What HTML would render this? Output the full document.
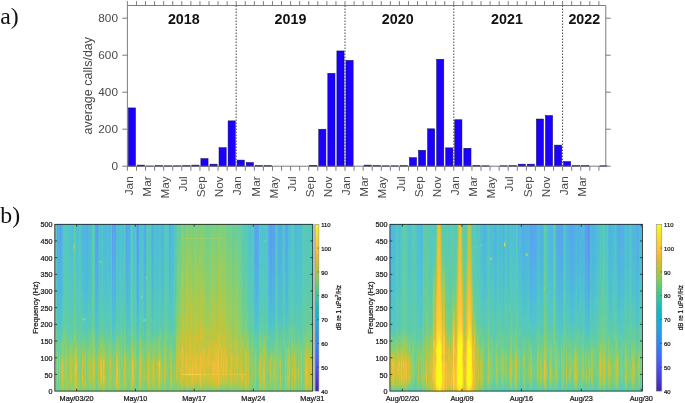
<!DOCTYPE html>
<html><head><meta charset="utf-8"><title>Figure</title>
<style>
html,body{margin:0;padding:0;background:#fff}
#p{position:relative;width:685px;height:403px;overflow:hidden;background:#fff;font-family:"Liberation Sans",sans-serif}
.sp{position:absolute;display:flex;top:224px;height:167px}
.sp i{flex:1 0 0;display:block;height:100%}
svg{position:absolute;left:0;top:0;font-family:"Liberation Sans",sans-serif}
.s{stroke:#161616;stroke-width:.22px}
</style></head><body><div id="p">
<div class="sp" style="left:55px;width:258px"><i style="background:linear-gradient(#50c1cf,#51c3cc,#51c3cb,#52c4c9,#52c4c9,#52c4c9,#52c4c9,#56c7c2,#52c5c8,#55c7c2,#56c7c1,#57c9bb,#58c9b9,#59cab5,#5dcbae,#5ccbaf,#5dcbae,#6dce92,#73ce8a,#7fcf7c,#7dcf7d,#74ce89,#88ce71,#78cf84,#7acf81,#6ece91)"></i><i style="background:linear-gradient(#53c5c6,#55c7c3,#56c7c1,#56c7c2,#57c8bd,#56c8bf,#55c7c2,#58c9b9,#56c8bf,#57c8bc,#59c9b6,#5ccab0,#5ecbad,#5ecbac,#60cca7,#5fcbaa,#77cf85,#68cd99,#6fce90,#75cf88,#86ce74,#7ecf7d,#80cf7b,#7acf81,#77cf85,#7bcf80)"></i><i style="background:linear-gradient(#5ba1ef,#5aa3ee,#5aa3ee,#57a8eb,#57a8eb,#55ace8,#55ace8,#54aee7,#53afe6,#51b3e2,#51b4e2,#50b5e0,#4fb9dc,#4fbada,#50c2ce,#52c5c8,#53c5c7,#5acab4,#66cd9d,#7ccf7f,#acca4d,#bec63e,#c0c63d,#c3c53a,#b2c947,#87ce72)"></i><i style="background:linear-gradient(#58a5ed,#57a8eb,#55ace9,#56a9ea,#53b0e5,#52b1e4,#52b1e4,#51b3e2,#51b4e1,#4fb8dd,#4fb9dc,#4fbbd9,#4fbcd8,#4fc1cf,#4fc1cf,#52c5c8,#56c7c1,#5bcab1,#69ce98,#5fcca8,#6ece91,#6ace97,#6cce93,#75cf88,#6ace97,#66cd9c)"></i><i style="background:linear-gradient(#5aa3ee,#57a9eb,#58a7ec,#57a7ec,#55abe9,#56a9ea,#54aee7,#52b1e4,#52b1e4,#51b3e3,#52b2e4,#4fbadb,#4fbbd9,#4fc0d2,#51c3cc,#51c3cc,#58c9ba,#5acab4,#72ce8c,#81cf79,#b1c948,#b2c947,#b3c846,#aec94b,#a9ca4f,#93cd65)"></i><i style="background:linear-gradient(#5c9ef0,#5ba0ef,#59a4ed,#59a5ed,#58a6ed,#55ace8,#55abe9,#53b0e5,#53afe6,#53aee7,#50b5e1,#4fb9dc,#4fbbd9,#4fbfd3,#4fbfd3,#4fc1d0,#56c8bf,#58c9b9,#64cda0,#67cd9b,#76cf86,#82cf78,#80cf7a,#81cf79,#76cf86,#7fcf7c)"></i><i style="background:linear-gradient(#54ade7,#54aee7,#53b0e5,#53afe6,#51b3e2,#50b6df,#50b5e0,#50b5e0,#50b6df,#4fbadb,#4fbadb,#4fbcd7,#4fc0d1,#50c2ce,#53c5c7,#55c7c2,#58c9b9,#68cd99,#78cf84,#82cf78,#97cd61,#c1c53c,#c7c438,#b1c947,#a2cb56,#95cd62)"></i><i style="background:linear-gradient(#4fbada,#4fb8dc,#4fb9dc,#4fbbd9,#4fbbda,#4fbdd7,#4fbed4,#4fc0d2,#4fc1d0,#4fbfd2,#4fc0d2,#52c5c8,#53c6c6,#56c8c0,#57c8bd,#5bcab1,#63cda1,#68cd9a,#8dce6b,#87ce72,#acca4c,#e3bf36,#eabe38,#d9c035,#d2c235,#97cd60)"></i><i style="background:linear-gradient(#54c6c4,#56c8c0,#56c8c0,#56c7c0,#56c7c2,#57c8bd,#57c8bc,#57c8be,#57c8bc,#59c9b7,#59c9b7,#5bcab2,#5ecbab,#61cca6,#61cca5,#63cda1,#67cd9a,#7acf82,#83cf77,#8ece6a,#98cd5f,#c4c53a,#a9ca4f,#cac337,#b7c843,#92ce66)"></i><i style="background:linear-gradient(#56c8c0,#57c8bc,#56c8bf,#57c8bd,#56c8bf,#57c9bb,#58c9ba,#58c9ba,#5ccaaf,#5ccaaf,#5ccab0,#5bcab3,#5fcba9,#61cca6,#62cca3,#61cca5,#71ce8d,#80cf7b,#76cf87,#75cf87,#8cce6c,#83cf77,#92cd66,#98cd60,#84ce75,#8ece6a)"></i><i style="background:linear-gradient(#58c9b9,#59c9b7,#5acab5,#5acab4,#5ccab0,#5acab4,#5dcbae,#5ccaaf,#5dcbaf,#5dcbad,#5fcba9,#5fcbaa,#5fcbaa,#64cd9f,#66cd9d,#67cd9b,#76cf87,#6ace96,#91ce66,#87ce72,#a5cb53,#c5c439,#ccc337,#c3c53a,#b0c949,#95cd62)"></i><i style="background:linear-gradient(#57c8bc,#55c7c3,#56c8bf,#56c7c1,#57c9bb,#58c9b9,#59c9b7,#59c9b6,#58c9b8,#59cab5,#5acab3,#5ecbac,#5ecbab,#5fcba9,#62cca3,#61cca5,#61cca5,#6ece91,#92ce66,#8cce6d,#94cd64,#b0c949,#8ace6f,#a2cb55,#9dcc5b,#93cd64)"></i><i style="background:linear-gradient(#56c8be,#56c8bf,#56c8bf,#57c8be,#57c8be,#57c9ba,#58c9b8,#59c9b6,#5bcab2,#5ecbab,#5dcbae,#5fcbaa,#60cca7,#60cca7,#60cca7,#62cca2,#74cf89,#70ce8e,#66cd9c,#81cf79,#8fce69,#91ce67,#8ace6f,#8dce6b,#9fcc58,#93cd64)"></i><i style="background:linear-gradient(#52c4c9,#52c4c9,#52c4c9,#54c6c5,#53c6c5,#56c7c1,#54c6c5,#56c7c1,#56c8c0,#56c8bf,#57c8bc,#57c9bb,#5acab4,#5acab3,#5ccab0,#5dcbad,#5bcab1,#6bce95,#70ce8f,#80cf7a,#7ecf7d,#95cd63,#8cce6c,#a1cc56,#9acd5e,#84ce75)"></i><i style="background:linear-gradient(#51c3cb,#50c3cd,#52c5c8,#54c6c5,#53c5c6,#53c6c5,#55c7c3,#56c7c2,#56c8be,#57c8be,#57c8bd,#5bcab2,#59cab5,#5dcbad,#5ccaaf,#61cca5,#68cd9a,#6fce90,#78cf84,#85ce75,#87ce72,#9dcc5b,#94cd64,#90ce68,#8cce6c,#8dce6b)"></i><i style="background:linear-gradient(#51c3cb,#50c2cd,#51c3cc,#52c5c8,#51c4ca,#54c6c4,#54c6c5,#55c7c3,#56c8c0,#57c8bd,#56c8c0,#57c8bd,#59cab6,#5bcab1,#5fcbaa,#61cca5,#61cca5,#61cca5,#7acf82,#a0cc58,#c1c53c,#b3c846,#cdc236,#bfc63d,#b1c948,#7acf81)"></i><i style="background:linear-gradient(#4fbfd3,#4fc1d0,#4fc1cf,#4fc1d0,#50c2cf,#51c3cc,#52c4c9,#51c3cb,#52c5c7,#55c7c3,#54c6c4,#56c8c0,#57c8bc,#58c9b9,#59c9b7,#5fcbaa,#61cca4,#7ccf7f,#8bce6e,#88ce71,#93cd65,#cec236,#b0c949,#e7bf37,#a7cb51,#83cf77)"></i><i style="background:linear-gradient(#4fbdd6,#4fbdd6,#4fbed5,#4fc1d0,#50c2ce,#50c2cf,#4fc0d1,#50c3cc,#51c4ca,#52c4c9,#54c6c4,#55c7c4,#54c6c4,#56c8c0,#59cab5,#5ecbac,#5dcbad,#62cca4,#85ce75,#85ce74,#99cd5e,#b6c843,#a6cb51,#a4cb54,#81cf79,#8dce6c)"></i><i style="background:linear-gradient(#52c5c8,#55c7c2,#54c6c4,#52c5c7,#56c8bf,#56c7c1,#57c9bb,#58c9ba,#57c8bc,#57c8bc,#59cab5,#5bcab3,#5acab3,#5dcbae,#60cca8,#61cca6,#66cd9d,#72ce8c,#77cf85,#72ce8c,#8fce69,#a6cb52,#a8ca50,#90ce68,#9bcc5d,#abca4d)"></i><i style="background:linear-gradient(#62cca3,#61cca6,#61cca6,#64cda0,#63cca2,#63cda1,#67cd9b,#68cd99,#6ace97,#6bce95,#67cd9b,#69cd99,#70ce8f,#6fce8f,#70ce8e,#6dce92,#70ce8f,#8fce69,#79cf82,#a1cc57,#a4cb54,#abca4e,#a7cb51,#aeca4b,#adca4c,#a7cb51)"></i><i style="background:linear-gradient(#57c8bd,#56c8be,#59c9b7,#59c9b6,#58c9b8,#58c9b8,#58c9b9,#5acab4,#5ccab0,#5dcbae,#60cca7,#5fcba9,#5fcca8,#64cda0,#68cd9a,#69ce98,#71ce8d,#8ece6b,#8fce69,#bcc63f,#dcc035,#eabe38,#f8c23b,#dcc035,#ebbe39,#91ce67)"></i><i style="background:linear-gradient(#4fc0d2,#4fbed5,#4fbfd3,#4fc0d2,#51c3cc,#50c2ce,#50c2ce,#51c3cb,#53c6c6,#52c5c8,#56c8c0,#56c8c0,#57c8bd,#59c9b6,#5dcbaf,#5fcbaa,#6dce92,#70ce8e,#8cce6d,#9fcc58,#bcc63f,#f5c03b,#dec035,#d3c135,#cec236,#aaca4e)"></i><i style="background:linear-gradient(#4fc0d1,#50c2ce,#50c2cd,#51c3cc,#51c4c9,#52c4c9,#53c5c6,#52c4c9,#53c5c7,#56c8c0,#56c8bf,#56c8be,#5bcab2,#58c9ba,#5bcab2,#5ecbab,#5fcbaa,#60cca8,#72ce8c,#8ece6b,#99cd5f,#acca4d,#a1cc57,#9dcc5a,#a8ca50,#7fcf7b)"></i><i style="background:linear-gradient(#4fc1d0,#50c1cf,#50c1cf,#50c1cf,#51c4ca,#50c3cd,#51c4ca,#50c2ce,#52c4c9,#53c6c6,#56c7c1,#57c8bd,#57c8be,#58c9b9,#59c9b7,#5dcbae,#63cda1,#62cca3,#74ce89,#76cf87,#7dcf7e,#7fcf7b,#85ce74,#a0cc58,#8bce6e,#7bcf80)"></i><i style="background:linear-gradient(#57c8bc,#57c8bc,#56c8be,#5bcab3,#5ccab0,#59c9b7,#59c9b7,#5dcbae,#5ccaaf,#5dcbae,#5fcbaa,#5dcbae,#62cca4,#61cca6,#61cca5,#62cca2,#62cca4,#72ce8b,#7ccf7f,#89ce70,#96cd61,#bec63d,#84ce76,#a6cb52,#afc949,#7fcf7b)"></i><i style="background:linear-gradient(#52c5c8,#53c6c6,#52c5c7,#53c6c6,#55c7c2,#56c7c1,#57c8be,#57c8bc,#57c9bb,#59cab5,#58c9ba,#5ccaaf,#5ccab0,#5ccaaf,#5dcbae,#63cda1,#64cda0,#68cd9a,#69ce98,#86ce73,#74cf89,#7bcf81,#72ce8c,#85ce74,#7ecf7d,#80cf7a)"></i><i style="background:linear-gradient(#4fbfd3,#4fbed5,#4fbdd7,#50c2ce,#50c2ce,#50c2ce,#51c3cb,#51c4cb,#54c6c5,#53c5c7,#54c6c4,#57c9bb,#57c9ba,#57c8bd,#5bcab2,#5bcab1,#60cca6,#6ace96,#68cd99,#7ecf7d,#89ce70,#80cf7a,#8cce6d,#8ece6a,#7bcf80,#7ccf7f)"></i><i style="background:linear-gradient(#4fbada,#4fb8dd,#4fbbda,#4fbbd9,#4fbbda,#4fbdd7,#4fc0d2,#4fc0d1,#4fc0d1,#4fc1cf,#51c3cb,#52c4c9,#55c7c2,#57c8be,#59c9b6,#59cab5,#5ccbaf,#6ace97,#7ecf7d,#9ccc5c,#bdc63e,#e0bf36,#d3c135,#f1bf3a,#c6c439,#96cd62)"></i><i style="background:linear-gradient(#50b6e0,#4fbbd9,#4fbadb,#4fbcd8,#4fbcd8,#4fbdd7,#4fbdd6,#4fbfd2,#50c1cf,#50c1cf,#4fc0d2,#51c4ca,#51c4ca,#52c5c8,#55c7c3,#59c9b6,#5acab4,#64cd9f,#76cf86,#74cf89,#8cce6c,#96cd62,#89ce6f,#86ce73,#7acf81,#7bcf80)"></i><i style="background:linear-gradient(#52b1e4,#51b4e2,#52b1e5,#51b4e1,#51b3e2,#50b6df,#4fb8dd,#4fb8dd,#4fbdd6,#4fbbd9,#4fbdd7,#4fc0d2,#4fc1d0,#51c4ca,#54c6c4,#56c7c1,#5dcbad,#64cd9f,#75cf88,#84ce75,#b2c947,#b2c947,#a5cb53,#b6c844,#b1c948,#81cf79)"></i><i style="background:linear-gradient(#51b4e2,#50b5e1,#4fb9dc,#50b7df,#4fb8dd,#4fbbda,#4fbed5,#4fbcd8,#4fbdd6,#4fbed4,#4fc0d1,#51c3cb,#51c4ca,#55c7c3,#56c8be,#57c9bb,#57c8bd,#67cd9b,#6bce95,#a0cc57,#a8cb50,#bdc63e,#b5c844,#bfc63d,#c6c439,#81cf79)"></i><i style="background:linear-gradient(#53aee6,#54aee7,#52b2e3,#53afe6,#52b2e4,#50b6df,#50b5e1,#4fb7de,#4fb8dd,#4fb9dc,#4fbbd9,#4fbfd2,#4fc0d1,#50c2cd,#53c6c6,#54c6c4,#59cab6,#5fcbaa,#76cf86,#6ace97,#7acf82,#70ce8e,#7ecf7d,#72ce8b,#8bce6d,#76cf86)"></i><i style="background:linear-gradient(#54ade7,#52b1e5,#52b0e5,#51b3e2,#51b3e2,#52b1e5,#50b7de,#50b7de,#4fb8dd,#4fbadb,#4fbbd9,#4fc1d0,#4fc0d1,#50c3cd,#51c3cc,#55c7c3,#58c9b9,#5dcbae,#63cda1,#79cf83,#84ce75,#94cd64,#95cd63,#81cf79,#89ce70,#70ce8f)"></i><i style="background:linear-gradient(#4fbbd9,#4fbcd8,#4fbcd8,#4fbed5,#4fbed5,#4fc1d0,#4fc1d0,#51c3cc,#4fc0d2,#50c2ce,#52c4c9,#53c5c6,#57c9bb,#57c8bd,#57c9bb,#5acab5,#5ecbab,#6cce93,#72ce8c,#8bce6d,#95cd63,#abca4d,#9dcc5a,#a6cb52,#87ce72,#77cf86)"></i><i style="background:linear-gradient(#52b2e4,#51b4e2,#51b2e3,#51b3e3,#50b5e1,#50b7de,#50b5e0,#50b7de,#4fbbd9,#4fbbd9,#4fbcd7,#4fc0d1,#50c1cf,#54c6c4,#55c7c3,#56c7c1,#5ccab0,#6dce92,#65cd9d,#83ce76,#bbc740,#99cd5e,#b7c843,#acca4c,#93cd65,#7dcf7d)"></i><i style="background:linear-gradient(#4fbcd7,#4fbfd4,#4fbcd8,#4fbfd3,#4fbed4,#4fbfd4,#4fc0d1,#4fc1d0,#50c2ce,#50c3cc,#51c3cb,#51c3cc,#55c7c2,#54c6c4,#58c9ba,#59c9b6,#5fcbaa,#6ace96,#7acf82,#93cd65,#8ace6e,#bfc63d,#adca4b,#cac337,#a5cb52,#7fcf7b)"></i><i style="background:linear-gradient(#4fbdd6,#4fbdd6,#4fbed4,#4fc0d2,#4fbfd4,#50c2ce,#4fc1d0,#50c2ce,#51c4ca,#51c3cb,#52c5c8,#54c6c4,#55c7c2,#57c8bc,#58c9b8,#5acab5,#62cca3,#6ece91,#85ce74,#8dce6b,#97cd61,#9ccc5c,#a3cb55,#bbc73f,#99cd5f,#75cf88)"></i><i style="background:linear-gradient(#5dcbae,#5dcbaf,#5dcbae,#5ecbac,#5fcca8,#5ccaaf,#60cca7,#62cca4,#63cda1,#5fcbaa,#60cca7,#65cd9f,#67cd9a,#65cd9e,#6cce94,#69ce97,#77cf85,#7ecf7c,#90ce69,#84ce75,#a1cc57,#b0c948,#aec94a,#a5cb53,#8dce6b,#80cf7a)"></i><i style="background:linear-gradient(#60cca6,#61cca5,#60cca8,#64cda0,#65cd9e,#62cca4,#66cd9d,#66cd9d,#64cd9f,#67cd9b,#69ce98,#6bce96,#6bce95,#6ace96,#74ce8a,#6cce94,#72ce8b,#93cd65,#97cd61,#b2c947,#bfc63d,#ddc035,#e2bf36,#dec036,#c0c53c,#91ce67)"></i><i style="background:linear-gradient(#53c5c6,#55c7c3,#56c8bf,#54c6c5,#56c7c1,#57c8bc,#56c8be,#56c8c0,#57c9bb,#5bcab2,#5dcbaf,#5bcab2,#5ccaaf,#5ccab0,#60cca8,#63cda1,#64cda0,#7ccf7f,#7fcf7c,#96cd62,#adca4b,#cac337,#d6c135,#c9c337,#a6cb52,#91ce67)"></i><i style="background:linear-gradient(#5ba0f0,#59a5ed,#58a7ec,#58a6ec,#58a6ec,#56a9eb,#55ace8,#54aee7,#52b2e4,#51b3e2,#51b3e3,#50b7df,#4fbada,#4fbed5,#4fbfd3,#50c1cf,#56c8be,#5ccaaf,#63cda1,#77cf85,#73ce8b,#83cf77,#7bcf80,#84ce75,#81cf79,#7ecf7d)"></i><i style="background:linear-gradient(#5e9af1,#5e9bf1,#5aa2ef,#5ba0f0,#59a4ed,#58a7ec,#57a8eb,#56aaea,#56a9ea,#53afe6,#52b1e5,#50b5e0,#50b7de,#4fbbd9,#4fbfd3,#4fbfd3,#53c6c6,#56c8be,#63cca2,#5dcbad,#78cf84,#78cf84,#75cf88,#7dcf7e,#68cd9a,#6ace97)"></i><i style="background:linear-gradient(#6294f3,#6097f2,#5f98f2,#5e9bf1,#5e9cf1,#5ba1ef,#59a4ed,#58a7ec,#57a8eb,#55ace8,#55ace8,#52b1e4,#51b4e2,#4fb8dd,#4fbadb,#4fbed4,#4fbfd4,#59c9b7,#58c9ba,#64cd9f,#7bcf81,#72ce8c,#7dcf7d,#70ce8e,#79cf82,#6ece91)"></i><i style="background:linear-gradient(#51b4e1,#50b7de,#50b7de,#4fb9dc,#4fb7de,#4fbbd9,#4fbcd7,#4fbbd9,#4fbdd7,#4fbdd6,#4fbed4,#4fc1cf,#51c3cb,#52c4c9,#53c6c5,#58c9b9,#5ccbaf,#64cda0,#70ce8e,#91ce67,#a3cb55,#bcc63f,#a9ca4f,#bac740,#a0cc58,#7dcf7d)"></i><i style="background:linear-gradient(#4fbdd7,#4fbbd9,#4fbed5,#4fbed4,#4fc1d0,#4fbdd6,#4fc0d2,#50c2ce,#51c4ca,#51c3cb,#53c5c7,#53c5c7,#56c8be,#56c8c0,#58c9ba,#5bcab2,#5fcbaa,#72ce8c,#71ce8d,#8ace6f,#95cd63,#b3c846,#94cd64,#9ccc5c,#adca4c,#85ce74)"></i><i style="background:linear-gradient(#4fc0d1,#4fc1d0,#4fc1d0,#50c3cc,#50c1cf,#50c3cc,#50c2cd,#52c4c9,#52c4c9,#51c4ca,#57c8bc,#56c8c0,#58c9b9,#59c9b6,#59c9b7,#60cca8,#65cd9f,#88ce71,#8bce6d,#abca4e,#c8c338,#e9be38,#e5bf37,#d7c135,#b9c741,#8cce6c)"></i><i style="background:linear-gradient(#4fbfd4,#4fbfd3,#4fbed5,#4fbed5,#50c1cf,#50c1cf,#50c2ce,#50c2cd,#53c5c6,#52c5c8,#54c6c4,#56c7c1,#56c7c1,#59c9b7,#5bcab2,#5bcab3,#62cca4,#64cda0,#93cd65,#93cd65,#d7c135,#e5bf37,#ecbf39,#f2bf3b,#d1c236,#80cf7a)"></i><i style="background:linear-gradient(#50c3cc,#51c4ca,#51c4cb,#55c7c2,#54c6c5,#54c6c5,#56c8bf,#56c8bf,#56c8c0,#58c9b9,#57c8bd,#58c9b9,#5bcab1,#5dcbad,#5fcca8,#5fcba9,#69cd99,#74cf89,#8fce6a,#8dce6c,#9fcc58,#c5c439,#c3c53a,#b0c949,#b2c947,#a1cc57)"></i><i style="background:linear-gradient(#4fbadb,#4fbbd9,#4fbdd6,#4fbfd3,#4fbdd6,#4fbfd3,#50c2cf,#4fc1cf,#4fc1cf,#50c2cd,#52c4c9,#53c6c5,#56c7c1,#56c8bf,#58c9ba,#5ccab0,#5dcbae,#6ace97,#7fcf7b,#b2c946,#d6c135,#f3c03b,#e4bf37,#f6c13b,#d9c035,#98cd60)"></i><i style="background:linear-gradient(#4fb9db,#4fbada,#4fbcd8,#4fbed5,#4fbdd6,#4fbfd3,#4fc0d2,#4fc1d0,#4fc0d1,#52c5c8,#50c2cd,#55c7c3,#55c7c2,#57c9bb,#58c9b8,#5acab3,#5bcab1,#67cd9b,#83cf77,#9ccc5b,#b7c843,#dbc035,#cec236,#e3bf36,#c9c337,#88ce71)"></i><i style="background:linear-gradient(#4fbbd9,#4fbada,#4fbbda,#4fbbda,#4fc0d1,#4fc0d1,#4fc0d1,#4fc1d0,#4fc0d1,#50c2ce,#52c5c7,#52c4c9,#55c7c2,#57c8bc,#59cab5,#59c9b7,#5ecbac,#62cca4,#68cd9a,#84ce75,#99cd5e,#a5cb53,#92cd66,#a2cc56,#95cd63,#78cf84)"></i><i style="background:linear-gradient(#52b2e4,#50b6df,#50b6df,#50b7de,#4fb9dc,#4fb8dd,#4fbada,#4fbcd7,#4fbcd8,#4fbed5,#4fbfd3,#51c3cc,#51c4ca,#55c7c3,#55c7c2,#58c9ba,#5ccab0,#64cda0,#6bce95,#77cf86,#92cd66,#84ce76,#8ece6a,#96cd61,#86ce73,#75cf88)"></i><i style="background:linear-gradient(#51c4ca,#52c5c8,#51c4ca,#53c5c6,#55c7c3,#55c7c3,#53c6c5,#55c7c3,#56c8bf,#57c8bd,#59c9b7,#59cab6,#5acab3,#5dcbad,#5dcbaf,#5dcbae,#5fcca8,#77cf86,#74cf89,#7ecf7d,#8dce6c,#9dcc5b,#7acf81,#83cf77,#91ce66,#7ccf7e)"></i><i style="background:linear-gradient(#4fbadb,#4fb8dc,#4fbada,#4fbada,#4fbcd8,#4fbfd2,#4fbed4,#4fbfd3,#4fc0d1,#50c2ce,#51c3cc,#53c5c7,#53c5c7,#57c8bc,#58c9ba,#57c9bb,#5bcab1,#68cd9a,#6ece91,#75cf88,#7fcf7b,#8dce6c,#82cf78,#83cf77,#80cf7a,#78cf84)"></i><i style="background:linear-gradient(#4fbcd7,#4fbed5,#4fbfd3,#4fbed4,#4fc0d1,#4fc1d0,#4fc0d1,#50c2cd,#50c1cf,#50c3cc,#51c4ca,#55c7c3,#56c7c1,#59cab6,#56c8be,#59cab6,#59c9b7,#6cce94,#86ce74,#a9ca4f,#a6cb52,#bec63e,#b8c742,#bbc740,#b8c742,#8ace6f)"></i><i style="background:linear-gradient(#4fbfd4,#4fbed4,#4fbfd2,#4fbed5,#4fc0d1,#4fc1d0,#4fc1cf,#50c2ce,#52c4c8,#53c5c6,#54c6c4,#53c6c6,#56c8bf,#57c9bb,#59c9b7,#62cca4,#65cd9e,#6dce92,#79cf83,#94cd64,#b3c946,#dac035,#b6c844,#b3c946,#b3c946,#76cf87)"></i><i style="background:linear-gradient(#54c6c4,#55c7c3,#56c7c2,#55c7c2,#55c7c2,#56c7c2,#54c6c5,#55c7c2,#57c8be,#59c9b7,#58c9b9,#5acab4,#5dcbad,#5fcbaa,#60cca7,#5fcbaa,#71ce8c,#63cda1,#7bcf80,#78cf83,#95cd63,#90ce68,#90ce69,#9acd5e,#8cce6c,#91ce67)"></i><i style="background:linear-gradient(#5e9bf1,#5e9bf1,#5c9ff0,#5e9bf1,#5ba1ef,#5aa3ee,#59a4ed,#57a8eb,#56aaea,#54ade8,#52b0e5,#51b3e2,#50b6df,#4fbcd8,#4fbed5,#4fc1d0,#51c3cb,#56c7c1,#69ce97,#6cce94,#86ce74,#96cd62,#8ece6b,#81cf79,#95cd63,#76cf87)"></i><i style="background:linear-gradient(#59a3ee,#57a8eb,#55abe9,#56aaea,#54ade7,#55ace8,#54aee7,#52b1e4,#51b4e2,#50b6e0,#50b5e1,#4fbada,#4fbdd6,#4fc0d2,#50c2ce,#51c4ca,#57c8bc,#65cd9f,#66cd9d,#7dcf7e,#76cf87,#81cf79,#9ecc5a,#8cce6c,#7dcf7e,#77cf85)"></i><i style="background:linear-gradient(#5c9ff0,#59a4ed,#58a6ed,#58a5ed,#57a8eb,#57a8eb,#56a9ea,#53afe6,#53afe6,#52b2e3,#52b2e3,#50b6df,#4fb9dc,#4fbcd8,#50c2ce,#51c3cb,#57c8bc,#58c9ba,#61cca5,#75cf88,#6cce94,#81cf79,#83ce76,#89ce70,#8fce69,#6ace97)"></i><i style="background:linear-gradient(#5aa2ef,#5ba0ef,#5ba1ef,#58a6ed,#56aaea,#58a7ec,#55ace8,#54aee7,#53afe6,#51b3e2,#50b6df,#50b7de,#4fbada,#4fbcd7,#4fc0d2,#52c5c8,#54c6c5,#5ccbaf,#63cda1,#79cf83,#8dce6b,#8fce69,#87ce72,#acca4c,#9acd5e,#75cf88)"></i><i style="background:linear-gradient(#4fbdd6,#4fc0d1,#4fc0d1,#4fc1d0,#4fc0d1,#51c3cb,#50c2ce,#51c4ca,#51c4ca,#51c3cb,#53c5c7,#56c7c0,#56c8be,#5acab5,#5bcab2,#5ecbab,#63cda1,#6fce90,#85ce74,#98cd60,#d0c236,#ddc035,#ebbe39,#e7bf37,#e4bf37,#a0cc58)"></i><i style="background:linear-gradient(#50c3cd,#51c3cb,#50c1cf,#52c4c9,#51c4ca,#54c6c5,#55c7c3,#52c5c8,#56c8c0,#57c9bb,#56c8be,#57c8bc,#5bcab1,#5dcbae,#5ecbab,#63cca2,#60cca6,#7dcf7e,#7fcf7c,#a4cb54,#e2bf36,#e5bf37,#fac63a,#edbf39,#d1c236,#a4cb54)"></i><i style="background:linear-gradient(#4fbdd6,#4fc1d0,#4fbfd4,#4fc0d1,#4fc0d2,#50c2ce,#50c2ce,#51c3cb,#52c5c8,#50c3cc,#52c5c7,#54c6c4,#57c8be,#58c9b9,#59c9b7,#5bcab1,#59cab5,#70ce8e,#8ace6f,#86ce73,#92cd66,#aaca4e,#9acd5e,#b3c846,#b5c845,#9acd5d)"></i><i style="background:linear-gradient(#4fc0d2,#4fbfd3,#50c1cf,#4fc1d0,#51c3cc,#51c3cb,#51c3cb,#52c5c8,#54c6c4,#52c4c9,#56c7c1,#56c8bf,#56c8be,#58c9b9,#59c9b6,#5ecbab,#64cda0,#69ce98,#6dce93,#8dce6c,#a4cb54,#a2cc56,#cec236,#c6c439,#b9c741,#93cd65)"></i><i style="background:linear-gradient(#4fc1d0,#50c3cc,#4fc1d0,#50c2cd,#51c3cb,#51c4ca,#56c7c1,#55c7c3,#54c7c4,#57c8bd,#57c8bc,#59c9b6,#59c9b6,#5dcbaf,#5ccbaf,#5ccab0,#62cca4,#78cf85,#73ce8a,#7acf81,#8bce6d,#79cf82,#91ce67,#80cf7b,#8dce6c,#84ce75)"></i><i style="background:linear-gradient(#56c7c1,#55c7c2,#57c8bd,#57c8bc,#59c9b7,#59cab6,#59c9b6,#59cab5,#5acab3,#5bcab1,#5ecbab,#5fcba9,#62cca4,#60cca7,#62cca3,#66cd9d,#73ce8a,#81cf79,#79cf83,#8ece6b,#9acd5e,#adca4b,#87ce72,#85ce75,#9dcc5b,#7acf81)"></i><i style="background:linear-gradient(#4fbbd9,#4fbcd8,#4fbdd6,#4fbdd6,#4fbfd3,#4fbed5,#50c2ce,#4fc0d1,#50c2ce,#52c4c9,#52c4c9,#53c5c7,#57c9bb,#56c8be,#59cab6,#5acab3,#60cca8,#69ce98,#66cd9d,#6bce95,#75cf88,#89ce70,#7dcf7e,#7ccf7f,#7ccf7f,#84ce75)"></i><i style="background:linear-gradient(#51c3cb,#52c4c9,#53c6c6,#56c8bf,#54c6c5,#55c7c3,#56c8bf,#58c9b9,#56c8c0,#58c9ba,#58c9ba,#5bcab2,#5bcab2,#61cca4,#5ccaaf,#5fcca8,#65cd9d,#72ce8b,#7ccf7f,#7dcf7e,#85ce74,#8fce69,#8dce6b,#9acd5d,#93cd65,#81cf79)"></i><i style="background:linear-gradient(#55c7c3,#55c7c2,#53c6c6,#55c7c3,#56c7c2,#56c8be,#58c9b8,#56c8be,#5bcab2,#58c9b8,#5bcab1,#5acab5,#5ecbac,#5ecbab,#63cca2,#67cd9b,#75cf88,#74cf89,#7bcf80,#9ccc5c,#b8c742,#c5c439,#d9c035,#d9c035,#bec63e,#96cd62)"></i><i style="background:linear-gradient(#4fb9db,#4fb9db,#4fbbda,#4fbadb,#4fbcd8,#4fbbd9,#4fbcd8,#4fbfd3,#4fc0d1,#4fc1d0,#4fc1cf,#51c3cb,#51c4ca,#54c6c5,#56c8be,#5acab5,#5ecbaa,#6ace96,#77cf86,#8cce6c,#bac740,#d1c236,#b3c846,#bec63d,#c4c53a,#84ce75)"></i><i style="background:linear-gradient(#59a3ee,#55abe9,#56a9eb,#56a9eb,#54ace8,#54aee7,#53afe6,#53afe6,#51b2e3,#51b4e1,#50b6df,#4fbadb,#4fbcd8,#4fbfd3,#50c2ce,#52c5c8,#52c5c8,#62cca3,#60cca6,#71ce8d,#85ce74,#93cd65,#8dce6b,#84ce75,#8fce69,#71ce8c)"></i><i style="background:linear-gradient(#5aa3ee,#59a5ed,#59a4ed,#56aaea,#57a7ec,#54ade8,#57a8eb,#54ade8,#52b1e4,#52b1e4,#50b5e1,#50b7df,#4fbbd9,#4fbfd4,#4fbfd3,#50c2ce,#52c5c7,#59c9b7,#5dcbae,#7dcf7e,#84ce75,#76cf86,#7ecf7d,#81cf79,#76cf86,#67cd9a)"></i><i style="background:linear-gradient(#56aae9,#54ade7,#53afe6,#53afe6,#52b0e5,#51b3e3,#50b6df,#51b4e1,#4fb8dc,#4fbbd9,#4fbcd8,#4fbdd7,#4fbfd3,#4fc0d1,#52c4c9,#51c3cb,#59c9b7,#5ccaaf,#64cda0,#6cce93,#7ccf7f,#7ecf7d,#87ce72,#88ce71,#70ce8f,#7dcf7e)"></i><i style="background:linear-gradient(#56aae9,#56aaea,#56a9eb,#53b0e5,#54ade8,#54ade7,#52b2e4,#51b4e2,#50b5e0,#50b5e1,#4fb8dd,#4fbada,#4fbdd7,#4fbfd4,#50c3cc,#51c3cc,#57c8bd,#5fcbaa,#59c9b6,#6ace96,#73ce8b,#7bcf80,#82cf78,#7ecf7d,#75cf88,#67cd9b)"></i><i style="background:linear-gradient(#4fb9db,#4fb9db,#4fbbd9,#4fb9dc,#4fbcd7,#4fbbd8,#4fbfd4,#4fc1cf,#4fbdd7,#50c2cd,#50c3cc,#52c4c9,#51c4ca,#56c7c1,#56c7c0,#58c9ba,#59cab6,#62cca3,#72ce8c,#73ce8a,#81cf79,#98cd60,#76cf86,#91ce67,#9acd5d,#81cf79)"></i><i style="background:linear-gradient(#70ce8e,#74cf89,#72ce8b,#71ce8d,#6fce8f,#75cf88,#73ce8a,#75cf88,#75cf87,#73ce8a,#78cf84,#78cf84,#7fcf7b,#79cf82,#77cf85,#7ccf7f,#7ecf7d,#93cd65,#80cf7a,#a0cc58,#a9ca4f,#b6c844,#c1c53c,#a0cc58,#bcc73f,#99cd5f)"></i><i style="background:linear-gradient(#57c8bd,#58c9b8,#58c9ba,#57c8bc,#58c9b9,#5fcbaa,#5acab4,#5acab3,#5ccab0,#5dcbaf,#5dcbad,#60cca8,#63cca2,#64cda0,#66cd9d,#68cd9a,#72ce8b,#77cf85,#94cd64,#b0c949,#c4c43a,#f2bf3b,#f0bf3a,#efbf3a,#d8c035,#89ce70)"></i><i style="background:linear-gradient(#4fc0d1,#4fbfd2,#4fc0d1,#51c4ca,#50c2cd,#52c4c9,#52c5c8,#54c6c4,#53c5c6,#56c7c1,#55c7c2,#55c7c3,#57c9ba,#5acab3,#5dcbae,#5fcba9,#64cd9f,#72ce8c,#6fce90,#bac740,#c3c53b,#d5c135,#e4bf37,#d5c135,#c6c439,#85ce74)"></i><i style="background:linear-gradient(#4fbed5,#4fbed5,#4fbfd4,#4fc0d1,#4fc1d0,#50c2ce,#51c3cc,#51c4ca,#52c5c7,#52c5c8,#56c7c1,#56c7c1,#55c7c2,#57c8bc,#59c9b6,#5bcab1,#65cd9e,#6bce95,#75cf88,#83cf77,#93cd65,#a4cb54,#a1cc57,#9ccc5b,#9acd5e,#86ce73)"></i><i style="background:linear-gradient(#56c8c0,#56c7c1,#56c7c1,#56c8c0,#59c9b7,#57c8bd,#59c9b7,#58c9ba,#58c9b8,#5ccab0,#5ccab0,#5fcbaa,#5fcbaa,#5fcbaa,#5ecbab,#63cda1,#67cd9b,#6dce92,#80cf7a,#85ce74,#9dcc5b,#b5c844,#7bcf81,#89ce70,#8fce69,#8dce6c)"></i><i style="background:linear-gradient(#51b3e2,#52b1e4,#51b3e2,#50b5e1,#4fb9db,#4fbada,#4fb9dc,#4fbcd7,#4fbbd9,#4fbcd8,#4fbdd6,#4fbed4,#51c4ca,#52c5c7,#53c5c7,#55c7c2,#55c7c3,#60cca7,#74ce89,#6ace96,#73ce8b,#7ecf7c,#86ce73,#7acf82,#68cd9a,#70ce8e)"></i><i style="background:linear-gradient(#658bf3,#658cf3,#648df3,#6292f3,#6293f3,#5f98f2,#5e9af1,#5c9ff0,#59a3ee,#5aa3ee,#5aa3ee,#57a7ec,#54aee7,#52b1e5,#51b4e1,#4fbadb,#53c5c6,#51c3cc,#56c8bf,#62cca3,#6ece91,#78cf85,#66cd9d,#6fce90,#6cce94,#74ce8a)"></i><i style="background:linear-gradient(#5e9cf1,#5c9ff0,#5ba0ef,#59a3ee,#5c9ff0,#5aa2ee,#58a6ed,#55abe9,#54ade8,#53aee7,#52b2e4,#51b4e1,#51b4e2,#4fbadb,#4fbdd6,#4fc0d1,#56c8be,#57c8bc,#6ace97,#63cca2,#6ace96,#7ccf7f,#81cf79,#7dcf7d,#83ce76,#75cf88)"></i><i style="background:linear-gradient(#4fbed5,#4fbed5,#4fc0d2,#4fbfd3,#4fc0d2,#4fc0d2,#4fc1d0,#52c4c9,#50c3cc,#52c5c8,#54c6c4,#53c6c6,#57c8be,#57c8bc,#5bcab3,#5dcbae,#60cca8,#64cd9f,#8ace6e,#a3cb55,#b6c844,#a1cc57,#bcc73f,#bec63e,#c2c53b,#8cce6c)"></i><i style="background:linear-gradient(#4fbfd2,#51c3cb,#51c4ca,#51c4cb,#50c1cf,#53c5c7,#52c4c8,#53c5c7,#56c8c0,#55c7c2,#59c9b7,#56c8bf,#58c9b8,#5acab4,#5acab3,#61cca5,#67cd9b,#79cf83,#a9ca4f,#92ce66,#cdc336,#e4bf37,#eabe38,#d9c035,#d9c035,#81cf79)"></i><i style="background:linear-gradient(#50c1cf,#4fc1d0,#51c4cb,#50c2cf,#50c3cd,#51c4ca,#53c5c6,#51c4ca,#56c7c1,#54c6c4,#55c7c3,#57c8bd,#57c8bc,#59c9b7,#5ccbaf,#5dcbae,#5ccab0,#69ce98,#81cf79,#81cf78,#b5c844,#bdc63e,#a2cb55,#a5cb52,#88ce71,#84ce76)"></i><i style="background:linear-gradient(#4fc0d1,#4fc0d1,#51c3cb,#50c3cc,#51c4ca,#52c4c9,#54c6c5,#51c4ca,#55c7c3,#54c6c4,#56c8bf,#56c8c0,#57c8be,#59c9b7,#5bcab3,#5ecbab,#65cd9f,#5fcba9,#6ece91,#83ce76,#93cd65,#8dce6c,#95cd63,#85ce74,#85ce74,#82cf77)"></i><i style="background:linear-gradient(#4fc0d2,#4fbed5,#4fbed5,#4fc1d0,#50c2cf,#50c2cf,#50c1cf,#51c3cb,#53c5c7,#51c4ca,#52c5c7,#55c7c4,#56c8c0,#57c8bc,#5acab5,#5ccab0,#61cca5,#60cca7,#67cd9b,#88ce70,#82cf78,#9dcc5b,#8fce69,#a4cb54,#88ce71,#7fcf7b)"></i><i style="background:linear-gradient(#57a8eb,#57a7ec,#52b1e5,#54ade7,#52b1e4,#54ade8,#52b1e4,#51b4e1,#52b2e3,#50b7de,#4fbadb,#4fbed5,#4fbed4,#4fbfd3,#50c2cf,#51c3cc,#53c5c7,#5acab3,#71ce8d,#71ce8d,#78cf84,#8dce6b,#a1cc57,#aec94a,#7fcf7c,#81cf79)"></i><i style="background:linear-gradient(#59a4ee,#58a6ec,#58a6ed,#57a8eb,#56aaea,#55abe9,#55ace8,#54ade8,#54ade7,#50b5e1,#50b7de,#4fb7de,#4fbada,#4fbed4,#4fc0d1,#52c4c9,#57c8bc,#56c7c1,#5bcab1,#70ce8f,#6ace97,#6fce90,#6fce90,#81cf79,#65cd9e,#75cf88)"></i><i style="background:linear-gradient(#50c2cd,#50c3cc,#51c4ca,#52c5c8,#52c5c8,#53c5c6,#56c8c0,#58c9ba,#56c7c1,#56c8be,#58c9ba,#5acab4,#5acab4,#5ccab0,#5ccaaf,#60cca7,#6bce95,#6cce93,#7fcf7b,#82cf78,#96cd61,#a8cb50,#9bcd5d,#a6cb52,#89ce70,#75cf88)"></i><i style="background:linear-gradient(#58c9b9,#58c9b8,#5acab4,#5bcab2,#5ecbac,#5ecbab,#5bcab1,#5ecbab,#60cca8,#61cca4,#61cca5,#63cca2,#65cd9f,#67cd9b,#69ce98,#67cd9b,#72ce8c,#7acf81,#86ce74,#85ce74,#a2cb55,#a7cb51,#9ecc5a,#bec63e,#88ce71,#71ce8d)"></i><i style="background:linear-gradient(#55c7c2,#58c9b8,#58c9ba,#59cab6,#57c8bd,#59cab5,#5bcab1,#5acab3,#5dcbae,#5ccbaf,#5dcbae,#61cca6,#64cda0,#63cca2,#65cd9e,#64cda0,#73ce8a,#6ece92,#76cf87,#97cd61,#c5c439,#cbc337,#d3c135,#dac035,#cbc337,#91ce67)"></i><i style="background:linear-gradient(#52c5c8,#53c5c7,#51c4ca,#52c4c9,#53c5c6,#55c7c3,#56c7c1,#57c8bd,#56c7c1,#56c8be,#59c9b7,#5acab5,#59c9b7,#5bcab1,#60cca7,#60cca8,#63cca2,#7dcf7e,#84ce75,#92ce66,#c5c439,#bec63e,#d3c135,#cec236,#bac740,#89ce70)"></i><i style="background:linear-gradient(#56c8bf,#56c8be,#56c8bf,#58c9b9,#57c8bc,#58c9b9,#59cab5,#5acab4,#5acab3,#59c9b6,#5dcbad,#5ccbaf,#5dcbad,#64cda0,#60cca7,#66cd9c,#62cca4,#66cd9d,#8ace6e,#7acf81,#86ce73,#98cd5f,#96cd62,#a0cc57,#97cd61,#7fcf7b)"></i><i style="background:linear-gradient(#50b5e1,#50b6df,#4fb8dd,#4fb7de,#4fb8dd,#4fbcd8,#4fbbd9,#4fbdd6,#4fbed5,#4fc0d2,#51c3cb,#50c3cc,#52c5c8,#51c4ca,#56c8bf,#56c8be,#59cab6,#63cda1,#71ce8d,#73ce8a,#8cce6c,#a7cb51,#9dcc5b,#91ce67,#9dcc5b,#7bcf80)"></i><i style="background:linear-gradient(#56aaea,#54aee7,#52b1e4,#52b2e3,#52b1e4,#51b4e1,#50b5e0,#4fb8de,#50b7de,#4fb8dd,#4fbcd8,#4fc0d2,#4fc0d2,#50c3cd,#52c4c9,#55c7c2,#5acab4,#65cd9f,#66cd9d,#90ce68,#8bce6e,#bcc63f,#c9c337,#a3cb55,#abca4d,#77cf85)"></i><i style="background:linear-gradient(#59a4ee,#56a9ea,#55abe9,#55abe9,#55ace8,#54ade8,#52b2e3,#51b4e1,#52b1e5,#51b4e2,#50b5e0,#4fbcd8,#4fbed5,#4fc0d2,#50c3cc,#55c7c2,#53c6c6,#5dcbae,#76cf86,#8dce6b,#afc949,#cbc337,#cfc236,#d0c236,#b6c844,#93cd65)"></i><i style="background:linear-gradient(#4fc1d0,#50c2ce,#50c1cf,#50c2cf,#51c4ca,#51c4ca,#52c5c8,#53c5c7,#54c6c5,#54c6c5,#56c8c0,#57c9bb,#59c9b6,#5acab3,#5bcab1,#5ecbab,#61cca5,#6ece91,#85ce74,#90ce68,#a7cb51,#c1c53c,#bdc63f,#c3c53a,#bdc63f,#8dce6b)"></i><i style="background:linear-gradient(#4fbed5,#4fbfd3,#4fc1d0,#4fc0d1,#4fc0d1,#4fc1d0,#50c3cc,#50c1cf,#53c5c7,#54c6c5,#52c5c8,#55c7c3,#56c8bf,#59c9b7,#5acab3,#5ccab0,#5ecbac,#63cda1,#75cf88,#85ce74,#7ecf7c,#7dcf7d,#82cf78,#97cd61,#8ace6f,#81cf79)"></i><i style="background:linear-gradient(#4fbdd6,#4fbdd6,#4fbcd8,#4fbfd3,#4fbed4,#4fbfd4,#50c2cd,#50c2cd,#50c2ce,#4fc1d0,#53c5c6,#53c6c6,#53c5c7,#57c8bd,#58c9b9,#5bcab2,#5acab4,#66cd9c,#70ce8e,#85ce74,#8bce6d,#b5c844,#9dcc5a,#96cd61,#84ce75,#88ce71)"></i><i style="background:linear-gradient(#4fb9dc,#4fb9dc,#4fbcd7,#4fbdd6,#4fbdd6,#4fbfd3,#4fc1d0,#4fc0d2,#50c1cf,#50c2cd,#50c3cd,#53c5c6,#54c6c5,#55c7c3,#58c9b9,#58c9ba,#61cca5,#64cda0,#69ce97,#81cf78,#81cf79,#8cce6c,#9bcd5d,#95cd63,#94cd63,#7ccf7f)"></i><i style="background:linear-gradient(#4fbcd8,#4fbcd7,#4fbcd8,#4fbed5,#4fbfd3,#4fbed5,#4fc1d0,#52c4c9,#50c2cd,#52c4c9,#52c5c8,#53c5c6,#55c7c3,#56c8be,#58c9b9,#5bcab2,#62cca4,#74cf89,#8ece6b,#85ce74,#aaca4e,#e6bf37,#cac337,#d3c135,#bdc63f,#9bcc5c)"></i><i style="background:linear-gradient(#51c3cc,#51c3cb,#53c5c7,#53c5c6,#52c4c9,#54c6c4,#54c6c5,#56c8bf,#56c7c2,#57c8bc,#56c8bf,#59c9b7,#5acab3,#5ecbac,#5fcca8,#60cca7,#69ce98,#7dcf7e,#87ce72,#c0c53c,#c3c53b,#fac53b,#f4c03b,#eebf3a,#dfbf36,#98cd60)"></i><i style="background:linear-gradient(#51c3cb,#50c2ce,#4fc0d1,#50c3cc,#52c5c8,#53c5c7,#51c3cb,#54c6c5,#53c5c7,#55c7c3,#56c7c2,#59c9b7,#59cab5,#59c9b6,#5ecbad,#5dcbad,#6bce95,#76cf86,#78cf84,#84ce75,#a5cb53,#c6c439,#acca4d,#bdc63e,#8fce69,#8fce69)"></i><i style="background:linear-gradient(#52b1e4,#51b2e3,#50b5e1,#51b4e1,#50b7de,#4fb9dc,#4fb9db,#4fb9dc,#4fbcd7,#4fbbd9,#4fbfd3,#4fc0d2,#51c3cb,#50c2cd,#55c7c2,#57c8bc,#5ecbab,#70ce8e,#70ce8e,#86ce73,#9ccc5c,#a6cb52,#c4c43a,#e2bf36,#b9c742,#81cf78)"></i><i style="background:linear-gradient(#51b4e1,#51b4e1,#50b6df,#50b7de,#50b7de,#4fb8dd,#4fb9db,#4fbed5,#4fbdd6,#4fbdd6,#4fbfd2,#51c3cc,#51c4ca,#53c5c6,#52c4c9,#58c9b8,#5ccab0,#60cca7,#68cd9a,#6ace97,#71ce8e,#78cf84,#9acd5e,#88ce70,#7acf81,#6bce95)"></i><i style="background:linear-gradient(#50b6e0,#50b7de,#50b6df,#4fb7de,#4fb8dd,#4fbada,#4fbcd8,#4fbdd6,#4fbdd7,#4fbfd3,#50c2cd,#4fc1cf,#51c4ca,#55c7c3,#55c7c3,#56c8c0,#58c9b9,#60cca6,#6dce92,#6ace97,#8cce6c,#81cf79,#81cf7a,#8cce6d,#7fcf7c,#8dce6b)"></i><i style="background:linear-gradient(#54c6c4,#57c9ba,#58c9ba,#56c7c2,#56c8bf,#57c9bb,#5acab4,#59c9b6,#57c8bc,#5bcab1,#5dcbae,#5fcbaa,#5fcbaa,#5ccbaf,#63cda1,#67cd9b,#6bce96,#7acf82,#90ce68,#9dcc5a,#abca4d,#bec63e,#c5c439,#d9c035,#abca4d,#94cd64)"></i><i style="background:linear-gradient(#59c9b7,#57c8bc,#58c9b8,#57c8bd,#5ccab0,#5bcab2,#5acab5,#5ecbac,#5fcbaa,#60cca8,#5ecbac,#5fcca8,#63cda1,#61cca5,#68cd9a,#66cd9c,#76cf86,#85ce74,#8ace6f,#b7c843,#bac740,#bec63d,#d0c236,#c7c438,#a8ca50,#8cce6c)"></i><i style="background:linear-gradient(#55c7c2,#55c7c2,#57c9bb,#56c7c2,#56c7c2,#58c9ba,#58c9b8,#58c9b8,#58c9b8,#57c8bc,#5acab3,#5dcbad,#5ccab1,#5ecbac,#5fcbaa,#63cca2,#65cd9e,#81cf79,#71ce8d,#8bce6d,#8fce6a,#94cd64,#93cd65,#94cd64,#7ecf7d,#76cf87)"></i><i style="background:linear-gradient(#54c6c4,#53c5c6,#54c6c4,#56c7c1,#56c8bf,#56c8c0,#56c8be,#57c8be,#57c8bc,#58c9b8,#57c9ba,#5ccab1,#5ecbab,#5ccbaf,#60cca7,#5fcba9,#63cca2,#73ce8b,#69ce97,#73ce8b,#72ce8c,#83cf77,#94cd64,#82cf77,#77cf85,#6ece92)"></i><i style="background:linear-gradient(#52c4c9,#52c5c8,#51c4ca,#54c6c5,#51c4ca,#54c6c5,#54c6c4,#56c8c0,#56c8c0,#55c7c3,#59c9b6,#58c9b8,#5acab3,#5ccab0,#5dcbad,#61cca5,#62cca3,#67cd9b,#69ce98,#79cf82,#70ce8e,#8ace6f,#73ce8b,#7acf82,#6dce92,#75cf87)"></i><i style="background:linear-gradient(#52b1e5,#53b0e6,#52b0e5,#52b2e3,#50b5e0,#50b6e0,#50b7df,#50b6df,#4fb8de,#4fbbd9,#4fbdd7,#50c1cf,#50c2cf,#50c1cf,#53c5c6,#56c8c0,#57c8bd,#59cab5,#65cd9e,#76cf86,#75cf88,#79cf82,#6ace96,#76cf86,#89ce70,#71ce8e)"></i><i style="background:linear-gradient(#51b3e3,#50b5e0,#50b7de,#4fb8dd,#4fb9dc,#4fbdd7,#4fbbd9,#4fbcd8,#4fbed4,#4fc0d2,#50c2cf,#4fc0d1,#50c3cd,#55c7c2,#54c6c4,#58c9b9,#60cca7,#69ce97,#77cf85,#90ce68,#abca4d,#c3c53b,#d1c235,#bbc740,#adca4b,#8ece6a)"></i><i style="background:linear-gradient(#4fbbd9,#4fbdd6,#4fbdd7,#4fbed5,#4fc0d2,#4fc1cf,#4fbed5,#4fc0d2,#50c3cd,#51c3cb,#51c4ca,#52c5c8,#56c7c1,#57c8bc,#58c9b8,#5ccaaf,#5dcbae,#6cce94,#75cf88,#91ce67,#a8ca50,#aaca4e,#b9c741,#bec63e,#b0c949,#a5cb53)"></i><i style="background:linear-gradient(#4fb9db,#4fb8dd,#4fbada,#4fbcd8,#4fbbda,#4fbed4,#4fbfd3,#4fbed4,#4fbfd2,#50c3cc,#50c2ce,#52c5c7,#52c4c9,#56c8c0,#55c7c2,#59c9b6,#54c6c4,#65cd9e,#66cd9d,#70ce8e,#7ccf7e,#7bcf80,#86ce73,#8fce6a,#84ce76,#7fcf7b)"></i><i style="background:linear-gradient(#4fbed5,#4fbdd6,#4fc0d1,#4fc0d2,#4fc0d1,#50c3cc,#50c1cf,#50c2cd,#51c3cc,#53c5c7,#56c8be,#55c7c3,#57c8bc,#58c9b8,#59cab5,#5ccaaf,#5ecbad,#67cd9b,#63cca2,#81cf79,#84ce75,#8bce6d,#89ce70,#83cf77,#88ce71,#78cf84)"></i><i style="background:linear-gradient(#56c7c1,#57c8bc,#56c8bf,#59c9b7,#56c8bf,#59c9b7,#58c9ba,#5ccab0,#5acab3,#5acab3,#5dcbad,#5dcbae,#60cca7,#5fcba9,#66cd9c,#64cda0,#6ace96,#76cf87,#67cd9b,#70ce8f,#79cf82,#8cce6c,#8ece6a,#a3cb55,#90ce68,#77cf85)"></i><i style="background:linear-gradient(#55c7c3,#54c6c5,#54c6c4,#53c5c7,#57c8be,#56c8bf,#57c8bd,#58c9ba,#57c8bc,#59cab5,#58c9b8,#5acab4,#5dcbae,#5dcbad,#60cca7,#5ecbac,#6bce94,#64cda0,#6ece90,#71ce8d,#74cf89,#84ce75,#8ece6a,#87ce72,#77cf85,#7bcf80)"></i><i style="background:linear-gradient(#5ccaaf,#5bcab1,#5ccab0,#5fcba9,#65cd9e,#62cca4,#61cca4,#62cca3,#68cd9a,#67cd9a,#6ece91,#6dce92,#71ce8d,#78cf85,#7ecf7d,#7ccf7f,#85ce74,#9bcc5c,#acca4d,#aec94a,#c5c439,#cbc337,#cbc337,#d2c235,#7fcf7b,#84ce75)"></i><i style="background:linear-gradient(#5bcab2,#5dcbad,#5fcbaa,#5ccab0,#61cca5,#64cda0,#62cca3,#69ce98,#66cd9c,#6dce92,#68cd99,#6fce90,#75cf88,#76cf87,#78cf84,#82cf78,#8dce6c,#9ccc5c,#9fcc59,#bcc63f,#cdc336,#c0c53c,#b7c842,#c1c53c,#b3c846,#87ce72)"></i><i style="background:linear-gradient(#6bce96,#68cd99,#67cd9b,#71ce8e,#72ce8c,#77cf85,#76cf86,#82cf78,#7dcf7e,#83cf77,#7dcf7d,#83ce76,#8cce6d,#8bce6e,#9acd5e,#a3cb55,#9dcc5a,#a6cb52,#aec94a,#c5c43a,#c0c53c,#d7c135,#b1c947,#a1cc57,#a6cb52,#78cf84)"></i><i style="background:linear-gradient(#6bce94,#6ece91,#6ece91,#6dce92,#70ce8f,#7bcf80,#79cf83,#7ccf7e,#80cf7a,#86ce73,#89ce70,#8fce69,#8bce6d,#8fce69,#95cd63,#9ecc5a,#acca4c,#9bcc5c,#a4cb54,#c8c438,#d3c135,#bbc740,#c7c438,#c8c438,#96cd61,#77cf85)"></i><i style="background:linear-gradient(#63cda1,#64cd9f,#64cda0,#6ece91,#72ce8b,#6dce92,#74ce8a,#70ce8e,#76cf87,#78cf84,#80cf7b,#7ccf7e,#83cf77,#85ce74,#90ce68,#94cd64,#99cd5f,#abca4e,#b8c742,#b2c947,#d3c135,#b2c946,#d7c135,#d3c135,#b6c844,#80cf7a)"></i><i style="background:linear-gradient(#7dcf7d,#8ace6f,#85ce74,#85ce74,#8ace6e,#8fce69,#92cd66,#97cd61,#9fcc59,#a4cb54,#a8cb50,#a2cb56,#a9ca4f,#b0c949,#b2c946,#acca4d,#b1c947,#c9c337,#bac741,#c7c438,#d2c235,#c7c438,#dfbf36,#cfc236,#bbc740,#73ce8b)"></i><i style="background:linear-gradient(#85ce75,#87ce72,#83cf77,#8bce6d,#95cd63,#9bcc5d,#95cd62,#9ccc5c,#a2cc56,#a6cb52,#acca4c,#b5c844,#b4c845,#b8c742,#bcc73f,#c3c53b,#c6c439,#d3c135,#cbc337,#f6c13b,#eebf3a,#eebf3a,#e9bf38,#e1bf36,#c9c337,#85ce74)"></i><i style="background:linear-gradient(#77cf86,#7ccf7f,#7ecf7c,#84ce76,#8cce6c,#94cd64,#8dce6b,#93cd65,#97cd61,#9dcc5b,#9bcd5d,#a2cb55,#abca4d,#a9ca4f,#afc949,#b9c741,#c1c53c,#b0c948,#bdc63e,#dcc035,#e1bf36,#d3c135,#dcc035,#bcc63f,#a3cb54,#6dce92)"></i><i style="background:linear-gradient(#6bce95,#6fce90,#71ce8d,#7acf81,#7acf82,#7bcf81,#81cf78,#84ce75,#8cce6d,#87ce71,#8bce6d,#96cd62,#9bcc5c,#91ce67,#9fcc58,#a3cb55,#b2c947,#bdc63f,#b6c843,#b9c741,#cac337,#ccc336,#c3c53b,#cdc236,#a1cc57,#61cca4)"></i><i style="background:linear-gradient(#78cf84,#76cf86,#7ecf7c,#85ce74,#84ce75,#89ce6f,#8ace6e,#8ece6b,#96cd62,#94cd63,#a9ca4f,#9dcc5a,#a5cb53,#a7cb51,#b6c844,#b2c947,#c1c53c,#c8c438,#cbc337,#c9c337,#e2bf36,#e0bf36,#d2c135,#d1c235,#bbc740,#6cce94)"></i><i style="background:linear-gradient(#84ce75,#81cf79,#8cce6d,#8fce69,#94cd64,#94cd64,#a6cb52,#a6cb52,#a6cb52,#a7cb51,#b3c846,#adca4c,#b8c742,#bdc63e,#c1c53c,#bfc63d,#c2c53b,#cdc236,#d2c235,#ddc035,#d9c035,#efbf3a,#efbf3a,#c8c438,#dfbf36,#78cf84)"></i><i style="background:linear-gradient(#83cf77,#84ce76,#84ce75,#8bce6e,#88ce71,#8dce6c,#9acd5e,#9ccc5c,#9bcd5d,#a3cb55,#aeca4b,#a7cb51,#bdc63e,#abca4d,#b6c843,#b7c842,#bac741,#bcc63f,#bac741,#c6c439,#eabe38,#dec036,#dcc035,#c9c337,#a5cb53,#81cf79)"></i><i style="background:linear-gradient(#70ce8f,#7ccf7f,#83cf77,#88ce70,#89ce70,#99cd5e,#90ce69,#95cd63,#9bcc5d,#a3cb55,#a0cc57,#a7cb51,#b4c845,#aaca4e,#b6c844,#b3c846,#bcc63f,#c1c53b,#cfc236,#c6c439,#d3c135,#ddc035,#eabe38,#c8c338,#d1c236,#77cf85)"></i><i style="background:linear-gradient(#77cf85,#88ce71,#80cf7a,#83ce76,#8dce6b,#8ece6a,#92cd66,#8dce6b,#9dcc5b,#99cd5f,#a3cb55,#a2cc56,#a2cc56,#acca4c,#b7c843,#b7c842,#a8cb50,#d2c235,#d1c236,#dac035,#d9c035,#e8bf38,#f7c23b,#d0c236,#bcc63f,#7dcf7d)"></i><i style="background:linear-gradient(#7dcf7d,#88ce71,#8ace6e,#8dce6b,#93cd65,#9dcc5b,#93cd65,#9fcc58,#9acd5d,#a6cb52,#b6c843,#adca4b,#b5c845,#bbc740,#c1c53b,#bbc740,#c4c53a,#d4c135,#dac035,#ddc035,#e9be38,#c8c338,#ecbf39,#c2c53b,#c9c337,#67cd9a)"></i><i style="background:linear-gradient(#7ccf7f,#85ce74,#80cf7a,#7bcf80,#8ace6e,#8ace6f,#94cd64,#96cd62,#93cd65,#9dcc5a,#a6cb52,#a9ca4f,#9bcc5c,#bac740,#b7c843,#b6c843,#c4c53a,#c7c439,#c3c53a,#dcc035,#d5c135,#e2bf36,#e1bf36,#dbc035,#cbc337,#6dce93)"></i><i style="background:linear-gradient(#75cf88,#79cf82,#82cf78,#81cf79,#86ce73,#7fcf7b,#8cce6d,#88ce71,#91ce67,#94cd64,#96cd62,#9dcc5a,#a6cb52,#b1c948,#adca4b,#b4c845,#b6c844,#cdc236,#c3c53b,#d1c236,#d7c135,#e8bf38,#efbf3a,#f1bf3b,#cec236,#7fcf7b)"></i><i style="background:linear-gradient(#70ce8e,#77cf86,#7dcf7e,#7dcf7e,#86ce73,#83ce76,#88ce71,#94cd64,#89ce6f,#8bce6d,#93cd65,#99cd5f,#9ecc59,#9dcc5a,#acca4d,#a8ca50,#bdc63e,#c2c53b,#bfc63d,#cbc337,#cec236,#f1bf3a,#dfbf36,#d0c236,#c4c53a,#8ace6f)"></i><i style="background:linear-gradient(#78cf84,#82cf78,#7ccf7f,#89ce70,#88ce71,#8cce6c,#93cd65,#95cd63,#95cd63,#9fcc59,#a6cb51,#a6cb52,#aaca4f,#b1c948,#aaca4e,#afc94a,#b2c947,#bbc740,#cec236,#c8c438,#e3bf36,#ddc035,#e3bf36,#e6bf37,#bdc63e,#86ce73)"></i><i style="background:linear-gradient(#86ce73,#88ce71,#8cce6c,#90ce68,#95cd62,#a1cc57,#aaca4e,#a1cc56,#a3cb55,#b4c845,#abca4d,#b2c947,#b1c948,#bbc740,#c5c43a,#c7c438,#c8c338,#bdc63e,#cfc236,#e2bf36,#cdc336,#eebf3a,#d6c135,#d3c135,#a5cb53,#78cf84)"></i><i style="background:linear-gradient(#7ecf7c,#7fcf7c,#85ce74,#90ce68,#8cce6c,#95cd63,#9ccc5c,#97cd61,#a2cc56,#a1cc57,#aaca4e,#acca4c,#b1c947,#b3c846,#bfc63d,#cac337,#cbc337,#e1bf36,#c9c337,#ccc336,#e4bf37,#eebf3a,#f3c03b,#ddc035,#bac740,#81cf79)"></i><i style="background:linear-gradient(#76cf86,#7fcf7b,#7ecf7d,#7fcf7b,#80cf7b,#88ce70,#87ce72,#99cd5f,#99cd5f,#94cd64,#9bcc5c,#a5cb52,#9ecc59,#a6cb52,#acca4d,#b5c844,#bfc63d,#cec236,#c5c439,#c0c53c,#d8c035,#d0c236,#ddc035,#c1c53c,#b2c947,#74cf89)"></i><i style="background:linear-gradient(#77cf85,#80cf7b,#84ce75,#7fcf7c,#82cf78,#8cce6c,#8fce69,#93cd65,#98cd5f,#9acd5d,#99cd5e,#a3cb55,#a4cb54,#aeca4b,#a8cb50,#b6c843,#b9c741,#c4c43a,#c2c53b,#d1c236,#d1c236,#d1c236,#e1bf36,#d5c135,#a7cb51,#70ce8f)"></i><i style="background:linear-gradient(#7bcf80,#7ccf7e,#7bcf80,#7fcf7c,#90ce68,#93cd65,#95cd63,#96cd62,#99cd5f,#98cd60,#9dcc5a,#a9ca4f,#aec94a,#a7cb51,#afc94a,#b4c845,#c5c439,#c0c63d,#d2c235,#d3c135,#dac035,#e9be38,#e5bf37,#e7bf37,#bcc73f,#7ecf7c)"></i><i style="background:linear-gradient(#87ce72,#89ce70,#93cd65,#8bce6e,#98cd60,#97cd61,#a0cc58,#9dcc5b,#a8cb50,#a6cb52,#acca4d,#b4c845,#b2c947,#bbc740,#bac740,#bdc63f,#d2c235,#dec035,#c9c337,#cbc337,#f3c03b,#ebbe38,#f3c03b,#ecbf39,#e4bf37,#90ce68)"></i><i style="background:linear-gradient(#83cf77,#84ce75,#88ce71,#8bce6e,#93cd65,#a0cc58,#95cd63,#9ecc5a,#a7cb51,#afc949,#b8c742,#adca4c,#b4c845,#b7c843,#b7c843,#bac741,#c2c53b,#cfc236,#d7c135,#d8c035,#d7c135,#eabe38,#c4c43a,#e7bf37,#c5c439,#7fcf7b)"></i><i style="background:linear-gradient(#7bcf80,#83ce76,#81cf79,#88ce71,#92cd66,#93cd65,#93cd65,#96cd62,#a0cc58,#98cd5f,#abca4d,#b8c742,#b3c846,#acca4c,#b2c947,#b3c846,#cac337,#d5c135,#b2c946,#cbc337,#dcc035,#ecbf39,#e4bf37,#c5c43a,#c6c439,#78cf84)"></i><i style="background:linear-gradient(#88ce71,#86ce73,#85ce74,#95cd62,#8ece6a,#a0cc58,#94cd63,#97cd61,#a3cb55,#abca4d,#adca4b,#b2c947,#b9c741,#b7c843,#b6c844,#b9c741,#d1c236,#cdc236,#cdc336,#d0c236,#e5bf37,#d0c236,#ddc035,#ccc337,#afc94a,#7acf81)"></i><i style="background:linear-gradient(#79cf83,#81cf79,#7bcf80,#8cce6d,#7bcf80,#7ecf7d,#7fcf7b,#94cd64,#8dce6b,#9acd5e,#99cd5f,#9ecc59,#a3cb55,#a4cb54,#a3cb55,#b3c846,#c1c53c,#c2c53b,#c0c53c,#e2bf36,#e8bf38,#e5bf37,#e2bf36,#e2bf36,#b5c844,#89ce70)"></i><i style="background:linear-gradient(#70ce8f,#71ce8d,#75cf88,#77cf86,#7dcf7e,#7fcf7b,#7ecf7c,#89ce70,#87ce72,#92cd66,#9acd5d,#9bcc5d,#9fcc58,#94cd64,#a6cb52,#a5cb53,#b0c949,#bec63d,#d3c135,#d4c135,#d3c135,#d5c135,#dfbf36,#dfbf36,#a3cb54,#7dcf7e)"></i><i style="background:linear-gradient(#6cce93,#76cf86,#72ce8b,#78cf84,#7ccf7e,#7acf81,#84ce75,#82cf78,#88ce71,#8cce6d,#89ce70,#92ce66,#95cd62,#9dcc5b,#9ecc59,#9dcc5b,#adca4b,#abca4d,#bac740,#b8c742,#d8c135,#ddc035,#d2c235,#b3c846,#abca4d,#79cf82)"></i><i style="background:linear-gradient(#6cce94,#6cce94,#6fce8f,#77cf86,#78cf84,#7dcf7e,#79cf83,#7bcf80,#8cce6d,#88ce70,#88ce71,#89ce6f,#8dce6b,#93cd65,#99cd5e,#9ecc5a,#bec63d,#bdc63e,#c2c53b,#b7c842,#e4bf37,#d9c035,#c3c53b,#dcc035,#afc94a,#73ce8a)"></i><i style="background:linear-gradient(#73ce8b,#78cf84,#77cf85,#7acf81,#81cf7a,#8ace6f,#80cf7a,#8cce6c,#87ce72,#8cce6d,#92cd66,#94cd63,#9ccc5c,#9fcc59,#aaca4e,#b1c948,#b8c742,#c2c53b,#c3c53b,#dfbf36,#dec036,#eebf39,#d2c235,#d9c035,#c1c53c,#70ce8e)"></i><i style="background:linear-gradient(#7bcf80,#79cf83,#7ecf7d,#82cf77,#83ce76,#7dcf7e,#87ce72,#8ece6b,#91ce67,#98cd60,#96cd61,#9ccc5b,#a5cb53,#a1cc57,#aaca4e,#a9ca4f,#bdc63e,#bec63e,#e1bf36,#e1bf36,#e2bf36,#dbc035,#d5c135,#ddc035,#b3c846,#74ce8a)"></i><i style="background:linear-gradient(#6ace97,#71ce8d,#6bce95,#74cf89,#75cf88,#7dcf7d,#7acf81,#7dcf7e,#82cf78,#83cf77,#8ece6b,#91ce67,#8ece6a,#9ccc5b,#9dcc5a,#9ccc5c,#b1c948,#b3c846,#c4c43a,#cec236,#d9c035,#debf36,#c8c338,#d6c135,#b6c844,#74ce89)"></i><i style="background:linear-gradient(#83cf77,#82cf78,#96cd62,#8fce69,#97cd61,#97cd60,#9ccc5b,#9ecc59,#9dcc5b,#b6c843,#a8cb50,#acca4c,#b9c741,#aec94a,#c2c53b,#c4c53a,#c7c438,#cbc337,#c9c337,#dec036,#d3c135,#e4bf37,#bcc73f,#dcc035,#c6c439,#72ce8c)"></i><i style="background:linear-gradient(#80cf7a,#78cf83,#8cce6c,#8ace6f,#93cd65,#93cd65,#94cd64,#9dcc5b,#98cd5f,#9dcc5b,#a5cb53,#a5cb53,#b0c948,#a6cb51,#bac740,#b1c948,#c5c439,#b1c948,#d3c135,#d8c035,#ccc337,#ecbf39,#eabe38,#e8bf38,#bcc63f,#84ce75)"></i><i style="background:linear-gradient(#7dcf7e,#7ecf7c,#7fcf7c,#8ace6e,#8fce69,#91ce67,#93cd65,#99cd5e,#93cd65,#9fcc58,#a5cb53,#aeca4b,#a7cb51,#b0c949,#b7c843,#b4c845,#a0cc58,#bec63e,#b3c946,#d2c235,#dfbf36,#eebf3a,#e8bf38,#cfc236,#a9ca4f,#79cf83)"></i><i style="background:linear-gradient(#79cf83,#7bcf80,#83ce76,#7fcf7c,#85ce74,#8cce6c,#93cd65,#8dce6c,#8dce6b,#95cd63,#9bcc5d,#a0cc58,#aec94a,#a8ca50,#b7c843,#bcc63f,#b9c741,#b7c843,#d9c035,#d3c135,#e8bf38,#f2bf3b,#edbf39,#e6bf37,#ccc336,#86ce73)"></i><i style="background:linear-gradient(#81cf79,#7ecf7c,#82cf78,#83cf77,#88ce71,#8fce69,#98cd60,#96cd61,#9bcd5d,#9bcc5c,#9ccc5c,#9ccc5c,#a5cb52,#a9ca4f,#b3c846,#b4c845,#c7c438,#b4c845,#bec63e,#e4bf37,#d4c135,#ebbe39,#dcc035,#dac035,#c3c53b,#88ce71)"></i><i style="background:linear-gradient(#75cf87,#78cf84,#7acf81,#7bcf80,#79cf83,#81cf79,#82cf78,#8cce6c,#95cd63,#8bce6e,#8ece6b,#92cd66,#9dcc5b,#98cd60,#9fcc59,#aaca4e,#bec63e,#b8c742,#ddc035,#c9c337,#f1bf3a,#e1bf36,#e9be38,#e1bf36,#d8c035,#7ccf7f)"></i><i style="background:linear-gradient(#72ce8c,#75cf88,#7fcf7b,#7fcf7b,#7ecf7c,#8bce6e,#85ce74,#90ce68,#91ce67,#90ce68,#94cd64,#9ccc5c,#9ecc59,#9bcc5c,#a4cb54,#a5cb52,#9acd5e,#bfc63d,#c8c338,#e7bf37,#d9c035,#f0bf3a,#f0bf3a,#c5c439,#cfc236,#76cf87)"></i><i style="background:linear-gradient(#81cf79,#83ce76,#92cd66,#98cd5f,#98cd60,#9bcc5d,#a4cb54,#abca4d,#a8ca50,#aaca4e,#a8cb50,#aeca4b,#bdc63f,#c5c43a,#b8c742,#c8c338,#c4c43a,#dac035,#d2c235,#e6bf37,#f1bf3a,#f8c33b,#f5c03b,#f5c03b,#efbf3a,#76cf87)"></i><i style="background:linear-gradient(#7dcf7e,#7fcf7b,#7fcf7b,#91ce67,#91ce67,#95cd63,#90ce68,#a0cc58,#99cd5f,#98cd60,#a3cb54,#acca4c,#b3c846,#b7c843,#afc949,#bcc73f,#b6c843,#e3bf37,#d9c035,#d7c135,#d6c135,#d3c135,#dfbf36,#e0bf36,#c7c438,#80cf7a)"></i><i style="background:linear-gradient(#81cf79,#84ce75,#87ce72,#87ce72,#8ace6e,#98cd60,#96cd62,#9fcc59,#9ecc5a,#a8cb50,#a5cb53,#afc94a,#b1c947,#b3c846,#bbc740,#c0c53c,#b8c742,#c6c439,#d6c135,#d5c135,#d7c135,#e3bf37,#e0bf36,#d9c035,#b0c949,#6fce8f)"></i><i style="background:linear-gradient(#88ce71,#88ce71,#91ce67,#8cce6c,#93cd65,#9ecc5a,#9ccc5b,#a7cb51,#a2cb56,#a6cb52,#a9ca4f,#acca4c,#bac741,#b8c742,#c1c53c,#bdc63e,#d1c236,#c9c337,#d8c035,#ddc035,#e4bf37,#f2bf3b,#d4c135,#d8c035,#d0c236,#71ce8d)"></i><i style="background:linear-gradient(#75cf88,#7ccf7f,#7dcf7e,#84ce76,#87ce72,#8cce6c,#91ce67,#97cd61,#8ace6f,#90ce68,#9ccc5c,#a9ca4f,#9ccc5c,#acca4c,#bbc740,#b2c947,#b6c843,#c4c43a,#b1c948,#ddc035,#d8c135,#dac035,#e5bf37,#c8c438,#a2cc56,#68cd99)"></i><i style="background:linear-gradient(#79cf83,#80cf7a,#7fcf7b,#86ce73,#8bce6d,#8fce69,#9bcc5d,#9ccc5c,#96cd62,#a0cc57,#9fcc58,#a7cb51,#a5cb53,#b8c742,#acca4c,#b6c843,#b4c845,#cfc236,#d1c236,#d0c236,#dfbf36,#f0bf3a,#f5c03b,#d6c135,#b1c948,#6fce90)"></i><i style="background:linear-gradient(#81cf79,#80cf7a,#8fce69,#8dce6c,#8ece6a,#97cd61,#9bcc5d,#9dcc5b,#a2cc56,#a1cc56,#a4cb54,#afc94a,#b0c948,#bbc740,#b5c844,#b9c741,#b6c844,#cec236,#cec236,#ebbe39,#d7c135,#d6c135,#d8c035,#cbc337,#b9c741,#82cf78)"></i><i style="background:linear-gradient(#7dcf7e,#7fcf7b,#85ce74,#8cce6c,#8cce6c,#91ce67,#98cd60,#9bcc5c,#9dcc5b,#aec94b,#a0cc58,#aaca4e,#afc94a,#b6c844,#b4c845,#b5c844,#b9c741,#cdc336,#c3c53a,#d1c236,#ebbe39,#e3bf36,#e4bf37,#cdc336,#c5c439,#77cf85)"></i><i style="background:linear-gradient(#71ce8d,#6ece92,#76cf87,#79cf83,#7ccf7f,#82cf78,#83cf77,#8ace6e,#84ce75,#8ece6b,#95cd63,#95cd63,#95cd63,#97cd60,#9acd5d,#a9ca4f,#bac740,#bec63e,#aeca4b,#cbc337,#e0bf36,#f2bf3b,#eebf3a,#e2bf36,#a5cb53,#66cd9c)"></i><i style="background:linear-gradient(#77cf86,#76cf87,#75cf88,#7ecf7c,#7acf81,#88ce71,#83cf77,#89ce6f,#95cd63,#91ce67,#95cd63,#a1cc56,#9dcc5b,#afc949,#a6cb52,#a7cb51,#bbc740,#bdc63f,#cdc236,#c4c53a,#c7c438,#bfc63d,#ccc336,#cec236,#9bcc5d,#73ce8b)"></i><i style="background:linear-gradient(#6bce95,#6dce93,#70ce8e,#74cf89,#71ce8d,#7ecf7d,#7bcf80,#7bcf80,#86ce74,#87ce72,#8cce6c,#90ce68,#92cd66,#9ecc5a,#9dcc5a,#9fcc59,#9fcc58,#aaca4e,#acca4c,#c0c53c,#b7c843,#c8c338,#cac337,#a9ca4f,#99cd5f,#7ccf7f)"></i><i style="background:linear-gradient(#76cf87,#74ce8a,#73ce8a,#7bcf80,#79cf83,#80cf7a,#85ce74,#86ce74,#8ece6a,#99cd5f,#93cd65,#9dcc5b,#98cd60,#9ccc5c,#a6cb52,#aec94b,#b4c845,#adca4b,#c5c439,#adca4b,#cac337,#bcc63f,#cfc236,#c3c53a,#9ecc5a,#70ce8f)"></i><i style="background:linear-gradient(#71ce8d,#74ce89,#7bcf81,#78cf84,#84ce75,#80cf7a,#88ce71,#8bce6e,#8ece6a,#96cd62,#96cd61,#98cd60,#98cd60,#9bcc5d,#a8cb50,#a1cc57,#b8c742,#b5c844,#dcc035,#b8c742,#d8c035,#c3c53b,#d0c236,#d2c135,#c4c53a,#76cf86)"></i><i style="background:linear-gradient(#70ce8e,#75cf88,#77cf86,#75cf87,#7ccf7f,#7ccf7e,#86ce73,#81cf78,#86ce73,#8ace6e,#8ece6a,#95cd63,#96cd62,#9bcc5c,#9ccc5c,#a5cb53,#8dce6c,#bec63e,#b9c741,#cdc336,#e9bf38,#e7bf38,#e9be38,#d9c035,#cfc236,#97cd61)"></i><i style="background:linear-gradient(#6bce95,#66cd9c,#6ace97,#6cce94,#71ce8e,#74cf89,#7acf82,#7ecf7d,#79cf83,#7fcf7b,#7fcf7b,#8ace6f,#8bce6d,#99cd5f,#8fce69,#90ce68,#96cd62,#9bcd5d,#9ecc5a,#b5c844,#d6c135,#c4c53a,#bec63d,#cbc337,#96cd61,#7ccf7f)"></i><i style="background:linear-gradient(#60cca6,#68cd99,#6bce95,#67cd9b,#69ce98,#6ece92,#72ce8b,#71ce8c,#73ce8a,#78cf84,#7bcf80,#7dcf7d,#82cf78,#87ce73,#90ce68,#90ce69,#8fce6a,#92ce66,#b0c949,#b2c947,#bfc63d,#bfc63d,#aec94a,#bac740,#b5c845,#6ece91)"></i><i style="background:linear-gradient(#67cd9a,#69ce97,#6dce93,#73ce8a,#7bcf81,#76cf87,#77cf85,#7dcf7e,#80cf7a,#82cf78,#88ce71,#89ce70,#8ece6a,#97cd61,#8bce6e,#9acd5d,#a5cb53,#a7cb51,#bac740,#aeca4b,#b7c843,#cbc337,#d0c236,#dcc035,#abca4e,#79cf82)"></i><i style="background:linear-gradient(#69ce98,#69ce97,#70ce8f,#71ce8d,#78cf84,#75cf88,#79cf82,#7bcf81,#84ce76,#86ce73,#88ce71,#8dce6c,#8fce69,#96cd62,#9acd5e,#a6cb52,#9ccc5b,#a5cb53,#c7c438,#c6c439,#d5c135,#c2c53b,#c4c53a,#bac740,#9bcd5d,#7bcf80)"></i><i style="background:linear-gradient(#75cf87,#71ce8d,#70ce8e,#76cf86,#79cf83,#7dcf7e,#89ce6f,#88ce71,#87ce72,#8ece6a,#99cd5f,#9bcd5d,#9fcc59,#99cd5e,#a5cb53,#a0cc58,#a0cc58,#bac740,#b7c843,#dac035,#cbc337,#d5c135,#c4c43a,#ccc336,#b7c843,#79cf83)"></i><i style="background:linear-gradient(#71ce8e,#71ce8d,#7bcf81,#79cf83,#7ecf7d,#86ce73,#86ce73,#8bce6e,#8bce6d,#94cd63,#99cd5e,#97cd61,#99cd5e,#a8cb50,#a6cb52,#b3c946,#acca4c,#bdc63e,#b7c843,#cec236,#e3bf36,#dfbf36,#dfbf36,#d2c135,#b7c843,#7fcf7b)"></i><i style="background:linear-gradient(#61cca5,#61cca5,#64cda0,#68cd99,#68cd9a,#6fce8f,#6ece91,#74ce8a,#75cf87,#7acf81,#74cf89,#7bcf80,#7dcf7e,#83ce76,#8ace6f,#90ce68,#91ce67,#8ece6b,#afc949,#95cd63,#b6c844,#cdc336,#a6cb52,#aec94a,#a1cc57,#74cf89)"></i><i style="background:linear-gradient(#6cce94,#70ce8e,#77cf85,#7acf81,#7bcf81,#78cf84,#86ce73,#8bce6e,#8bce6d,#82cf77,#84ce75,#8cce6c,#8dce6b,#95cd63,#9acd5e,#9bcc5d,#b3c846,#9acd5e,#9ccc5b,#a5cb52,#b7c843,#abca4d,#bac740,#b7c843,#9fcc58,#81cf79)"></i><i style="background:linear-gradient(#65cd9f,#66cd9c,#68cd99,#6bce95,#6bce95,#73ce8a,#6bce95,#72ce8b,#6fce90,#73ce8a,#7ecf7d,#7fcf7b,#82cf77,#81cf79,#88ce71,#91ce67,#87ce72,#a3cb55,#acca4c,#bcc63f,#c3c53a,#cfc236,#d4c135,#c9c337,#b4c845,#8ace6f)"></i><i style="background:linear-gradient(#6bce95,#72ce8c,#71ce8e,#6fce8f,#76cf86,#7ccf7f,#73ce8b,#7dcf7e,#82cf78,#82cf77,#80cf7a,#8fce69,#8cce6c,#8dce6b,#8cce6d,#98cd5f,#96cd62,#afc949,#abca4d,#c1c53c,#adca4c,#cac337,#b3c946,#d1c236,#a8cb50,#79cf83)"></i><i style="background:linear-gradient(#58c9b9,#59cab5,#5ecbad,#5bcab1,#5fcba9,#5fcba9,#63cda1,#62cca4,#61cca5,#67cd9b,#6ace96,#6cce93,#74ce8a,#6fce8f,#76cf87,#79cf83,#85ce75,#8ece6a,#a3cb55,#aeca4b,#b5c845,#c5c43a,#d2c135,#f0bf3a,#c3c53a,#77cf85)"></i><i style="background:linear-gradient(#55c7c2,#56c7c1,#55c7c2,#56c7c1,#57c8bd,#58c9b9,#57c8bd,#5bcab3,#5bcab1,#5ecbac,#5acab5,#5ecbac,#5fcba9,#65cd9f,#69ce98,#68cd99,#6fce8f,#7bcf80,#b3c846,#83cf77,#96cd61,#93cd65,#98cd5f,#a2cc56,#78cf84,#84ce75)"></i><i style="background:linear-gradient(#58c9b8,#58c9ba,#5ccab0,#5ccab0,#61cca6,#60cca6,#5fcbaa,#5fcba9,#62cca3,#61cca4,#6ace97,#69ce98,#6ace97,#6dce92,#6dce92,#75cf87,#7ecf7c,#a4cb53,#80cf7a,#abca4d,#a2cc56,#99cd5f,#a6cb52,#a9ca4f,#abca4e,#7fcf7b)"></i><i style="background:linear-gradient(#5ccab0,#5bcab3,#5bcab1,#5ccaaf,#60cca8,#62cca3,#5fcba9,#5fcba9,#65cd9e,#66cd9c,#67cd9b,#68cd99,#70ce8e,#70ce8f,#71ce8d,#7ccf7f,#83cf77,#97cd61,#85ce74,#c5c43a,#d7c135,#e0bf36,#dcc035,#d1c235,#d9c035,#94cd64)"></i><i style="background:linear-gradient(#59c9b7,#59cab6,#58c9b8,#5acab4,#59cab5,#5fcbaa,#5dcbae,#5dcbae,#5fcca8,#62cca3,#64cda0,#62cca4,#66cd9d,#6dce92,#71ce8e,#70ce8f,#75cf88,#8dce6b,#97cd60,#c5c439,#cbc337,#bfc63d,#ccc336,#d8c035,#cac337,#92ce66)"></i><i style="background:linear-gradient(#57c8bc,#57c8bd,#57c8bc,#59c9b8,#5dcbad,#5ccaaf,#5ccab0,#5ccaaf,#5ecbab,#60cca8,#62cca4,#65cd9e,#61cca5,#66cd9c,#6ace96,#6fce90,#7ecf7c,#7bcf80,#a1cc56,#acca4d,#aaca4e,#b8c742,#c0c53c,#abca4d,#a0cc58,#7ecf7c)"></i><i style="background:linear-gradient(#51c3cc,#51c4ca,#53c5c7,#51c3cb,#54c6c4,#55c7c3,#55c7c2,#57c8bd,#56c8bf,#57c8bc,#5ccab1,#59c9b6,#5bcab1,#5ccaaf,#5fcba9,#68cd9a,#70ce8e,#87ce72,#90ce68,#9ecc5a,#d1c236,#bcc63f,#d6c135,#e6bf37,#cdc236,#90ce68)"></i><i style="background:linear-gradient(#50c2cd,#52c4c9,#53c5c6,#54c6c5,#55c7c3,#55c7c3,#56c7c1,#56c8bf,#56c8bf,#59c9b8,#57c9ba,#5acab3,#5ecbac,#5dcbae,#5dcbae,#64cd9f,#61cca6,#77cf86,#6dce92,#91ce67,#96cd62,#94cd64,#92cd65,#78cf84,#7dcf7d,#7fcf7b)"></i><i style="background:linear-gradient(#4fc1d0,#50c3cc,#51c4ca,#52c4c9,#52c4c9,#56c7c2,#54c6c5,#54c6c4,#56c7c0,#56c7c2,#57c8bc,#58c9b8,#59cab5,#5ccbaf,#5ecbab,#60cca7,#65cd9f,#67cd9c,#6cce93,#73ce8a,#7ccf7f,#8fce69,#78cf84,#92cd66,#7ccf7f,#6bce95)"></i><i style="background:linear-gradient(#50c1cf,#52c4c9,#51c4ca,#52c5c8,#54c6c5,#55c7c3,#56c7c1,#56c8c0,#56c8c0,#57c9bb,#57c9bb,#5acab5,#5dcbad,#5ecbab,#5ccaaf,#63cda1,#61cca5,#73ce8b,#86ce73,#7acf82,#8ace6f,#8dce6b,#8cce6c,#87ce73,#85ce74,#79cf83)"></i><i style="background:linear-gradient(#54c6c4,#56c7c1,#54c6c4,#59c9b6,#57c8bd,#59cab6,#58c9ba,#58c9b9,#5acab5,#5ecbac,#5bcab1,#5ccab0,#5fcba9,#63cda1,#66cd9c,#63cca2,#67cd9a,#73ce8a,#78cf84,#9bcc5d,#85ce75,#8ece6a,#9dcc5a,#a0cc58,#86ce73,#89ce6f)"></i><i style="background:linear-gradient(#56c7c2,#53c6c6,#54c6c4,#56c8c0,#55c7c3,#56c8be,#57c8be,#57c8bc,#58c9b8,#58c9b8,#5ccaaf,#5ccab0,#5dcbae,#5fcba9,#61cca4,#65cd9d,#63cda1,#6cce93,#68cd99,#76cf86,#76cf86,#71ce8c,#84ce75,#6dce92,#82cf78,#79cf83)"></i><i style="background:linear-gradient(#55abe9,#55ace8,#54ade8,#54ade8,#53b0e5,#52b1e4,#52b1e4,#50b7de,#4fb9dc,#4fb9dc,#4fbadb,#4fbcd7,#4fbed4,#4fc1cf,#53c5c7,#54c6c4,#56c8c0,#63cda1,#69ce98,#6fce8f,#80cf7a,#8ace6f,#8ece6a,#87ce72,#7fcf7b,#74ce89)"></i><i style="background:linear-gradient(#5aa2ee,#58a6ec,#57a7ec,#58a6ec,#56a9eb,#55abe9,#55abe9,#54aee7,#53afe6,#50b5e1,#4fb8dd,#4fb9db,#4fbbd9,#4fbfd3,#4fc0d1,#50c2cd,#59c9b7,#5dcbae,#6fce90,#88ce71,#abca4d,#c5c439,#acca4c,#adca4c,#abca4d,#80cf7b)"></i><i style="background:linear-gradient(#5ba1ef,#59a4ee,#5aa2ee,#57a7ec,#5aa2ee,#58a5ed,#56aaea,#55ace9,#53afe6,#53b0e5,#52b2e4,#51b4e1,#4fbbda,#4fbcd7,#4fbdd6,#50c2ce,#56c7c2,#66cd9c,#5ecbab,#76cf86,#7ecf7d,#7ecf7d,#8dce6c,#74ce8a,#6fce8f,#6bce95)"></i><i style="background:linear-gradient(#58a5ed,#5aa2ee,#58a7ec,#57a8eb,#56aaea,#55ace9,#56aaea,#53afe6,#54aee7,#52b1e4,#51b4e2,#4fb7de,#4fbbd9,#4fbdd6,#4fbfd3,#51c3cc,#53c5c7,#56c8bf,#5dcbad,#66cd9d,#69cd99,#6bce96,#74cf89,#6bce95,#64cda0,#6ace96)"></i><i style="background:linear-gradient(#54ace8,#54ade8,#54ade7,#53aee7,#52b2e3,#52b2e3,#52b2e3,#4fb8de,#4fbadb,#4fb9dc,#4fb9dc,#4fbcd8,#50c2ce,#4fc0d1,#52c5c8,#54c6c5,#58c9b8,#60cca8,#69ce98,#60cca7,#71ce8d,#7ccf7f,#8ece6a,#7dcf7e,#74ce89,#6dce92)"></i><i style="background:linear-gradient(#53c5c7,#56c7c2,#53c6c6,#53c6c6,#55c7c3,#56c8bf,#56c8c0,#57c8bc,#56c7c2,#58c9b8,#59c9b6,#5dcbad,#5dcbad,#5dcbae,#61cca6,#65cd9e,#66cd9c,#79cf83,#8dce6b,#85ce74,#b3c846,#c1c53c,#b0c949,#aec94a,#b5c844,#a1cc57)"></i><i style="background:linear-gradient(#4fc0d2,#4fc1d0,#50c2ce,#4fc0d2,#50c3cd,#51c3cc,#51c4ca,#54c6c5,#54c6c5,#56c7c2,#55c7c2,#57c8bd,#57c9bb,#59c9b7,#5acab3,#5fcba9,#62cca4,#80cf7a,#8cce6c,#97cd61,#c0c63c,#dbc035,#cec236,#cbc337,#b6c843,#91ce66)"></i><i style="background:linear-gradient(#53c5c6,#56c7c1,#56c8c0,#57c8bd,#57c8bc,#56c8be,#58c9b8,#5acab5,#5acab5,#59c9b7,#5fcbaa,#5dcbae,#5ecbac,#5fcca8,#62cca3,#64cda0,#6fce8f,#7fcf7c,#86ce73,#a1cc57,#b2c947,#b8c742,#b8c742,#bcc63f,#d2c235,#90ce68)"></i><i style="background:linear-gradient(#4fc1cf,#50c2ce,#50c2cd,#50c3cc,#52c4c9,#52c5c8,#52c4c9,#54c6c5,#55c7c3,#56c7c1,#57c8bd,#58c9ba,#57c9bb,#59c9b8,#5ccab0,#5ecbab,#60cca7,#64cd9f,#6fce8f,#82cf78,#94cd64,#91ce67,#9ccc5b,#aaca4e,#85ce74,#7fcf7b)"></i><i style="background:linear-gradient(#53c5c7,#52c4c9,#53c6c6,#55c7c3,#55c7c3,#55c7c2,#56c8c0,#57c8bd,#56c8bf,#57c9bb,#59cab5,#58c9b9,#5dcbae,#62cca3,#63cca2,#60cca7,#67cd9b,#85ce75,#93cd65,#afc94a,#bfc63d,#d2c135,#e7bf37,#e0bf36,#cfc236,#9fcc58)"></i><i style="background:linear-gradient(#4fc0d2,#4fc1d0,#4fc0d1,#50c2cd,#52c4c9,#50c2ce,#51c4ca,#53c5c7,#55c7c2,#56c7c1,#54c6c4,#56c8c0,#57c9bb,#59c9b6,#5bcab3,#5ecbab,#60cca6,#80cf7a,#9ecc5a,#b7c843,#c2c53b,#d8c135,#c3c53a,#e4bf37,#d4c135,#9acd5d)"></i><i style="background:linear-gradient(#53c5c7,#55c7c3,#55c7c2,#57c8bd,#57c8bd,#57c8bc,#57c8bd,#57c8bc,#5acab4,#59c9b7,#5ecbad,#5acab4,#5ecbab,#5ecbab,#5fcbaa,#5ecbab,#5fcca8,#74cf89,#74cf89,#8dce6c,#9fcc58,#a4cb54,#8fce69,#a6cb52,#8ece6a,#8cce6d)"></i><i style="background:linear-gradient(#51c4ca,#51c4ca,#54c6c5,#54c6c4,#54c6c4,#54c6c5,#56c7c1,#56c8c0,#57c8bc,#57c8bc,#58c9ba,#59cab5,#5bcab2,#5ccab0,#61cca4,#62cca4,#62cca2,#81cf79,#66cd9c,#8ece6a,#8cce6d,#8ace6f,#83cf77,#78cf84,#8ace6f,#7ccf7f)"></i><i style="background:linear-gradient(#51c4ca,#52c4c9,#55c7c3,#53c5c6,#54c7c4,#53c5c7,#56c8bf,#58c9b9,#57c8bd,#58c9b8,#57c9bb,#58c9b9,#5bcab2,#5acab4,#5fcbaa,#60cca7,#62cca3,#61cca6,#73ce8b,#81cf79,#78cf84,#83ce76,#96cd62,#78cf84,#84ce75,#72ce8c)"></i><i style="background:linear-gradient(#56a9ea,#55ace8,#54ade8,#54ace8,#53afe6,#51b3e3,#52b1e4,#51b4e2,#50b6df,#4fb8de,#4fb8dd,#4fbdd6,#4fbfd3,#4fc0d1,#50c3cc,#53c5c7,#58c9b9,#66cd9c,#5bcab1,#63cca2,#7ccf7f,#80cf7a,#88ce71,#6bce95,#7dcf7d,#6ace96)"></i><i style="background:linear-gradient(#5aa2ee,#59a4ee,#59a4ed,#57a8eb,#57a7eb,#55abe9,#53aee7,#52b1e4,#53afe6,#52b2e4,#50b5e0,#50b6df,#4fbbd9,#4fbcd7,#4fc1d0,#4fc0d1,#50c3cc,#62cca3,#63cda1,#60cca6,#69ce97,#7ecf7d,#7bcf80,#79cf82,#7acf82,#6ece90)"></i><i style="background:linear-gradient(#5c9ff0,#5ba1ef,#5c9ff0,#59a4ee,#5aa3ee,#57a7ec,#58a5ed,#57a7eb,#54ade7,#53b0e5,#52b2e4,#51b4e2,#4fb9dc,#4fbdd7,#4fbed5,#50c3cc,#56c8c0,#5bcab1,#66cd9d,#72ce8b,#adca4c,#dfbf36,#d1c236,#c1c53c,#a2cb56,#79cf83)"></i><i style="background:linear-gradient(#6294f3,#6096f2,#5f9af2,#5f99f2,#5aa2ef,#5c9ef0,#5c9ff0,#59a4ed,#58a6ec,#58a5ed,#54ade8,#53afe6,#52b1e4,#50b7de,#4fbcd8,#4fbdd7,#52c4c9,#5bcab2,#65cd9e,#7dcf7e,#a9ca4f,#85ce74,#97cd61,#a2cb56,#8bce6d,#70ce8e)"></i><i style="background:linear-gradient(#5aa2ee,#58a5ed,#58a6ec,#57a7ec,#55abe9,#54aee7,#54aee7,#54aee7,#53b0e6,#51b4e1,#50b5e0,#4fbbd9,#4fb9dc,#4fbfd4,#4fc1cf,#51c4ca,#56c7c2,#59c9b7,#64cd9f,#6bce95,#8ace6f,#89ce6f,#84ce76,#85ce74,#83ce76,#6ace96)"></i><i style="background:linear-gradient(#5aa2ee,#5c9ef0,#59a5ed,#5ba1ef,#59a3ee,#57a8eb,#57a8eb,#54ace8,#54aee7,#52b1e4,#52b0e5,#4fb7de,#4fbada,#4fbbda,#4fbed4,#52c4c9,#53c5c7,#5ecbab,#6ace97,#79cf83,#bcc63f,#9ecc59,#b6c844,#afc949,#99cd5e,#80cf7a)"></i><i style="background:linear-gradient(#5c9ef0,#5e9cf1,#5aa2ee,#5aa2ef,#59a4ed,#58a6ec,#58a6ec,#56aaea,#54aee7,#52b0e5,#52b0e5,#4fbadb,#4fb9dc,#4fbdd7,#4fc0d1,#51c3cc,#5bcab2,#5fcba9,#64cda0,#7ecf7d,#8ace6f,#afc949,#c0c63d,#a8cb50,#8fce69,#82cf78)"></i><i style="background:linear-gradient(#4fbfd4,#4fc1cf,#4fc1cf,#50c2ce,#53c5c7,#52c4c9,#53c5c7,#51c4ca,#53c5c6,#54c6c5,#54c6c4,#56c7c1,#57c8bd,#5acab4,#5dcbad,#5dcbad,#6cce94,#72ce8c,#92cd65,#92cd66,#9bcc5d,#a7cb51,#b9c741,#a9ca4f,#a3cb55,#80cf7a)"></i><i style="background:linear-gradient(#56c7c1,#56c8bf,#56c8c0,#57c9bc,#56c8c0,#57c9bb,#59cab6,#59c9b7,#5bcab2,#59cab5,#5dcbaf,#5ccaaf,#5fcbaa,#5ecbab,#61cca4,#61cca5,#6ece91,#78cf84,#76cf87,#77cf85,#8dce6c,#8fce6a,#82cf77,#9acd5e,#85ce74,#81cf7a)"></i><i style="background:linear-gradient(#4fbed5,#4fbdd6,#4fc1d0,#4fbfd2,#4fc0d1,#50c2cf,#51c3cb,#50c3cd,#54c6c5,#52c5c8,#54c6c5,#56c8be,#56c8be,#58c9b8,#5acab4,#5ecbab,#64cda0,#77cf85,#78cf84,#b2c947,#99cd5f,#bcc63f,#c0c53c,#aaca4e,#9ecc59,#7ccf7f)"></i><i style="background:linear-gradient(#56a9ea,#54ade8,#54aee7,#52b2e3,#54ade8,#51b3e2,#52b1e5,#51b4e1,#4fb9dc,#4fbbd9,#4fbadb,#4fc0d2,#4fbed5,#4fbfd2,#4fc1cf,#54c6c5,#58c9ba,#62cca4,#68cd99,#69ce98,#7bcf80,#7acf82,#79cf83,#6bce95,#73ce8a,#75cf88)"></i><i style="background:linear-gradient(#57a8eb,#56aaea,#54ade7,#55abe9,#54aee7,#51b3e2,#51b2e3,#52b1e4,#50b7de,#4fb9dc,#4fb9dc,#4fbada,#4fbdd6,#4fbfd3,#51c4ca,#56c7c1,#57c9bb,#55c7c2,#6bce95,#7acf81,#96cd62,#a2cb56,#92ce66,#80cf7a,#8bce6d,#7dcf7e)"></i><i style="background:linear-gradient(#54aee7,#53afe6,#51b3e3,#52b2e3,#51b4e2,#50b6e0,#51b3e2,#50b6df,#4fbadb,#4fbcd8,#4fbed5,#4fbed5,#4fc1d0,#50c2ce,#52c4c9,#56c7c1,#5ecbac,#67cd9b,#70ce8e,#7dcf7e,#9acd5e,#cfc236,#bac741,#d3c135,#bcc63f,#96cd61)"></i><i style="background:linear-gradient(#59a3ee,#59a4ee,#58a7ec,#57a7ec,#57a8eb,#55abe9,#54aee7,#51b3e3,#52b0e5,#51b2e3,#51b3e3,#4fb8dd,#4fb9db,#4fbfd3,#4fbfd4,#51c3cb,#56c8bf,#5dcbae,#62cca3,#64cda0,#77cf85,#93cd65,#65cd9e,#96cd61,#7ecf7c,#82cf78)"></i><i style="background:linear-gradient(#4fbfd3,#4fc1d0,#4fbed4,#4fbed5,#4fc1d0,#50c3cc,#50c1cf,#51c4ca,#50c2cd,#51c4ca,#52c5c7,#55c7c3,#57c8bd,#58c9ba,#58c9b8,#58c9b8,#60cca7,#62cca3,#6bce95,#65cd9e,#68cd9a,#79cf83,#73ce8b,#76cf86,#6bce96,#78cf83)"></i><i style="background:linear-gradient(#50c3cc,#51c4ca,#52c5c8,#52c4c8,#52c5c8,#54c6c5,#55c7c3,#56c7c1,#55c7c3,#54c6c5,#58c9ba,#57c9bb,#58c9ba,#5bcab2,#5dcbad,#5dcbad,#61cca6,#69ce98,#81cf79,#6fce8f,#6dce93,#74ce8a,#76cf87,#77cf85,#74cf89,#7acf81)"></i><i style="background:linear-gradient(#4fbed5,#4fc0d1,#4fbfd4,#4fc0d2,#51c3cb,#50c1cf,#50c3cc,#51c3cb,#53c5c7,#54c6c4,#56c7c1,#56c8bf,#56c8bf,#59c9b6,#59cab6,#5acab4,#6bce95,#78cf84,#66cd9c,#73ce8b,#70ce8e,#70ce8e,#72ce8c,#74ce89,#6fce90,#7dcf7d)"></i><i style="background:linear-gradient(#52b1e4,#52b2e3,#52b2e3,#51b4e1,#51b2e3,#50b5e0,#4fbadb,#4fb8dd,#4fbcd8,#4fbdd6,#4fbcd8,#4fbfd2,#51c3cc,#51c3cb,#55c7c2,#56c8c0,#65cd9f,#60cca8,#7acf81,#8bce6d,#aec94b,#b7c843,#bac740,#cbc337,#adca4c,#93cd65)"></i><i style="background:linear-gradient(#5aa2ef,#58a6ec,#58a6ec,#57a7ec,#56aaea,#54ade7,#54aee7,#52b2e4,#52b1e4,#51b3e2,#50b5e0,#50b7de,#4fbcd7,#4fbed5,#4fc1d0,#51c3cc,#5acab4,#5fcba9,#60cca7,#78cf84,#79cf83,#7bcf81,#79cf83,#8dce6b,#84ce75,#70ce8e)"></i><i style="background:linear-gradient(#5aa2ef,#58a7ec,#57a7eb,#56a9ea,#56aaea,#54aee7,#54aee7,#54aee7,#52b2e4,#50b5e0,#51b3e2,#4fb8dd,#4fbdd7,#4fbed5,#52c5c8,#52c5c8,#5acab4,#64cda0,#69cd99,#89ce70,#a9ca4f,#b8c742,#cbc337,#bfc63d,#b7c843,#8dce6c)"></i><i style="background:linear-gradient(#4fbdd7,#4fbfd4,#4fbed4,#4fbdd6,#50c2cd,#4fc0d1,#50c2cd,#51c3cc,#52c4c9,#52c4c9,#54c6c4,#56c8be,#56c7c2,#56c8bf,#5acab4,#5bcab2,#67cd9b,#62cca4,#7ccf7f,#9ccc5c,#b9c742,#ccc336,#a9ca4f,#d9c035,#bec63d,#92ce66)"></i><i style="background:linear-gradient(#4fbfd3,#50c2ce,#4fc1d0,#50c2ce,#51c3cb,#50c1cf,#50c3cd,#52c4c9,#55c7c3,#56c7c2,#56c7c2,#57c9bb,#58c9b9,#58c9b9,#5bcab1,#5ecbad,#69ce98,#83ce76,#76cf87,#9dcc5b,#c2c53b,#c6c439,#cac337,#cfc236,#bcc73f,#a7cb51)"></i><i style="background:linear-gradient(#4fbbda,#4fbfd3,#4fbed5,#4fbed4,#50c3cc,#4fc0d1,#50c2ce,#4fc1d0,#52c5c8,#52c4c9,#53c6c6,#56c7c1,#57c8bd,#58c9ba,#59c9b7,#5dcbad,#69ce98,#5fcbaa,#62cca3,#74ce8a,#7dcf7d,#92cd66,#8dce6b,#7ccf7f,#75cf88,#6cce94)"></i><i style="background:linear-gradient(#5fcca8,#5ecbac,#61cca6,#5fcba9,#60cca7,#60cca7,#62cca4,#61cca4,#67cd9b,#61cca4,#66cd9d,#66cd9c,#68cd99,#66cd9c,#6bce94,#6bce95,#74ce8a,#7ccf7e,#93cd64,#87ce72,#89ce6f,#84ce76,#83cf77,#82cf78,#81cf79,#80cf7a)"></i><i style="background:linear-gradient(#55c7c2,#54c6c4,#55c7c3,#54c6c4,#56c8c0,#56c7c1,#56c8c0,#57c9bb,#56c8be,#57c8bd,#59c9b7,#5bcab2,#5acab3,#5dcbad,#60cca7,#61cca6,#79cf83,#69ce98,#96cd62,#93cd65,#b5c844,#b8c742,#d4c135,#bbc740,#c8c438,#89ce70)"></i><i style="background:linear-gradient(#54c6c4,#53c6c6,#54c6c4,#53c5c6,#56c8c0,#56c8bf,#56c8c0,#58c9ba,#58c9ba,#59c9b7,#59c9b6,#58c9b9,#5ecbab,#5dcbae,#5ccab0,#5fcba9,#62cca3,#64cd9f,#7bcf80,#73ce8a,#91ce67,#91ce67,#aaca4e,#7dcf7e,#75cf87,#79cf83)"></i><i style="background:linear-gradient(#4fc1d0,#4fc1d0,#51c3cc,#50c2cd,#51c4ca,#51c4ca,#51c3cb,#52c5c8,#54c6c4,#54c6c4,#57c8bc,#55c7c3,#57c8bc,#5ccab0,#5bcab1,#5fcbaa,#64cda1,#6ece91,#7dcf7e,#8bce6e,#c1c53c,#c2c53b,#c8c438,#dec036,#b5c844,#86ce73)"></i><i style="background:linear-gradient(#4fb8dd,#4fb8dd,#4fb9db,#4fbbd9,#4fbed5,#4fbed5,#4fbfd2,#4fbed4,#50c2ce,#51c4cb,#50c3cd,#52c5c7,#56c8bf,#55c7c3,#57c8bd,#5acab5,#61cca4,#66cd9d,#81cf79,#7fcf7b,#98cd60,#b1c948,#bec63e,#c7c438,#9dcc5b,#95cd63)"></i><i style="background:linear-gradient(#4fbed5,#4fbcd8,#4fbed5,#4fbed4,#4fc1d0,#4fbfd3,#4fc1d0,#51c3cb,#50c1cf,#54c6c5,#53c5c7,#54c6c5,#56c8c0,#58c9ba,#58c9ba,#5bcab1,#64cd9f,#62cca3,#6ace96,#82cf78,#7ecf7d,#7bcf80,#98cd60,#8dce6b,#81cf79,#7ecf7c)"></i><i style="background:linear-gradient(#4fbbd9,#4fbed5,#4fbed5,#4fbed5,#4fbfd4,#4fbfd4,#50c2ce,#50c1cf,#4fc1d0,#51c3cb,#53c5c7,#55c7c3,#55c7c3,#57c8bd,#56c8be,#59cab5,#5ecbac,#61cca6,#73ce8a,#72ce8c,#6cce94,#70ce8e,#73ce8a,#7bcf80,#6dce92,#74ce8a)"></i><i style="background:linear-gradient(#4fbcd7,#4fbcd8,#4fbed5,#4fbfd3,#4fc1d0,#4fc1d0,#4fc1d0,#51c3cc,#51c4ca,#52c5c8,#52c5c8,#53c5c7,#55c7c3,#56c8bf,#5acab5,#5ccab1,#5ecbac,#73ce8a,#7fcf7b,#89ce70,#93cd65,#abca4d,#cdc236,#c1c53c,#99cd5e,#92cd66)"></i><i style="background:linear-gradient(#4fbdd7,#4fbed5,#4fc0d2,#4fbfd3,#50c2ce,#4fc1d0,#51c4ca,#52c5c8,#52c4c9,#52c5c8,#54c6c5,#56c7c1,#56c8be,#56c8bf,#57c8bc,#58c9b8,#61cca6,#69ce98,#68cd99,#8dce6c,#6dce92,#79cf83,#8bce6e,#8cce6d,#7bcf80,#7ecf7d)"></i><i style="background:linear-gradient(#4fc0d1,#4fbadb,#4fc0d1,#4fbfd3,#50c2cf,#4fc0d1,#4fc0d1,#51c4ca,#51c3cb,#51c3cb,#54c6c5,#54c6c4,#57c9bb,#58c9b8,#5bcab1,#58c9b8,#5bcab2,#61cca5,#6ece90,#76cf87,#86ce73,#90ce68,#84ce75,#87ce72,#84ce75,#75cf88)"></i><i style="background:linear-gradient(#4fbdd6,#4fbed4,#4fbfd3,#4fc0d2,#4fc0d2,#4fbfd3,#50c1cf,#50c3cc,#51c3cb,#52c4c9,#54c6c4,#54c6c5,#56c7c1,#58c9b8,#5bcab2,#5dcbad,#60cca7,#64cd9f,#83cf77,#9acd5d,#c5c439,#b6c844,#cec236,#d6c135,#a4cb54,#91ce68)"></i><i style="background:linear-gradient(#53c5c7,#56c7c1,#56c8bf,#57c8bd,#55c7c2,#56c8c0,#58c9ba,#56c7c2,#57c9bb,#58c9b9,#59c9b6,#59c9b6,#5dcbad,#5bcab2,#5fcbaa,#60cca7,#68cd9a,#62cca3,#6ace97,#79cf82,#74cf89,#71ce8d,#6fce90,#76cf86,#73ce8b,#67cd9b)"></i><i style="background:linear-gradient(#5acab5,#5ecbac,#5ecbab,#5fcbaa,#5fcba8,#5ecbac,#61cca4,#5fcbaa,#62cca4,#61cca4,#61cca4,#67cd9b,#65cd9f,#66cd9c,#6ace97,#68cd99,#6fce90,#73ce8b,#84ce75,#76cf86,#83cf77,#87ce72,#88ce71,#83ce76,#90ce68,#78cf84)"></i><i style="background:linear-gradient(#58c9b8,#58c9b9,#56c8bf,#56c8bf,#57c8bd,#59cab6,#5bcab2,#5acab4,#5bcab3,#58c9b8,#5ecbab,#5fcbaa,#62cca3,#64cda0,#61cca5,#61cca5,#66cd9d,#7dcf7e,#77cf85,#86ce73,#a0cc58,#8ece6b,#a3cb55,#94cd63,#99cd5e,#7ccf7f)"></i><i style="background:linear-gradient(#59cab5,#5bcab2,#5ccab0,#59c9b6,#5acab3,#5ccab1,#5dcbad,#5ecbac,#5ecbac,#5ecbac,#62cca3,#63cda1,#63cda1,#66cd9d,#69ce98,#69cd98,#67cd9b,#7acf81,#9ccc5c,#98cd60,#c3c53b,#b3c946,#d7c135,#cbc337,#b9c741,#95cd63)"></i><i style="background:linear-gradient(#59c9b7,#5acab5,#5acab4,#58c9b9,#59c9b7,#5ccab1,#5bcab1,#5ccbaf,#5ccab0,#5dcbad,#60cca7,#61cca5,#61cca6,#65cd9e,#66cd9c,#6cce93,#74ce89,#7fcf7b,#93cd65,#cdc236,#d2c235,#e5bf37,#f5c03b,#edbf39,#e9be38,#a3cb54)"></i><i style="background:linear-gradient(#56c8c0,#56c7c0,#56c8c0,#54c6c4,#57c9bb,#57c9bb,#58c9ba,#57c8bd,#59cab6,#5bcab2,#5bcab3,#5dcbad,#5ecbac,#60cca6,#62cca3,#63cda1,#70ce8e,#7ecf7d,#92ce66,#a3cb55,#acca4d,#d7c135,#c0c63c,#b3c846,#b1c948,#94cd63)"></i><i style="background:linear-gradient(#58c9b8,#58c9b9,#58c9b8,#58c9b9,#5acab3,#5acab3,#5acab3,#5acab4,#58c9b8,#5ccab0,#5ecbab,#5ccaaf,#60cca8,#62cca4,#64cda0,#6cce94,#72ce8c,#75cf87,#90ce68,#9ccc5c,#b5c845,#cbc337,#cbc337,#cec236,#bec63e,#a8cb50)"></i><i style="background:linear-gradient(#55c7c3,#53c5c6,#53c6c5,#56c8bf,#56c8bf,#53c6c6,#56c8be,#56c8bf,#57c8bd,#56c8bf,#59c9b7,#5acab5,#5ccbaf,#60cca7,#60cca7,#63cda1,#76cf87,#6fce8f,#93cd65,#8fce6a,#b3c946,#b2c947,#b2c946,#b2c947,#bac740,#8ace6f)"></i><i style="background:linear-gradient(#57c8bd,#57c8bc,#58c9b8,#58c9b8,#5bcab1,#5bcab2,#5bcab2,#5dcbad,#5dcbad,#60cca8,#5ecbab,#63cca2,#60cca8,#63cda1,#62cca3,#67cd9b,#7bcf80,#77cf86,#93cd65,#8bce6d,#c2c53b,#c8c438,#dbc035,#cac337,#bec63e,#9ecc59)"></i><i style="background:linear-gradient(#51c4ca,#52c4c9,#56c7c2,#56c7c1,#58c9b8,#56c8be,#56c7c1,#58c9b9,#56c8bf,#59c9b7,#58c9b8,#59c9b6,#5ccbaf,#5ccaaf,#61cca6,#62cca4,#65cd9d,#80cf7a,#89ce70,#95cd63,#a8cb50,#cec236,#bdc63e,#b9c741,#b8c742,#8fce69)"></i><i style="background:linear-gradient(#51c4ca,#53c5c7,#54c6c5,#55c7c2,#55c7c2,#56c7c2,#55c7c3,#56c8c0,#58c9b9,#59c9b8,#59cab6,#5bcab1,#5bcab2,#5bcab2,#5ecbab,#5ecbaa,#68cd99,#73ce8a,#84ce76,#73ce8a,#8ace6f,#8ace6e,#82cf77,#88ce70,#79cf82,#96cd62)"></i></div>
<div class="sp" style="left:390px;width:252px"><i style="background:linear-gradient(#51b3e2,#50b5e0,#52b2e4,#50b5e0,#50b6e0,#50b5e1,#4fb8dd,#50b7de,#50b7de,#4fbbd9,#4fbed5,#4fbfd3,#4fbfd2,#4fbfd3,#51c3cc,#52c5c8,#59c9b7,#5acab5,#7ecf7c,#7ecf7d,#c0c53c,#cbc337,#cdc236,#c2c53b,#9fcc58,#5acab4)"></i><i style="background:linear-gradient(#4fb7de,#4fb8dd,#50b7de,#4fbada,#4fb8dd,#4fbada,#4fbed5,#4fbcd7,#4fbfd3,#4fbfd3,#4fbfd3,#50c2cd,#51c3cb,#51c3cb,#54c6c4,#52c4c9,#55c7c2,#80cf7a,#6ace96,#94cd63,#cec236,#e0bf36,#cac337,#c7c438,#b8c742,#5ecbac)"></i><i style="background:linear-gradient(#4fbcd8,#4fbcd8,#4fbbd9,#4fc0d2,#4fbfd3,#4fbfd3,#4fbed5,#4fc1cf,#4fc1d0,#4fc1d1,#50c3cc,#51c3cc,#51c4ca,#56c8c0,#55c7c3,#56c7c1,#57c8bc,#70ce8e,#77cf85,#a4cb54,#c6c439,#e8bf38,#edbf39,#d4c135,#cfc236,#5fcba9)"></i><i style="background:linear-gradient(#4fb8dd,#4fb9dc,#4fb8dd,#50b6e0,#4fb9dc,#4fbadb,#4fbed5,#4fbcd8,#4fbdd6,#4fc0d2,#4fc1d0,#51c4ca,#51c3cb,#51c3cc,#53c6c5,#56c8bf,#59c9b7,#65cd9e,#84ce76,#96cd62,#d9c035,#f9c33b,#e8bf38,#efbf3a,#d6c135,#66cd9c)"></i><i style="background:linear-gradient(#4fb9dc,#4fb8dd,#4fb9db,#4fbcd8,#4fbbda,#4fbbd9,#4fbed5,#4fc0d1,#4fbfd3,#4fc0d1,#50c2ce,#51c3cc,#52c5c8,#53c5c7,#54c6c4,#56c7c1,#57c8bd,#61cca5,#78cf85,#8dce6c,#bdc63e,#d9c035,#d5c135,#cec236,#aaca4e,#5dcbae)"></i><i style="background:linear-gradient(#4fc1cf,#51c4ca,#52c5c8,#50c2ce,#51c3cb,#50c2cd,#52c5c8,#53c5c6,#55c7c3,#55c7c3,#56c8c0,#57c8bc,#56c8be,#59c9b7,#59c9b7,#57c8bc,#5fcba8,#6dce92,#88ce71,#a7cb51,#b6c843,#d5c135,#d9c035,#c7c438,#a6cb52,#60cca6)"></i><i style="background:linear-gradient(#50c2cd,#52c5c8,#54c6c5,#52c5c7,#52c5c8,#52c4c9,#56c8be,#56c8bf,#56c7c1,#56c8c0,#57c8bd,#58c9b9,#5bcab2,#5acab3,#59c9b7,#5bcab3,#5ecbab,#6ece91,#86ce73,#89ce70,#a6cb52,#c8c338,#d9c035,#c9c337,#a3cb55,#62cca3)"></i><i style="background:linear-gradient(#56c8c0,#57c8bc,#57c8bd,#57c8bd,#56c7c1,#58c9ba,#56c8bf,#58c9ba,#5acab3,#5bcab1,#5acab4,#5bcab3,#59cab6,#5ecbad,#5dcbae,#60cca8,#65cd9f,#6dce92,#8ace6f,#b1c948,#cbc337,#d7c135,#e6bf37,#cec236,#bac740,#61cca4)"></i><i style="background:linear-gradient(#50c1cf,#4fc1d0,#4fc1d0,#51c3cc,#50c2ce,#53c6c6,#51c3cb,#54c6c4,#54c6c5,#54c6c4,#55c7c2,#57c8bc,#56c8bf,#57c8be,#59c9b7,#57c8bc,#5dcbad,#75cf87,#86ce74,#b0c948,#d1c236,#eabe38,#e4bf37,#d0c236,#bcc63f,#66cd9d)"></i><i style="background:linear-gradient(#4fbfd3,#4fbed5,#4fbfd2,#4fbfd2,#4fc0d2,#4fc0d1,#51c3cb,#50c2ce,#51c4ca,#51c4ca,#54c6c4,#53c5c7,#57c8bd,#57c8bd,#58c9b9,#58c9ba,#57c9bb,#69ce97,#73ce8a,#8fce69,#c6c439,#f7c13b,#e4bf37,#e9be38,#a5cb53,#5fcbaa)"></i><i style="background:linear-gradient(#50c3cc,#51c4ca,#53c5c7,#54c6c5,#52c5c7,#55c7c2,#54c6c4,#54c6c4,#53c6c6,#54c6c5,#57c9ba,#58c9ba,#5acab4,#5bcab2,#59c9b7,#5bcab1,#62cca3,#74cf89,#80cf7b,#a6cb51,#c8c438,#cfc236,#e5bf37,#d5c135,#b2c947,#5fcbaa)"></i><i style="background:linear-gradient(#52c5c8,#53c6c6,#54c6c5,#54c6c4,#54c6c5,#54c6c4,#56c7c0,#56c8c0,#58c9ba,#58c9b9,#57c9bb,#5bcab3,#5ccab0,#5bcab1,#5ecbab,#5bcab1,#5fcbaa,#79cf82,#7bcf80,#bbc740,#e1bf36,#fac53b,#f3c03b,#f8c23b,#c4c53a,#61cca6)"></i><i style="background:linear-gradient(#58c9b8,#59cab6,#59c9b7,#57c8be,#57c9ba,#59c9b6,#59c9b7,#5acab5,#5bcab3,#58c9b8,#5ecbac,#5ecbac,#60cca8,#5fcbaa,#61cca6,#60cca7,#64cd9f,#77cf85,#8ece6a,#a0cc57,#d3c135,#d0c236,#d2c135,#d7c135,#b8c742,#63cda1)"></i><i style="background:linear-gradient(#64cda0,#65cd9d,#65cd9e,#67cd9c,#68cd99,#6ace96,#6dce92,#69ce97,#6dce92,#6bce95,#6fce8f,#6ace97,#70ce8f,#6dce92,#6bce96,#6bce95,#7ccf7f,#93cd65,#a4cb54,#cac337,#cdc336,#fac53b,#e4bf37,#eebf3a,#dac035,#68cd99)"></i><i style="background:linear-gradient(#64cd9f,#61cca5,#62cca2,#63cca2,#65cd9e,#60cca8,#68cd9a,#64cda0,#68cd9a,#64cda0,#6ace97,#6ace96,#64cd9f,#6bce95,#64cd9f,#63cda1,#6ace96,#76cf86,#99cd5e,#b5c844,#bec63e,#efbf3a,#e6bf37,#dec036,#c6c439,#72ce8b)"></i><i style="background:linear-gradient(#59cab5,#5ccaaf,#5fcba9,#5bcab1,#5dcbae,#5dcbad,#5dcbae,#60cca8,#62cca3,#63cca2,#63cca2,#64cda0,#67cd9a,#61cca5,#64cd9f,#66cd9d,#6ace97,#81cf79,#9ccc5b,#abca4d,#bec63e,#ebbe39,#edbf39,#e9be38,#bfc63d,#66cd9c)"></i><i style="background:linear-gradient(#5acab4,#5acab4,#5acab3,#5ccab0,#5ecbac,#5ecbac,#5ecbab,#5bcab2,#61cca4,#5ccab0,#60cca6,#60cca7,#5fcba9,#62cca3,#65cd9e,#64cd9f,#68cd99,#8ace6e,#9fcc59,#adca4b,#d5c135,#f4c03b,#f1bf3a,#f5c03b,#bec63d,#63cca2)"></i><i style="background:linear-gradient(#54c6c4,#55c7c2,#56c7c1,#56c7c0,#56c8be,#57c8bc,#58c9b8,#57c8bc,#5bcab2,#59c9b6,#57c8bd,#58c9b9,#5bcab1,#5dcbae,#5bcab3,#5acab4,#5ecbac,#6cce93,#77cf85,#88ce71,#a4cb54,#cfc236,#c3c53b,#c1c53c,#9ecc5a,#66cd9d)"></i><i style="background:linear-gradient(#50c2ce,#52c5c8,#54c6c5,#52c4c9,#50c3cc,#51c3cb,#51c4ca,#54c6c5,#54c6c5,#56c7c2,#56c8c0,#57c8bd,#57c8bc,#5acab4,#5acab4,#59cab6,#5ecbab,#65cd9e,#6fce8f,#85ce74,#b7c843,#d9c035,#cfc236,#d6c135,#80cf7b,#5ccab0)"></i><i style="background:linear-gradient(#4fbed5,#4fbfd3,#4fc1d0,#4fc0d1,#50c2cd,#50c2cd,#50c2cd,#50c2ce,#51c4ca,#53c6c6,#55c7c3,#56c8bf,#56c8be,#57c8bd,#57c8bc,#58c9b8,#5acab4,#65cd9e,#9ccc5c,#8ace6f,#bdc63f,#dbc035,#c8c438,#e8bf38,#bac740,#5fcba9)"></i><i style="background:linear-gradient(#4fc1cf,#50c2ce,#51c4ca,#51c3cc,#52c4c9,#54c6c4,#52c5c8,#54c6c5,#53c6c6,#54c6c4,#56c8c0,#56c8be,#57c9bb,#57c9bb,#58c9b8,#5dcbae,#5fcba9,#6ace97,#79cf82,#76cf86,#9fcc59,#c0c53c,#b5c844,#b0c949,#86ce73,#5fcba9)"></i><i style="background:linear-gradient(#57c9bb,#56c7c1,#56c7c1,#56c7c1,#55c7c3,#58c9b8,#58c9b9,#58c9b9,#57c8bc,#59cab5,#5bcab2,#5acab5,#59c9b7,#5ccaaf,#5ccbaf,#5ecbac,#5ccab1,#76cf87,#60cca8,#7fcf7b,#99cd5f,#afc949,#abca4d,#a2cb56,#96cd61,#65cd9e)"></i><i style="background:linear-gradient(#56c8bf,#57c9bb,#56c7c2,#58c9ba,#57c9bb,#58c9b8,#58c9ba,#5bcab3,#5ccab0,#5ccab0,#5ecbac,#5dcbae,#5fcca8,#60cca6,#5fcba9,#60cca8,#64cda0,#69ce98,#72ce8c,#88ce70,#80cf7a,#92cd66,#96cd61,#90ce68,#73ce8a,#5fcbaa)"></i><i style="background:linear-gradient(#58c9ba,#57c8bd,#59cab5,#5acab3,#5bcab2,#5bcab2,#5bcab2,#5ccaaf,#5ccab0,#5ecbac,#5ecbac,#5ecbab,#62cca2,#60cca6,#60cca7,#62cca3,#60cca7,#78cf84,#79cf83,#98cd5f,#c2c53b,#b3c946,#c4c53a,#b2c947,#77cf85,#66cd9d)"></i><i style="background:linear-gradient(#5acab4,#5acab4,#59cab5,#5acab5,#5bcab1,#5ccaaf,#5bcab2,#59c9b6,#5ecbab,#5fcbaa,#5ecbab,#5fcbaa,#5fcbaa,#5fcba9,#60cca8,#5ecbab,#62cca4,#62cca3,#71ce8d,#6dce92,#68cd9a,#6bce94,#7dcf7e,#71ce8d,#68cd99,#57c8bc)"></i><i style="background:linear-gradient(#56c8bf,#56c7c2,#58c9ba,#56c7c0,#58c9b8,#57c9bb,#58c9ba,#59cab6,#5acab4,#59cab5,#5ecbab,#59cab5,#5ccab0,#5fcbaa,#5dcbad,#62cca4,#6ece91,#77cf86,#72ce8b,#70ce8e,#72ce8c,#75cf88,#7ecf7d,#70ce8e,#5ecbac,#5bcab2)"></i><i style="background:linear-gradient(#51c4cb,#51c3cb,#52c5c8,#54c6c5,#56c7c2,#54c6c5,#56c8bf,#54c6c4,#56c8bf,#56c8c0,#58c9ba,#58c9ba,#59cab6,#5bcab1,#5ecbac,#5bcab2,#60cca6,#5ccbaf,#67cd9a,#6ace97,#7fcf7c,#82cf78,#72ce8c,#75cf88,#6ece92,#5ecbab)"></i><i style="background:linear-gradient(#50c1cf,#4fc1cf,#52c4c9,#50c2ce,#53c5c6,#52c4c9,#51c4ca,#53c6c6,#56c7c1,#56c8c0,#57c8bc,#57c8bc,#58c9ba,#57c9bb,#58c9ba,#59c9b7,#62cca4,#60cca7,#6bce95,#6dce92,#72ce8c,#70ce8e,#71ce8d,#7dcf7e,#65cd9e,#5dcbae)"></i><i style="background:linear-gradient(#4fb8dd,#4fbada,#4fbcd8,#4fbcd7,#4fbed5,#4fbfd2,#4fbfd3,#4fc1d0,#4fbed5,#50c2ce,#51c4ca,#50c2ce,#52c5c7,#56c7c2,#56c7c1,#57c8bc,#5ccbaf,#64cda0,#6fce8f,#8ece6b,#94cd64,#c6c439,#bcc63f,#c7c438,#8cce6c,#5fcbaa)"></i><i style="background:linear-gradient(#4fc0d2,#4fc0d2,#50c1cf,#50c3cd,#50c2ce,#4fc0d2,#51c4ca,#53c5c7,#54c6c4,#54c6c4,#56c7c1,#56c7c1,#57c8bd,#56c8c0,#58c9b9,#59c9b7,#5fcba9,#5acab4,#60cca7,#73ce8a,#76cf86,#6ece90,#7bcf81,#72ce8c,#66cd9d,#5fcbaa)"></i><i style="background:linear-gradient(#4fbadb,#4fbcd8,#4fbcd8,#4fbbd9,#4fbdd7,#4fbed5,#4fc0d1,#4fc1d0,#4fc0d1,#50c2cd,#50c3cd,#52c5c8,#52c5c8,#53c6c5,#56c7c1,#57c8bd,#5fcba9,#5ecbab,#78cf84,#77cf86,#87ce72,#86ce74,#76cf87,#89ce70,#7dcf7e,#5bcab1)"></i><i style="background:linear-gradient(#4fbcd8,#4fbed4,#4fbed5,#4fc0d2,#4fc0d1,#50c2ce,#50c1cf,#50c3cc,#51c3cb,#53c5c7,#53c5c7,#56c7c1,#56c7c1,#56c8bf,#57c8bd,#59cab6,#5ecbab,#64cd9f,#6dce93,#7fcf7b,#8ece6b,#79cf82,#9fcc59,#a2cb56,#80cf7a,#61cca5)"></i><i style="background:linear-gradient(#50b7de,#4fbada,#4fbcd7,#4fbada,#4fbdd6,#4fbdd6,#4fbed5,#4fbfd3,#4fc1d0,#51c3cb,#51c3cc,#51c4ca,#54c6c4,#56c7c1,#57c8be,#57c8bc,#62cca3,#64cda0,#69ce98,#80cf7a,#89ce70,#8cce6c,#90ce68,#b4c845,#8cce6c,#6cce94)"></i><i style="background:linear-gradient(#60cca7,#5fcbaa,#63cda1,#64cda0,#62cca3,#68cd99,#66cd9c,#6ece90,#6ace96,#67cd9b,#6bce96,#6bce95,#6cce93,#6ece91,#6dce92,#6fce8f,#7dcf7e,#7acf81,#92cd66,#95cd63,#99cd5f,#b3c846,#c2c53b,#bec63d,#a8ca50,#70ce8e)"></i><i style="background:linear-gradient(#63cca2,#61cca6,#64cd9f,#65cd9e,#63cca2,#63cca2,#64cd9f,#65cd9e,#64cd9f,#66cd9c,#68cd99,#6ece91,#6bce95,#6cce94,#6bce94,#73ce8b,#64cda0,#77cf85,#80cf7b,#9ccc5b,#89ce6f,#92cd65,#95cd63,#9ccc5c,#92cd66,#65cd9e)"></i><i style="background:linear-gradient(#52c5c8,#55c7c2,#55c7c3,#55c7c2,#56c8c0,#58c9ba,#58c9b9,#5acab5,#5acab4,#5acab3,#5ccaaf,#5ecbad,#5ecbab,#61cca5,#62cca2,#61cca5,#5fcbaa,#6dce93,#73ce8b,#79cf83,#8fce69,#8ece6b,#98cd5f,#a2cc56,#91ce67,#6cce94)"></i><i style="background:linear-gradient(#62cca2,#63cda1,#64cda0,#65cd9e,#65cd9e,#68cd99,#69ce97,#6bce95,#6bce95,#6ace96,#6fce8f,#72ce8c,#6ece91,#72ce8b,#78cf83,#7bcf80,#93cd65,#8dce6b,#afc94a,#acca4c,#bec63e,#e4bf37,#e0bf36,#f3c03b,#dbc035,#8bce6d)"></i><i style="background:linear-gradient(#58c9b9,#59cab6,#5bcab2,#5fcbaa,#5dcbad,#5ecbac,#5ecbaa,#62cca3,#5fcba9,#62cca4,#62cca3,#6ace97,#65cd9f,#6ace96,#69ce98,#71ce8d,#75cf88,#79cf82,#95cd63,#88ce71,#9fcc58,#99cd5f,#b5c845,#a2cb55,#90ce68,#86ce73)"></i><i style="background:linear-gradient(#5ccab0,#5ccaaf,#5bcab1,#5bcab2,#5ecbac,#5fcba9,#5fcba8,#60cca7,#60cca8,#66cd9d,#63cca2,#64cda0,#66cd9c,#6bce95,#70ce8e,#70ce8e,#69ce98,#84ce76,#8bce6e,#97cd61,#9acd5e,#a7cb51,#a2cb56,#c1c53c,#9ecc59,#92ce66)"></i><i style="background:linear-gradient(#54c6c4,#54c6c4,#53c6c6,#56c7c1,#56c8be,#56c7c1,#58c9ba,#58c9b8,#57c8bd,#5ccab0,#59c9b6,#5dcbad,#5fcbaa,#5ecbab,#62cca4,#67cd9c,#67cd9b,#7acf82,#81cf79,#adca4c,#a1cc57,#b3c846,#ccc337,#b1c948,#b0c949,#87ce72)"></i><i style="background:linear-gradient(#52c5c8,#54c6c5,#55c7c3,#54c6c5,#56c8c0,#56c8c0,#57c8bd,#57c8bd,#59c9b8,#58c9b8,#59c9b7,#5dcbad,#5fcbaa,#61cca5,#61cca6,#66cd9d,#74cf89,#9bcc5d,#a6cb52,#bdc63e,#cec236,#dfbf36,#d7c135,#d2c135,#d6c135,#aec94b)"></i><i style="background:linear-gradient(#56c7c1,#57c8bc,#58c9b9,#58c9ba,#57c8bc,#5acab4,#59c9b7,#5bcab1,#5ecbab,#5ecbac,#60cca8,#5ccab1,#66cd9d,#65cd9e,#6dce93,#70ce8e,#76cf87,#93cd65,#a4cb53,#c1c53c,#bec63e,#d9c035,#d6c135,#c3c53a,#d7c135,#b6c844)"></i><i style="background:linear-gradient(#56c7c1,#55c7c3,#56c8bf,#57c8bc,#56c8bf,#57c8bd,#59c9b7,#5bcab2,#5dcbad,#60cca7,#5fcbaa,#69ce98,#70ce8f,#70ce8e,#7ccf80,#78cf83,#86ce73,#9acd5d,#a1cc57,#b8c742,#c2c53b,#d5c135,#e6bf37,#efbf3a,#c2c53b,#b6c843)"></i><i style="background:linear-gradient(#56c8c0,#58c9b8,#58c9ba,#58c9ba,#5acab5,#59c9b6,#63cca2,#6ace96,#7acf82,#93cd64,#a6cb52,#aaca4e,#adca4b,#bfc63d,#c1c53c,#c4c43a,#e9be38,#e9be38,#f5c03b,#f2bf3b,#f8c23b,#fbc63a,#f8c23b,#fbc939,#eebf39,#dac035)"></i><i style="background:linear-gradient(#57c8bd,#55c7c2,#57c8bd,#57c9bb,#57c9bb,#58c9b8,#61cca4,#6fce90,#77cf86,#88ce71,#96cd61,#9acd5e,#9ccc5c,#a9ca4f,#b4c845,#bec63d,#cac337,#dfbf36,#fbc739,#f6c13b,#f1bf3a,#f6c13b,#fbc73a,#fac43b,#f1bf3a,#dac035)"></i><i style="background:linear-gradient(#51c4ca,#52c5c8,#56c8bf,#56c8bf,#5acab5,#5dcbad,#62cca3,#6bce94,#6ece91,#7ccf7f,#84ce76,#9ccc5c,#a4cb54,#abca4d,#b7c843,#c6c439,#c6c439,#dec036,#f3c03b,#f4c03b,#ebbe39,#fbca38,#fbcf35,#f9d92f,#fbca38,#e7bf37)"></i><i style="background:linear-gradient(#69ce97,#6bce95,#6fce8f,#82cf78,#85ce74,#a3cb55,#a3cb55,#b9c741,#c0c63d,#cac337,#d8c035,#dac035,#e8bf38,#ecbe39,#eebf3a,#f4c03b,#f9c33b,#fbcc37,#fbce35,#f8f41b,#f9d82f,#f7ea24,#f8f51a,#f9fa15,#f7eb23,#fbcf35)"></i><i style="background:linear-gradient(#bac740,#cdc236,#d5c135,#d4c135,#dbc035,#e1bf36,#e4bf37,#e4bf37,#e6bf37,#f2bf3b,#f1bf3a,#f7c13b,#f9c33b,#fbc839,#fbcb37,#fbd034,#f8dc2d,#f9da2e,#f7ee20,#f9fb15,#f9fb15,#f9fb15,#f9fb15,#f9fb15,#f9fb15,#f8df2b)"></i><i style="background:linear-gradient(#f3c03b,#ecbf39,#f2bf3b,#f1bf3a,#f5c03b,#f3c03b,#f4c03b,#f5c03b,#f8c23b,#fac53a,#fac53b,#fac43b,#fac43b,#fbc839,#fbcc37,#fad432,#f9d82f,#f7e527,#f8f718,#f9fb15,#f9fb15,#f9fb15,#f9fb15,#f9fb15,#f9fb15,#f7e627)"></i><i style="background:linear-gradient(#f0bf3a,#eebf39,#f1bf3b,#f0bf3a,#f3bf3b,#f4c03b,#f1bf3a,#f8c33b,#f9c33b,#fac43b,#fac63a,#f9c43b,#fbc73a,#fbcd36,#fbcb37,#fbd034,#fbd034,#f7ee20,#f9f917,#f9fb15,#f9fb15,#f9fb15,#f9fb15,#f9fb15,#f9fb15,#f7f21d)"></i><i style="background:linear-gradient(#c6c439,#d0c236,#cec236,#d6c135,#d9c035,#dfbf36,#e4bf37,#ebbe39,#ebbe39,#efbf3a,#f4c03b,#f8c23b,#f8c33b,#fac53a,#fbcc37,#fbcc37,#fad531,#f8dd2c,#f8f41b,#f9fb15,#f9fb15,#f9fa15,#f9fb15,#f9fb15,#f9fa15,#f8de2b)"></i><i style="background:linear-gradient(#6ace96,#6ece91,#75cf88,#86ce73,#8fce69,#8ece6b,#9fcc59,#a6cb51,#b9c741,#ccc336,#d2c135,#dac035,#e6bf37,#eebf39,#f3bf3b,#f7c23b,#fbc839,#fad233,#f8de2c,#f7e726,#f8df2b,#f7eb23,#f7f01f,#f7f21d,#f7ee20,#fbcb38)"></i><i style="background:linear-gradient(#5bcab1,#5dcbae,#5ccab0,#60cca7,#64cda0,#6bce95,#6bce95,#77cf85,#7bcf80,#89ce70,#9fcc59,#a3cb55,#b6c843,#c0c53c,#ccc337,#d0c236,#e1bf36,#d5c135,#eabe38,#f2bf3b,#e5bf37,#fbc63a,#fbcb37,#f8df2b,#fbcd36,#f3bf3b)"></i><i style="background:linear-gradient(#56c8c0,#56c7c1,#54c6c4,#57c8bc,#5dcbae,#64cda0,#74cf89,#87ce72,#9ecc5a,#bbc740,#d1c236,#cfc236,#d2c135,#e0bf36,#ddc035,#e9be38,#f3c03b,#fbc839,#fad531,#fad333,#fbc939,#fad431,#fbc839,#fbc939,#fad432,#fac43b)"></i><i style="background:linear-gradient(#57c8bd,#5acab3,#59cab6,#5ccab0,#5ccaaf,#61cca5,#6ace96,#79cf83,#8cce6c,#a1cc57,#b2c947,#c2c53b,#c7c438,#d2c235,#d3c135,#d6c135,#f0bf3a,#fac63a,#f7c13b,#fbc839,#f6c13b,#fbca38,#fbc938,#fbc939,#f8c23b,#f2bf3b)"></i><i style="background:linear-gradient(#58c9ba,#57c9bb,#57c9bb,#58c9b9,#5acab5,#5ccbaf,#5ccbaf,#5ccbaf,#5fcba9,#62cca3,#60cca6,#6ece90,#6bce95,#6dce93,#74cf89,#78cf83,#83cf77,#adca4b,#c0c63d,#d0c236,#d0c236,#ebbe39,#e8bf38,#efbf3a,#e0bf36,#c1c53c)"></i><i style="background:linear-gradient(#5acab4,#5dcbae,#5dcbae,#5dcbad,#5fcbaa,#60cca8,#5fcbaa,#61cca5,#64cda0,#65cd9d,#67cd9b,#69ce98,#6ece91,#76cf87,#76cf86,#83cf77,#90ce69,#b8c742,#c4c53a,#e4bf37,#ccc337,#e8bf38,#f6c13b,#edbf39,#fac53b,#c1c53c)"></i><i style="background:linear-gradient(#59c9b6,#5acab5,#5ccab0,#5ccab0,#5dcbae,#5dcbae,#5dcbad,#62cca3,#63cda1,#64cda0,#65cd9d,#6ece91,#6cce94,#6fce90,#6ece91,#82cf77,#82cf78,#9dcc5b,#94cd63,#c5c439,#c1c53c,#e5bf37,#e7bf37,#e8bf38,#d3c135,#bac740)"></i><i style="background:linear-gradient(#58c9b8,#58c9b9,#58c9b8,#59c9b6,#5acab4,#5dcbad,#5ecbac,#61cca4,#60cca7,#63cca2,#63cda2,#69ce98,#68cd9a,#6fce90,#73ce8a,#76cf87,#78cf84,#89ce6f,#b7c843,#ddc035,#e6bf37,#d2c135,#e7bf38,#e7bf38,#eabe38,#ccc336)"></i><i style="background:linear-gradient(#56c7c1,#55c7c2,#54c6c5,#56c7c1,#56c8be,#56c8be,#58c9ba,#59cab5,#5acab3,#5dcbae,#60cca7,#62cca3,#65cd9e,#65cd9e,#6cce94,#6fce8f,#7acf82,#93cd64,#c6c439,#d7c135,#ecbf39,#dfbf36,#e9bf38,#e6bf37,#dfbf36,#aaca4e)"></i><i style="background:linear-gradient(#58c9b9,#58c9b9,#5acab3,#5bcab3,#5acab4,#5dcbae,#5ccab0,#5fcba9,#5dcbae,#60cca7,#61cca6,#65cd9e,#69ce98,#6fce90,#6fce90,#73ce8b,#7ecf7d,#97cd61,#93cd65,#bac740,#ddc035,#e4bf37,#cfc236,#e7bf37,#f0bf3a,#afc94a)"></i><i style="background:linear-gradient(#57c8bc,#58c9ba,#5acab3,#59c9b7,#5ccbaf,#5dcbae,#5ccaaf,#5ecbac,#62cca3,#5ecbab,#64cda0,#67cd9c,#67cd9a,#70ce8f,#6fce90,#7acf81,#7ccf7f,#93cd65,#abca4d,#c4c43a,#c4c53a,#e9be38,#edbf39,#f2bf3b,#f7c23b,#bdc63e)"></i><i style="background:linear-gradient(#5fcbaa,#5ecbab,#60cca7,#62cca3,#65cd9f,#63cda1,#66cd9d,#69ce97,#64cd9f,#6ece91,#6ece91,#7bcf81,#7acf81,#8dce6c,#85ce74,#a2cb56,#a9ca4f,#b0c949,#cec236,#e5bf37,#d4c135,#e5bf37,#f5c03b,#f4c03b,#dfbf36,#a3cb54)"></i><i style="background:linear-gradient(#59c9b7,#56c8bf,#59c9b7,#5acab4,#5ccaaf,#59c9b7,#5ccaaf,#5ecbab,#5fcbaa,#61cca6,#6ace97,#7ecf7d,#8ece6a,#b3c846,#d1c236,#e9bf38,#f4c03b,#fbcf35,#fad332,#fad233,#fad333,#fad630,#fad431,#f9d92f,#f8dc2d,#f7c23b)"></i><i style="background:linear-gradient(#57c9bb,#58c9ba,#58c9b8,#5acab3,#5acab3,#5ecbac,#5ecbab,#5ecbab,#62cca4,#63cca2,#6fce90,#71ce8d,#84ce75,#9fcc59,#b4c845,#d6c135,#d5c135,#f3c03b,#f6c13b,#f7c23b,#efbf3a,#f3bf3b,#fbca38,#fbd034,#fbcc37,#ddc035)"></i><i style="background:linear-gradient(#57c9bb,#59c9b6,#5acab3,#5bcab2,#5acab3,#5ccab1,#61cca6,#5ecbab,#62cca3,#6dce93,#6ece91,#79cf83,#77cf85,#87ce72,#88ce71,#89ce70,#a5cb53,#9dcc5b,#b1c948,#f1bf3a,#e3bf37,#e9be38,#f1bf3b,#f3bf3b,#f7c23b,#e8bf38)"></i><i style="background:linear-gradient(#59c9b6,#57c8be,#5acab4,#58c9b8,#62cca3,#60cca6,#69ce98,#6dce93,#71ce8d,#80cf7a,#92cd66,#93cd64,#afc94a,#adca4b,#b6c844,#bec63e,#c8c438,#d8c035,#eabe38,#e9be38,#f0bf3a,#f8c23b,#fbcc37,#fbc939,#fbc73a,#f0bf3a)"></i><i style="background:linear-gradient(#63cca2,#68cd99,#70ce8e,#78cf84,#7ecf7d,#8fce69,#96cd62,#a9ca4f,#b6c843,#bdc63e,#c9c337,#dcc035,#dfbf36,#e6bf37,#f0bf3a,#f1bf3a,#f7c13b,#fbca38,#fad432,#f8e02b,#f7e428,#f7ec22,#f8f41b,#f7ed21,#f8f619,#f7c23b)"></i><i style="background:linear-gradient(#b6c844,#c6c439,#c2c53b,#cdc336,#d5c135,#dfbf36,#e0bf36,#e3bf36,#efbf3a,#f3bf3b,#f3c03b,#f8c23b,#f7c13b,#fbc839,#fac53a,#fbca38,#f9d730,#f7e924,#f7f21d,#f9f916,#f9fa16,#f9fa15,#f9fb15,#f9fb15,#f9fa15,#f7e229)"></i><i style="background:linear-gradient(#f1bf3a,#efbf3a,#efbf3a,#f0bf3a,#f1bf3a,#f3bf3b,#f5c13b,#f8c23b,#f7c23b,#f8c23b,#fac53b,#f9c43b,#fbc73a,#fbc739,#fbd034,#fad233,#f8dd2d,#f7ee20,#f9f916,#f9fb15,#f9fb15,#f9fb15,#f9fb15,#f9fb15,#f9fb15,#f8dd2c)"></i><i style="background:linear-gradient(#e7bf37,#f2bf3b,#efbf3a,#f3c03b,#f2bf3b,#f4c03b,#f5c03b,#f5c03b,#f5c03b,#f9c43b,#fbc839,#fac53b,#f9c43b,#fbcb37,#fbcf35,#fad432,#f7e02a,#f7ef1f,#f8f51a,#f9fb15,#f9fb15,#f9fb15,#f9fb15,#f9fb15,#f9fb15,#f7e329)"></i><i style="background:linear-gradient(#afc949,#c0c63d,#bfc63d,#c9c337,#cac337,#cfc236,#d7c135,#e4bf37,#e9bf38,#efbf3a,#f2bf3b,#f6c13b,#f9c43b,#f9c33b,#fbc839,#fbcd36,#f9d730,#f7ee21,#f8f619,#f9fa15,#f9fa15,#f9fb15,#f9fa16,#f8f718,#f9f916,#f7e329)"></i><i style="background:linear-gradient(#5ecbac,#6bce95,#6fce90,#72ce8b,#85ce74,#89ce70,#98cd5f,#a3cb55,#b8c742,#c1c53b,#ccc336,#d4c135,#ddc035,#e5bf37,#f0bf3a,#f4c03b,#fac53b,#fad233,#f7eb22,#f7e427,#fbd233,#f8df2b,#f7f21d,#f7e527,#f7ed21,#fac53a)"></i><i style="background:linear-gradient(#5bcab2,#5ecbac,#5fcba9,#64cd9f,#63cca2,#67cd9a,#6fce8f,#6dce93,#7acf82,#8ece6a,#91ce67,#a3cb55,#b7c843,#b9c741,#bec63e,#c9c337,#cbc337,#f0bf3a,#f1bf3b,#e8bf38,#ecbf39,#f6c13b,#f7c13b,#fbcb37,#fac43b,#dac035)"></i><i style="background:linear-gradient(#59c9b6,#5dcbad,#5bcab1,#5fcba9,#5fcbaa,#5fcba9,#60cca7,#64cda0,#68cd9a,#6dce93,#70ce8e,#80cf7a,#81cf79,#83cf77,#83ce76,#8ece6a,#9ccc5c,#bcc63f,#ddc035,#ddc035,#f1bf3a,#dac035,#f7c23b,#e6bf37,#d5c135,#d1c236)"></i><i style="background:linear-gradient(#5dcbae,#5bcab2,#5bcab1,#62cca3,#5ecbac,#5ecbac,#69ce98,#68cd99,#6cce94,#72ce8c,#79cf83,#86ce73,#98cd60,#99cd5e,#9fcc59,#a7cb51,#b3c846,#d1c236,#c9c337,#d3c135,#eebf39,#e6bf37,#edbf39,#f0bf3a,#f0bf3a,#dfbf36)"></i><i style="background:linear-gradient(#5bcab1,#60cca7,#60cca8,#65cd9e,#6bce96,#6ece90,#75cf88,#83cf77,#90ce69,#9acd5e,#a6cb52,#b7c843,#c4c43a,#d5c135,#d5c135,#d9c035,#f0bf3a,#e8bf38,#fac53a,#fbce36,#fbd233,#fad332,#f8dd2c,#f7e726,#f9d82f,#fbc73a)"></i><i style="background:linear-gradient(#7ccf7f,#86ce73,#8ace6f,#91ce67,#9ccc5b,#a2cb55,#b1c947,#b9c742,#c7c439,#d6c135,#ddc035,#e5bf37,#ecbf39,#f4c03b,#f6c13b,#f7c13b,#f9c43b,#fbcb37,#f7ee20,#f7f31c,#f7f11e,#f9fa16,#f8f818,#f8f917,#f8f718,#fbce36)"></i><i style="background:linear-gradient(#b8c742,#c3c53b,#bec63d,#c2c53b,#cbc337,#cbc337,#dcc035,#dec036,#e1bf36,#edbf39,#f2bf3b,#f7c13b,#fac43b,#fac63a,#fbc63a,#fbce35,#f9d92f,#f7f01f,#f7f41b,#f9fb15,#f9fb15,#f9fa16,#f9fb15,#f9fb15,#f9fb15,#f7e328)"></i><i style="background:linear-gradient(#b8c742,#c6c439,#cbc337,#ccc336,#cbc337,#d3c135,#d3c135,#e6bf37,#e7bf38,#eebf39,#eebf3a,#f5c03b,#f9c43b,#f9c33b,#fbca38,#fbce36,#f8dd2c,#f7e02a,#f8f817,#f9fb15,#f9fb15,#f9fa15,#f9fb15,#f9fb15,#f9fb15,#f8dc2d)"></i><i style="background:linear-gradient(#9dcc5a,#aaca4e,#adca4b,#c7c438,#bdc63f,#c5c439,#cec236,#dbc035,#d8c135,#e4bf37,#e9be38,#f5c03b,#f5c03b,#f9c33b,#fac53a,#fbcf35,#f8e02a,#f7e12a,#f7e825,#f9fb15,#f9f916,#f9f916,#f9fb15,#f9fa15,#f9fa15,#fbcf35)"></i><i style="background:linear-gradient(#65cd9f,#6dce93,#6bce94,#72ce8b,#77cf86,#83ce76,#8fce69,#a8cb50,#b5c844,#b8c742,#c3c53a,#d2c235,#d9c035,#e1bf36,#e8bf38,#efbf3a,#f9c33b,#fbcc37,#f8dd2c,#f7e825,#f7e924,#f7ec22,#f7e825,#f7e924,#f7ed21,#efbf3a)"></i><i style="background:linear-gradient(#54c6c5,#56c7c2,#56c8c0,#57c8bc,#58c9b8,#59cab5,#60cca7,#5fcbaa,#69ce98,#76cf87,#81cf79,#92cd66,#9ccc5c,#9ecc5a,#b0c948,#b3c846,#a2cc56,#c1c53c,#ebbe39,#edbf39,#e9bf38,#efbf3a,#fbc939,#fad432,#f9c33b,#e8bf38)"></i><i style="background:linear-gradient(#59c9b7,#5dcbae,#59c9b7,#5acab3,#5bcab2,#5ecbac,#60cca6,#5ecbab,#5dcbae,#68cd99,#6ace97,#73ce8b,#79cf82,#7ccf7f,#86ce73,#84ce76,#9ecc5a,#a3cb54,#cdc236,#e8bf38,#f2bf3b,#d8c035,#e4bf37,#f0bf3a,#e9bf38,#dac035)"></i><i style="background:linear-gradient(#59c9b7,#56c8bf,#57c9bc,#57c8bd,#58c9ba,#59c9b7,#58c9ba,#59cab5,#59c9b7,#5ecbac,#61cca5,#60cca8,#63cda1,#67cd9b,#85ce75,#a3cb55,#c8c338,#e3bf37,#f3c03b,#debf36,#efbf3a,#dcc035,#f1bf3b,#e8bf38,#ebbe39,#d2c135)"></i><i style="background:linear-gradient(#57c8bc,#57c8bc,#58c9ba,#59c9b6,#5bcab2,#5bcab1,#5acab3,#5ccab0,#5ecbad,#5fcbaa,#5fcba9,#61cca4,#65cd9d,#67cd9c,#74ce89,#82cf77,#abca4d,#b3c946,#a9ca4f,#b5c845,#bfc63d,#c6c439,#c3c53a,#cec236,#c6c439,#adca4c)"></i><i style="background:linear-gradient(#55c7c2,#56c8bf,#59c9b6,#57c8bc,#58c9ba,#57c8bc,#59cab5,#5bcab2,#5ccaaf,#5dcbae,#60cca7,#61cca4,#65cd9f,#63cda1,#64cd9f,#6ace96,#79cf83,#7ecf7c,#99cd5e,#a4cb54,#a9ca4f,#ccc337,#bfc63d,#bec63e,#b7c843,#89ce6f)"></i><i style="background:linear-gradient(#50c2cd,#50c3cc,#51c4ca,#52c4c8,#52c4c9,#52c5c8,#53c5c7,#54c6c4,#53c5c7,#57c8bd,#57c8bd,#58c9ba,#59cab6,#5dcbae,#5bcab1,#61cca5,#65cd9e,#83cf77,#7dcf7e,#adca4b,#b3c846,#9bcd5d,#abca4d,#abca4d,#9dcc5b,#88ce70)"></i><i style="background:linear-gradient(#53c5c7,#52c5c8,#53c6c6,#54c6c4,#56c7c1,#56c7c2,#54c6c4,#56c8bf,#59c9b7,#5acab4,#5acab4,#5dcbaf,#5dcbad,#5fcbaa,#5fcba9,#67cd9b,#71ce8d,#7ccf7f,#8cce6c,#bbc740,#c5c439,#b8c742,#d7c135,#d4c135,#b4c845,#98cd60)"></i><i style="background:linear-gradient(#53c5c7,#55c7c3,#56c8be,#53c5c6,#57c8bc,#56c8c0,#59c9b7,#59c9b6,#58c9ba,#56c8be,#5ccaaf,#5dcbae,#5ecbab,#5ecbac,#5ecbab,#61cca5,#6bce96,#70ce8e,#74ce8a,#79cf83,#74ce89,#7ecf7c,#89ce70,#9bcd5d,#77cf86,#69ce98)"></i><i style="background:linear-gradient(#4fc0d2,#4fc0d2,#50c2ce,#50c2cd,#50c3cc,#51c3cb,#51c4ca,#53c5c7,#54c7c4,#54c6c4,#55c7c3,#57c8bc,#57c9bb,#58c9b8,#5dcbae,#5ecbac,#6ece91,#6bce95,#6fce90,#86ce73,#a3cb55,#bbc740,#b7c842,#adca4c,#b2c947,#74ce8a)"></i><i style="background:linear-gradient(#4fbed4,#4fbed4,#4fc0d2,#50c1cf,#50c2ce,#50c2ce,#51c3cc,#51c4ca,#52c5c8,#54c6c4,#56c7c1,#57c9bb,#59cab6,#5bcab2,#5ccab1,#5fcba9,#64cd9f,#6dce92,#7ccf7f,#96cd61,#afc94a,#bec63e,#b6c844,#cec236,#94cd64,#6fce90)"></i><i style="background:linear-gradient(#4fbada,#4fbcd7,#4fbcd7,#4fbdd7,#4fbdd7,#50c2cd,#4fbfd3,#4fc1d0,#51c3cc,#52c4c9,#51c4ca,#52c5c7,#56c8bf,#5acab5,#5ccab0,#5ccab1,#64cd9f,#65cd9e,#7acf82,#8ace6f,#9fcc58,#bdc63f,#b6c844,#b2c947,#abca4d,#71ce8d)"></i><i style="background:linear-gradient(#50b6df,#50b7df,#50b5e0,#4fb8dd,#50b7de,#4fbdd7,#4fb9db,#4fbdd7,#4fbed4,#4fc0d1,#50c2cd,#4fc1d0,#51c4ca,#55c7c3,#56c8be,#5acab5,#59c9b6,#66cd9c,#72ce8b,#7acf82,#7dcf7e,#7fcf7c,#77cf86,#83cf77,#7bcf80,#69ce97)"></i><i style="background:linear-gradient(#51b3e2,#51b4e1,#51b4e2,#50b7df,#50b7de,#50b7df,#4fbcd8,#4fbcd8,#4fbed5,#4fbfd3,#4fbfd2,#50c1cf,#52c5c8,#56c7c1,#56c8c0,#57c8bc,#60cca6,#68cd99,#70ce8e,#77cf85,#6ace96,#71ce8c,#6dce92,#7ecf7c,#6cce94,#60cca7)"></i><i style="background:linear-gradient(#50b6df,#51b4e1,#50b6e0,#50b7de,#4fbbda,#4fb9db,#4fbed5,#4fbdd6,#4fbfd4,#4fbfd3,#50c2cd,#51c4ca,#56c7c1,#55c7c3,#57c9bb,#57c9bb,#58c9b9,#5ccab0,#61cca5,#68cd99,#6fce8f,#78cf84,#73ce8b,#66cd9c,#63cca2,#58c9b9)"></i><i style="background:linear-gradient(#4fbbd9,#50b7de,#4fbada,#4fbada,#4fbdd6,#4fc0d1,#50c2cd,#4fbfd4,#4fc1d0,#50c1cf,#50c2ce,#52c5c8,#55c7c3,#58c9ba,#57c8bc,#59cab5,#60cca7,#66cd9d,#65cd9e,#67cd9b,#65cd9e,#6ece91,#7bcf80,#80cf7a,#65cd9f,#5ccaaf)"></i><i style="background:linear-gradient(#51c4cb,#50c3cd,#50c3cd,#50c3cd,#52c4c9,#53c5c7,#54c6c5,#53c5c7,#56c8c0,#57c9ba,#58c9b8,#56c8be,#5ccab0,#5ecbac,#5fcbaa,#60cca7,#64cda0,#64cd9f,#74ce8a,#65cd9e,#77cf85,#8ace6f,#7ccf7e,#8bce6d,#88ce71,#5fcbaa)"></i><i style="background:linear-gradient(#56c8bf,#57c9bb,#57c9bb,#58c9ba,#57c8be,#57c8bc,#5bcab3,#58c9ba,#5acab3,#5bcab1,#5fcbaa,#62cca3,#60cca6,#65cd9e,#66cd9c,#67cd9b,#79cf83,#79cf83,#98cd60,#97cd61,#b5c845,#cdc236,#a6cb52,#c8c438,#a7cb51,#65cd9e)"></i><i style="background:linear-gradient(#51c3cb,#55c7c3,#53c6c6,#54c6c5,#55c7c2,#56c8bf,#55c7c3,#57c8be,#58c9b8,#58c9b9,#5ccbaf,#5ccaaf,#5fcba9,#61cca5,#63cda2,#65cd9d,#61cca6,#6ece91,#73ce8b,#9dcc5b,#a9ca4f,#c3c53a,#c3c53a,#c0c53c,#8fce69,#76cf87)"></i><i style="background:linear-gradient(#4fb8dd,#4fbada,#4fbcd7,#4fbdd6,#4fbbd9,#4fbfd4,#4fc0d1,#50c3cc,#4fc0d2,#51c4ca,#53c5c6,#55c7c2,#57c8bd,#56c7c2,#58c9b8,#5acab4,#59c9b6,#68cd9a,#67cd9b,#76cf87,#7ccf7f,#84ce75,#89ce70,#80cf7b,#67cd9b,#62cca3)"></i><i style="background:linear-gradient(#4fbed5,#4fbfd4,#4fc0d2,#4fc0d2,#4fc1d0,#50c1cf,#50c2ce,#52c4c9,#52c4c9,#54c6c4,#56c7c1,#56c8bf,#59c9b7,#5acab4,#57c8bc,#5ccab0,#5ecbab,#70ce8e,#75cf88,#76cf87,#8bce6e,#95cd63,#92cd66,#94cd63,#84ce75,#60cca7)"></i><i style="background:linear-gradient(#4fc0d1,#50c1cf,#4fc1d0,#50c2cd,#50c2cd,#50c2cd,#52c5c7,#52c5c8,#56c7c2,#53c6c6,#56c8bf,#57c9bb,#59c9b6,#5ecbac,#5ccaaf,#5fcbaa,#5fcba8,#67cd9c,#76cf86,#79cf83,#72ce8c,#77cf85,#89ce70,#6fce8f,#6ece91,#5dcbad)"></i><i style="background:linear-gradient(#4fbdd6,#4fbdd7,#4fbfd4,#4fbed5,#4fc0d2,#4fc0d1,#50c2ce,#50c2ce,#51c3cc,#55c7c3,#54c6c4,#57c8bd,#57c9bb,#57c9bb,#57c8bc,#59c9b7,#79cf82,#5ecbab,#66cd9d,#76cf87,#71ce8d,#7fcf7c,#83cf77,#79cf82,#6dce92,#61cca5)"></i><i style="background:linear-gradient(#52b2e3,#51b4e2,#50b6e0,#4fb8dd,#50b5e0,#4fb8dd,#4fb8dd,#4fbed5,#4fbcd7,#4fc0d2,#4fc0d2,#50c2cd,#52c4c9,#53c5c6,#57c8bc,#57c8bd,#59c9b6,#57c8bc,#67cd9b,#65cd9e,#69ce97,#62cca3,#6dce93,#69ce98,#5fcbaa,#57c8bc)"></i><i style="background:linear-gradient(#51b3e3,#52b2e3,#51b4e1,#50b5e0,#4fb7de,#4fb7de,#4fb9dc,#4fbdd7,#4fbdd6,#4fbed4,#50c2ce,#51c3cb,#53c5c7,#52c5c8,#54c6c4,#59c9b7,#5ecbac,#60cca7,#68cd99,#6fce90,#85ce74,#7ccf7f,#82cf78,#7fcf7c,#69ce98,#61cca5)"></i><i style="background:linear-gradient(#4fbada,#4fbcd7,#4fb9db,#4fbbd9,#4fbcd8,#4fbcd7,#4fbdd6,#4fbed5,#4fbfd3,#50c2ce,#51c3cb,#52c5c8,#55c7c3,#56c8c0,#5bcab2,#5acab3,#5acab3,#5fcbaa,#7bcf80,#7ccf7f,#aec94b,#a4cb54,#aec94b,#a8cb50,#7dcf7d,#5ecbac)"></i><i style="background:linear-gradient(#4fbcd7,#4fbed4,#4fbcd7,#4fbed5,#4fbdd6,#4fc1cf,#50c1cf,#50c2cf,#50c2cd,#52c5c8,#53c6c5,#56c7c1,#57c8bd,#58c9ba,#5ccab0,#5dcbae,#5ccab0,#6ece91,#7dcf7d,#80cf7b,#85ce74,#adca4c,#afc94a,#a6cb52,#7ccf7f,#64cda0)"></i><i style="background:linear-gradient(#51c3cb,#51c3cb,#50c2ce,#51c4ca,#52c5c8,#53c5c7,#54c6c4,#54c6c4,#55c7c3,#56c8bf,#57c8bd,#57c9bb,#59c9b6,#5ecbac,#60cca7,#61cca6,#6dce92,#6cce94,#64cda0,#6cce94,#7dcf7e,#75cf87,#7fcf7c,#79cf83,#6dce92,#5dcbae)"></i><i style="background:linear-gradient(#4fb9db,#4fbcd8,#4fbdd6,#4fbada,#4fbdd7,#4fbfd4,#4fc1d0,#4fc0d1,#50c2ce,#50c2ce,#52c5c8,#53c6c5,#55c7c3,#57c9bb,#59c9b7,#5bcab2,#60cca6,#62cca4,#6ace96,#63cda1,#70ce8f,#7dcf7e,#74cf89,#72ce8c,#6bce96,#5dcbad)"></i><i style="background:linear-gradient(#50b7de,#4fbadb,#4fbadb,#4fbadb,#4fbdd6,#4fbcd8,#4fc0d1,#4fc0d1,#50c3cc,#51c4c9,#54c6c5,#53c5c6,#57c8be,#57c9bb,#5acab4,#5acab3,#63cda1,#6ece91,#66cd9c,#78cf84,#76cf87,#7fcf7c,#78cf83,#6bce95,#5fcbaa,#58c9b9)"></i><i style="background:linear-gradient(#4fbdd7,#4fbdd6,#4fbdd6,#4fc0d2,#4fbfd3,#50c1cf,#4fc1d0,#51c3cb,#52c5c8,#53c5c7,#56c7c2,#53c5c7,#57c9bb,#58c9b8,#5acab5,#5ccab0,#6bce95,#60cca7,#81cf79,#7dcf7e,#88ce71,#a9ca4f,#96cd62,#91ce67,#8fce69,#5acab3)"></i><i style="background:linear-gradient(#4fbcd8,#4fbdd7,#4fbdd6,#4fbed5,#4fc1d0,#4fc0d1,#4fbed5,#50c1cf,#50c2ce,#50c3cc,#54c6c5,#57c8be,#56c8be,#57c8be,#5acab3,#5bcab1,#5dcbae,#68cd9a,#6ace96,#78cf83,#9fcc59,#b0c948,#afc94a,#88ce71,#75cf88,#5ccab0)"></i><i style="background:linear-gradient(#53b0e5,#53b0e5,#53afe6,#51b4e2,#51b3e2,#51b3e2,#50b6e0,#4fbdd7,#4fbada,#4fbdd7,#4fbfd4,#4fc1d0,#50c2ce,#53c6c6,#54c6c5,#57c8bd,#5acab4,#64cda0,#6dce92,#8fce69,#90ce68,#b3c846,#a5cb53,#98cd60,#87ce72,#5ccbaf)"></i><i style="background:linear-gradient(#50b7de,#4fbcd8,#4fb9db,#4fbdd7,#4fbed5,#4fc0d2,#4fbed5,#4fbfd3,#4fc0d1,#50c1cf,#53c5c7,#56c7c2,#55c7c2,#59c9b7,#58c9ba,#59c9b8,#60cca7,#62cca4,#67cd9b,#6fce8f,#78cf84,#77cf85,#7acf82,#77cf85,#68cd9a,#59cab5)"></i><i style="background:linear-gradient(#51c3cb,#52c4c9,#51c3cb,#52c5c8,#50c3cd,#52c5c8,#56c8bf,#54c6c5,#56c8c0,#57c8be,#5bcab2,#5acab5,#5bcab1,#5ecbab,#5fcba9,#62cca4,#5bcab1,#6cce93,#6ace96,#71ce8d,#8cce6d,#85ce74,#8dce6b,#92cd66,#78cf83,#5ccab0)"></i><i style="background:linear-gradient(#4fc1d0,#4fc1d0,#53c5c6,#52c4c9,#52c5c8,#52c4c9,#53c5c7,#54c6c4,#55c7c3,#55c7c2,#58c9b9,#56c8be,#5dcbae,#5ccbaf,#60cca7,#62cca3,#5fcba9,#6ace97,#70ce8e,#76cf87,#9ccc5c,#96cd62,#9ccc5c,#89ce70,#76cf86,#59c9b7)"></i><i style="background:linear-gradient(#4fbada,#4fbcd8,#4fbcd7,#4fbed4,#4fbfd4,#4fbed5,#4fc1d0,#4fc1d0,#50c2cd,#51c3cb,#54c6c5,#56c8c0,#57c8bc,#56c8c0,#5acab3,#5ccab0,#5dcbad,#65cd9d,#62cca2,#64cd9f,#6bce96,#65cd9f,#69ce98,#78cf84,#5fcba9,#5ccab0)"></i><i style="background:linear-gradient(#50b5e0,#4fb9db,#4fbdd7,#4fbada,#4fb9dc,#4fbdd6,#4fbfd4,#4fbfd3,#50c2ce,#51c3cb,#50c3cd,#55c7c2,#54c6c4,#57c8bc,#5acab3,#5acab5,#5bcab2,#64cda0,#5dcbad,#6fce8f,#6cce93,#6ece91,#79cf83,#71ce8d,#69ce98,#5acab3)"></i><i style="background:linear-gradient(#4fbcd7,#4fbdd6,#4fbdd6,#4fbed5,#4fc0d2,#4fbed4,#4fbfd2,#50c1cf,#4fc1d0,#51c3cc,#51c3cb,#55c7c3,#56c8c0,#58c9ba,#58c9b9,#5ccab0,#62cca3,#61cca4,#68cd9a,#71ce8c,#79cf82,#83cf77,#77cf85,#88ce70,#7fcf7c,#5bcab2)"></i><i style="background:linear-gradient(#52c5c7,#52c4c9,#51c3cb,#54c6c4,#52c5c8,#56c8c0,#56c7c1,#56c8c0,#57c8bc,#57c8bc,#5acab3,#59cab6,#5dcbad,#60cca7,#62cca3,#63cca2,#6dce92,#76cf87,#83cf77,#92ce66,#b1c948,#c4c43a,#e1bf36,#b8c742,#a0cc58,#63cda1)"></i><i style="background:linear-gradient(#50c2cf,#4fc0d2,#4fbfd2,#51c3cb,#51c3cb,#53c5c7,#53c5c7,#54c6c4,#56c7c2,#58c9b9,#56c8c0,#59c9b7,#5ccab0,#5bcab2,#60cca6,#61cca5,#6dce92,#7ecf7d,#94cd64,#8cce6d,#b4c845,#b3c846,#cec236,#d0c236,#a4cb54,#79cf83)"></i><i style="background:linear-gradient(#4fbfd3,#4fbed4,#4fbfd4,#50c1cf,#50c2cd,#50c3cd,#52c4c9,#51c4ca,#50c3cc,#55c7c3,#54c6c5,#56c8c0,#57c9bb,#5acab3,#5ccbaf,#5ecbac,#63cda1,#68cd99,#6ace97,#6dce92,#83ce76,#94cd63,#89ce70,#71ce8c,#69ce98,#5ccab0)"></i><i style="background:linear-gradient(#51c3cb,#50c2cd,#50c3cc,#51c4ca,#53c5c7,#52c4c9,#55c7c3,#54c6c5,#54c6c5,#56c8be,#58c9b9,#5acab4,#59cab5,#5ecbab,#5ecbab,#60cca7,#5dcbad,#6dce92,#7acf82,#86ce73,#6ece90,#7acf81,#86ce73,#85ce74,#7fcf7b,#5acab3)"></i><i style="background:linear-gradient(#4fbed5,#4fbdd6,#4fbdd7,#4fbed4,#50c1cf,#4fc1d0,#51c3cc,#51c3cc,#51c4ca,#54c6c5,#55c7c2,#56c7c2,#58c9b9,#58c9b8,#5bcab1,#5dcbad,#60cca8,#66cd9d,#6ace96,#72ce8c,#7ecf7d,#a1cc57,#77cf85,#88ce71,#84ce75,#5ccab1)"></i><i style="background:linear-gradient(#51c4ca,#50c3cc,#51c3cb,#52c5c8,#52c4c9,#53c5c7,#56c8c0,#55c7c2,#56c8bf,#57c8bd,#57c8bc,#58c9b8,#5ccbaf,#5ecbac,#5ecbac,#62cca3,#70ce8e,#6ace96,#8cce6d,#8ace6f,#bdc63e,#cbc337,#d3c135,#cfc236,#c1c53c,#63cda1)"></i><i style="background:linear-gradient(#54c7c4,#56c7c1,#56c7c1,#56c8be,#58c9b8,#57c8bc,#58c9ba,#59c9b6,#59c9b6,#5ccbaf,#5ccab0,#5ecbab,#5fcbaa,#60cca7,#6ace96,#65cd9d,#6dce92,#87ce72,#87ce72,#95cd63,#d3c135,#dfbf36,#ccc337,#cdc236,#9ccc5b,#75cf88)"></i><i style="background:linear-gradient(#50c2ce,#55c7c3,#53c5c7,#52c5c7,#54c6c5,#56c7c1,#56c7c1,#57c9bb,#56c8bf,#57c9ba,#5acab3,#5bcab2,#5fcba9,#60cca8,#5ecbac,#67cd9b,#64cd9f,#69ce98,#6bce95,#8cce6c,#80cf7a,#89ce6f,#85ce74,#85ce74,#72ce8b,#64cda0)"></i><i style="background:linear-gradient(#50b6df,#51b3e2,#50b6df,#50b7de,#4fbada,#4fbdd7,#4fbbd9,#4fbdd6,#4fbfd3,#4fc0d2,#4fc1cf,#51c3cb,#54c6c4,#56c7c1,#57c9bb,#5acab3,#59cab5,#60cca6,#61cca6,#6bce95,#72ce8b,#87ce72,#7acf82,#8ace6f,#65cd9d,#58c9b8)"></i><i style="background:linear-gradient(#4fbbda,#4fbdd7,#4fbdd7,#4fbfd3,#4fc0d1,#4fbfd3,#4fc0d2,#4fc0d1,#52c4c9,#50c3cc,#52c5c8,#55c7c2,#57c8be,#57c9bb,#59c9b6,#5ccaaf,#68cd99,#5fcba9,#66cd9c,#78cf83,#90ce68,#98cd60,#94cd64,#7fcf7b,#6ece91,#5ccab0)"></i><i style="background:linear-gradient(#4fb8dd,#4fbcd8,#4fbbda,#4fbcd8,#4fbbd9,#4fbed4,#4fbfd3,#4fc1d0,#51c3cc,#51c3cb,#52c4c9,#53c6c5,#56c8c0,#59cab6,#58c9b9,#58c9b8,#65cd9d,#5ccab0,#68cd9a,#67cd9a,#68cd99,#7ecf7c,#65cd9e,#62cca2,#5fcbaa,#59c9b7)"></i><i style="background:linear-gradient(#50b6df,#4fb7de,#4fb9dc,#4fb8dd,#4fb8dd,#4fbcd8,#4fbfd4,#4fbed4,#4fc1d0,#50c3cc,#52c4c9,#53c5c7,#53c5c7,#54c6c5,#58c9b9,#59c9b6,#64cd9f,#5ccaaf,#5ccaaf,#6dce92,#6ace96,#69ce98,#72ce8b,#6cce94,#67cd9c,#57c8bc)"></i><i style="background:linear-gradient(#55abe9,#53aee7,#54aee7,#53afe6,#52b2e3,#51b4e2,#50b6e0,#50b5e1,#4fb8dd,#4fbcd8,#4fbed5,#4fbfd4,#4fc1cf,#51c3cc,#53c5c7,#56c8c0,#5fcba9,#5ecbac,#6ece91,#5ecbab,#7ccf7f,#83ce76,#70ce8e,#72ce8c,#68cd99,#59cab6)"></i><i style="background:linear-gradient(#55ace8,#55abe9,#55ace8,#52b1e4,#52b1e5,#52b1e4,#51b4e2,#50b5e1,#4fb8dd,#50b6df,#4fbada,#4fbfd3,#50c2cd,#52c4c9,#54c6c4,#55c7c4,#58c9b8,#61cca5,#7bcf80,#7bcf81,#9bcd5d,#9ecc59,#87ce72,#a7cb51,#77cf85,#59c9b7)"></i><i style="background:linear-gradient(#54ade8,#55ace9,#55ace8,#51b3e3,#51b3e3,#51b3e3,#50b5e0,#4fb8dd,#4fbadb,#4fbadb,#4fbbd9,#50c1cf,#4fc0d2,#52c5c8,#53c5c6,#57c9bb,#57c8bc,#63cca2,#62cca3,#7dcf7e,#a1cc57,#9acd5d,#92cd65,#93cd65,#98cd60,#5fcba9)"></i><i style="background:linear-gradient(#53b0e6,#54aee7,#52b1e4,#51b3e3,#51b3e3,#50b5e0,#50b5e0,#4fb9dc,#4fb9dc,#4fbbd9,#4fbbd9,#4fbfd2,#50c2ce,#51c4ca,#53c5c7,#59c9b6,#5bcab2,#5bcab2,#5ecbab,#62cca4,#71ce8d,#6ace96,#7bcf80,#6dce92,#74cf89,#5ecbac)"></i><i style="background:linear-gradient(#51b4e1,#50b5e0,#50b5e1,#50b7df,#4fb8dd,#4fb7de,#4fbbd9,#4fbbda,#4fbed5,#4fc0d2,#4fc1cf,#50c2ce,#53c5c7,#52c5c8,#56c8be,#57c9ba,#57c8bc,#62cca4,#6cce93,#75cf88,#77cf85,#6bce95,#78cf84,#75cf88,#61cca5,#59c9b7)"></i><i style="background:linear-gradient(#53b0e5,#51b2e3,#51b3e3,#51b4e2,#4fb8dd,#4fb9dc,#4fbbd9,#4fbada,#4fbcd8,#4fbdd6,#4fc0d2,#50c3cc,#50c2cd,#54c6c4,#56c8c0,#58c9b9,#5bcab2,#5ccab0,#5ccab0,#5dcbae,#6dce92,#63cca2,#64cda0,#69ce98,#60cca8,#56c8bf)"></i><i style="background:linear-gradient(#50b6df,#50b7df,#4fb9db,#4fb9db,#4fb9dc,#4fbdd7,#4fbcd8,#4fc0d2,#4fbed5,#50c2ce,#50c3cc,#52c5c8,#55c7c3,#53c6c6,#56c8bf,#59c9b7,#5bcab1,#66cd9d,#77cf86,#78cf84,#7bcf80,#88ce71,#93cd65,#8ace6e,#65cd9e,#5ecbab)"></i><i style="background:linear-gradient(#57a7ec,#55ace8,#54aee7,#52b2e4,#52b1e5,#51b4e2,#51b4e1,#50b6df,#4fb8dd,#4fb9dc,#4fbbda,#4fc1d0,#4fc1d0,#50c2ce,#53c6c6,#56c7c1,#58c9b8,#58c9b9,#61cca5,#75cf88,#75cf87,#81cf79,#7dcf7d,#75cf88,#6bce95,#5acab3)"></i><i style="background:linear-gradient(#59a4ed,#58a5ed,#58a6ed,#57a7eb,#57a7ec,#57a8eb,#56aaea,#53afe6,#53afe6,#52b2e4,#51b4e1,#4fb8dd,#4fbcd8,#4fbdd6,#4fc0d1,#54c6c5,#58c9ba,#5dcbaf,#68cd9a,#7fcf7b,#86ce73,#a6cb52,#b5c844,#9ecc59,#82cf78,#63cca2)"></i><i style="background:linear-gradient(#5aa2ef,#5aa3ee,#59a5ed,#59a5ed,#57a8eb,#56a9ea,#54ade8,#54aee7,#51b2e3,#51b2e3,#50b6e0,#50b7df,#4fbdd7,#4fc1d0,#51c4ca,#52c4c9,#58c9b8,#59c9b6,#64cd9f,#85ce74,#a7cb51,#acca4c,#a3cb54,#a9ca4f,#88ce71,#5ccab0)"></i><i style="background:linear-gradient(#59a5ed,#5aa3ee,#59a5ed,#56a9eb,#57a7ec,#54ade8,#54ade7,#53afe6,#51b3e3,#50b5e0,#50b6df,#4fbbda,#4fbcd8,#4fbfd2,#50c2ce,#52c5c7,#56c7c1,#5bcab1,#5dcbae,#68cd99,#67cd9b,#6cce93,#74ce8a,#74cf89,#67cd9b,#57c8bc)"></i><i style="background:linear-gradient(#57a8eb,#57a8eb,#55abe9,#55ace8,#53afe6,#53afe6,#52b1e5,#51b4e2,#51b3e2,#4fb8dd,#4fb9dc,#4fbbd8,#4fbfd2,#51c3cc,#52c5c7,#53c6c6,#57c9bb,#5acab4,#5ecbac,#61cca5,#6cce94,#83cf77,#82cf77,#71ce8d,#67cd9b,#5dcbae)"></i><i style="background:linear-gradient(#5aa3ee,#5c9ff0,#58a5ed,#58a5ed,#58a6ec,#56aaea,#56aaea,#52b2e3,#52b2e3,#51b4e1,#50b7de,#50b7de,#4fbed5,#4fc1d0,#4fbfd3,#50c2cd,#59c9b7,#5bcab3,#5fcba8,#5dcbad,#6dce93,#68cd99,#75cf88,#6cce94,#5acab3,#58c9b9)"></i><i style="background:linear-gradient(#55abe9,#56aae9,#53aee7,#54aee7,#53aee6,#53afe6,#51b3e2,#50b5e1,#50b7df,#4fb8de,#4fbadb,#4fc0d2,#4fbfd4,#4fc1d0,#52c4c9,#53c5c7,#59c9b7,#59c9b6,#5dcbae,#6fce90,#5fcca8,#6dce92,#68cd99,#6ece90,#64cda0,#54c6c5)"></i><i style="background:linear-gradient(#55ace9,#55ace8,#53b0e5,#53aee7,#53b0e5,#52b2e3,#50b7de,#50b7df,#4fbadb,#4fbada,#4fbada,#4fbed4,#50c1cf,#50c3cc,#52c4c9,#54c6c5,#58c9b9,#63cda1,#61cca5,#68cd9a,#6ece91,#78cf84,#75cf88,#81cf79,#63cca2,#5ecbac)"></i><i style="background:linear-gradient(#4fb8dd,#4fb9dc,#4fb9db,#4fb8de,#4fbcd7,#4fbbd9,#4fbdd6,#4fbed4,#4fc1d0,#51c3cb,#51c3cb,#53c6c6,#55c7c3,#58c9ba,#57c9bb,#5acab4,#66cd9d,#67cd9b,#6fce8f,#7ecf7d,#a1cc57,#9ccc5c,#a9ca4f,#96cd62,#89ce70,#62cca3)"></i><i style="background:linear-gradient(#4fbcd8,#4fc0d2,#4fbdd7,#4fc0d2,#4fc0d1,#4fc0d2,#50c1cf,#51c3cb,#51c3cc,#52c5c8,#53c6c5,#55c7c2,#57c8bc,#57c8bc,#58c9b9,#5dcbad,#60cca6,#6ece91,#77cf86,#90ce68,#97cd61,#a3cb55,#9ecc5a,#a4cb54,#83ce76,#60cca7)"></i><i style="background:linear-gradient(#50b6df,#4fb8dd,#4fb8dd,#4fbcd8,#4fb8dd,#4fbbd9,#4fb9db,#4fbdd6,#4fbed4,#50c2cd,#51c3cc,#52c4c9,#55c7c3,#55c7c2,#58c9b9,#58c9ba,#62cca3,#61cca5,#65cd9e,#72ce8c,#7fcf7b,#79cf83,#76cf86,#81cf78,#71ce8d,#66cd9d)"></i><i style="background:linear-gradient(#53b0e5,#51b4e2,#52b1e4,#50b7de,#4fb8dd,#4fb8dd,#4fb9dc,#4fbbd9,#4fbdd6,#4fbfd3,#4fc1d0,#50c2ce,#51c4ca,#51c4ca,#56c8bf,#58c9b8,#5fcbaa,#64cd9f,#70ce8e,#7ccf7e,#8ece6a,#b1c947,#abca4d,#b2c947,#8dce6b,#60cca8)"></i><i style="background:linear-gradient(#54aee7,#54aee7,#53afe6,#53b0e5,#52b2e3,#52b1e4,#52b2e3,#50b5e0,#4fb9dc,#4fbcd7,#4fbdd6,#4fbfd3,#50c2cf,#51c3cb,#53c5c7,#56c8bf,#5bcab2,#5ecbab,#69cd98,#84ce75,#94cd63,#a1cc57,#a9ca4f,#b6c844,#77cf85,#61cca5)"></i><i style="background:linear-gradient(#52b2e4,#51b2e3,#51b3e2,#51b3e2,#50b7de,#50b6df,#4fb9dc,#4fbbd9,#4fbbd9,#4fbdd7,#4fbfd3,#51c4ca,#52c4c9,#53c6c6,#56c8c0,#56c8bf,#56c8bf,#66cd9d,#62cca4,#76cf86,#73ce8a,#70ce8e,#8ace6f,#7fcf7b,#68cd99,#58c9b9)"></i><i style="background:linear-gradient(#4fbcd8,#4fbbd9,#4fbdd6,#4fbdd6,#4fbcd8,#4fbfd3,#4fc0d2,#50c1cf,#50c2cf,#51c3cc,#53c5c7,#56c7c1,#55c7c2,#58c9ba,#58c9ba,#5ccab0,#5ccab0,#69ce98,#6ace96,#81cf79,#8ece6a,#8fce69,#94cd64,#96cd62,#7fcf7b,#5ecbab)"></i><i style="background:linear-gradient(#60cca7,#64cda0,#61cca6,#60cca7,#5fcbaa,#64cda0,#62cca3,#66cd9d,#6bce95,#6cce94,#70ce8f,#6dce93,#6fce90,#74cf89,#7acf82,#7bcf80,#7ccf7f,#88ce70,#8ece6a,#a6cb52,#bcc63f,#efbf3a,#e5bf37,#ebbe39,#bbc740,#71ce8d)"></i><i style="background:linear-gradient(#5fcba9,#5ccab1,#5dcbae,#5fcbaa,#5fcbaa,#5fcbaa,#5ecbaa,#63cda1,#64cda0,#61cca6,#63cda1,#6fce90,#66cd9c,#69cd99,#6cce93,#6fce90,#75cf88,#8cce6d,#92cd66,#b9c741,#bdc63f,#d9c035,#e0bf36,#d3c135,#bac740,#60cca8)"></i><i style="background:linear-gradient(#56c8bf,#57c8bd,#57c9bb,#58c9ba,#57c8bc,#5bcab2,#5bcab1,#59c9b7,#5bcab1,#5ecbac,#5ecbab,#5fcba9,#60cca8,#62cca4,#6ace96,#67cd9a,#70ce8e,#81cf79,#83ce76,#91ce67,#82cf78,#9acd5e,#b7c843,#94cd64,#94cd64,#69ce98)"></i><i style="background:linear-gradient(#4fbdd6,#4fbfd3,#4fbfd2,#4fc0d2,#4fc0d2,#50c2ce,#50c2ce,#52c4c9,#51c4ca,#54c6c5,#52c4c9,#57c8bc,#56c8be,#57c9bb,#59cab5,#5ecbac,#5bcab1,#60cca7,#70ce8e,#74cf89,#79cf82,#78cf84,#90ce68,#97cd61,#62cca3,#5fcbaa)"></i><i style="background:linear-gradient(#4fbcd8,#4fbbd9,#4fbdd6,#4fbfd3,#4fc0d2,#4fbed5,#4fc1cf,#50c3cc,#4fc1d0,#52c5c8,#54c6c4,#54c6c4,#57c8bd,#56c8be,#59c9b6,#5acab4,#61cca5,#66cd9d,#65cd9f,#70ce8f,#6dce93,#6ace96,#64cda0,#66cd9c,#61cca6,#55c7c3)"></i><i style="background:linear-gradient(#4fbadb,#4fbdd6,#4fbdd6,#4fbed4,#4fc0d1,#50c1cf,#51c3cc,#4fc0d1,#51c3cc,#53c5c7,#55c7c2,#56c7c2,#56c7c1,#58c9b8,#5acab3,#5ccab1,#61cca6,#61cca5,#70ce8e,#91ce67,#9bcc5c,#9ccc5b,#9ccc5c,#b4c845,#82cf78,#63cda1)"></i><i style="background:linear-gradient(#51b3e3,#50b5e0,#51b4e1,#50b5e1,#50b7df,#4fb8dd,#4fbadb,#4fbbd9,#4fbed5,#4fc0d2,#50c2cf,#50c2cd,#53c6c6,#54c6c5,#55c7c2,#58c9ba,#5ccbaf,#65cd9e,#76cf87,#7ccf7f,#8dce6b,#b9c741,#c4c53a,#bdc63e,#84ce75,#5fcba9)"></i><i style="background:linear-gradient(#4fb9dc,#4fbada,#4fbada,#4fbbd9,#4fbed5,#4fbed5,#4fbed4,#4fbed5,#50c2ce,#50c3cc,#51c4ca,#53c5c7,#53c6c5,#57c9ba,#57c9bb,#5acab4,#68cd9a,#68cd9a,#79cf83,#8fce69,#96cd62,#bbc740,#bcc63f,#b8c742,#91ce67,#5ecbad)"></i><i style="background:linear-gradient(#52b2e3,#52b2e4,#50b5e1,#4fb7de,#51b4e2,#50b6df,#4fb9dc,#4fbbd9,#4fbdd7,#4fbfd3,#4fc0d2,#50c1cf,#51c4cb,#52c5c8,#56c7c2,#57c8bc,#5fcbaa,#5dcbae,#62cca4,#75cf87,#72ce8b,#69ce97,#79cf83,#8ece6a,#6dce93,#5ecbab)"></i><i style="background:linear-gradient(#5fcba9,#5ecbab,#5acab3,#5fcba9,#5ecbac,#61cca6,#60cca8,#63cda1,#65cd9e,#67cd9a,#68cd9a,#6dce93,#6ece91,#72ce8c,#6ece90,#6bce95,#70ce8e,#6ece91,#80cf7a,#77cf85,#7ecf7d,#66cd9d,#74cf89,#74cf89,#6dce93,#62cca3)"></i><i style="background:linear-gradient(#5dcbad,#5dcbae,#5ccab0,#5dcbae,#5fcbaa,#5dcbae,#62cca3,#62cca2,#62cca4,#66cd9d,#64cda1,#62cca4,#6fce90,#6dce92,#70ce8f,#6dce92,#7fcf7b,#84ce75,#7acf82,#74ce8a,#74ce89,#75cf87,#89ce70,#89ce70,#74cf89,#60cca6)"></i><i style="background:linear-gradient(#4fbed4,#4fbfd3,#4fbdd6,#4fc0d1,#52c4c9,#51c3cc,#52c5c7,#51c4ca,#53c5c7,#55c7c3,#54c6c4,#57c8bc,#59cab6,#58c9b8,#5ecbab,#5ecbab,#5ccab1,#63cda1,#8ece6a,#7dcf7d,#a6cb52,#b6c843,#97cd60,#aec94a,#76cf86,#69ce98)"></i><i style="background:linear-gradient(#52b0e5,#52b1e5,#52b1e4,#52b1e5,#51b2e3,#50b7df,#50b5e0,#4fbadb,#4fb9db,#4fbcd8,#4fbed5,#4fc0d2,#50c2cf,#56c8c0,#55c7c2,#57c9bb,#5fcbaa,#61cca5,#6bce95,#81cf79,#7fcf7b,#94cd64,#adca4b,#a4cb54,#85ce74,#5ecbac)"></i><i style="background:linear-gradient(#5ba1ef,#5ba0ef,#59a3ee,#59a4ed,#58a6ec,#55abe9,#55abe9,#54ade8,#54aee7,#52b2e4,#50b5e0,#4fb9dc,#4fbcd8,#4fbed4,#50c1cf,#51c4cb,#5dcbae,#5ecbac,#74cf89,#75cf87,#95cd63,#b6c843,#a9ca4f,#adca4c,#7fcf7b,#66cd9c)"></i><i style="background:linear-gradient(#58a6ec,#58a7ec,#58a6ec,#55ace9,#56a9ea,#53b0e5,#53afe6,#50b5e1,#52b2e3,#50b7df,#4fb9dc,#4fbcd8,#4fbfd2,#4fbed4,#51c3cb,#52c4c9,#56c7c1,#59c9b7,#61cca5,#69ce98,#6bce94,#66cd9d,#63cda1,#6fce90,#58c9ba,#56c8be)"></i><i style="background:linear-gradient(#5ba1ef,#5d9cf1,#5aa2ee,#59a4ed,#59a4ed,#56a9eb,#55abe9,#54aee7,#52b1e4,#53b0e6,#52b1e4,#50b7de,#4fb9db,#4fbfd4,#4fc0d1,#51c3cc,#54c6c5,#59cab6,#56c8be,#6bce95,#72ce8c,#80cf7b,#7bcf80,#74cf89,#5bcab2,#57c9bb)"></i><i style="background:linear-gradient(#56a9eb,#55abe9,#53afe6,#55ace9,#55abe9,#53b0e5,#52b1e5,#51b3e3,#50b6df,#4fb8dc,#4fbadb,#4fbed5,#4fbfd3,#50c2cd,#52c4c9,#53c5c6,#56c8bf,#5ccab0,#63cda1,#66cd9d,#69ce98,#5fcba9,#63cda1,#64cda0,#5bcab1,#54c6c4)"></i><i style="background:linear-gradient(#5d9df1,#5ca0f0,#5aa2ee,#59a4ed,#59a4ed,#57a8eb,#57a7ec,#57a8eb,#54ace8,#52b2e4,#51b3e2,#50b6df,#4fbada,#4fbfd3,#4fc0d1,#52c5c8,#56c8bf,#5acab4,#75cf88,#7acf81,#97cd61,#b1c948,#8ace6e,#8fce6a,#83cf77,#5bcab2)"></i><i style="background:linear-gradient(#5c9ef0,#5c9ff0,#5aa2ef,#5aa3ee,#57a8eb,#56a9eb,#55ace9,#54ade8,#53afe6,#51b3e3,#50b6df,#50b7df,#4fbcd8,#4fbfd3,#50c1cf,#51c3cb,#53c6c6,#5acab3,#5bcab1,#7acf81,#84ce75,#8ece6b,#8dce6c,#92cd65,#81cf79,#61cca5)"></i><i style="background:linear-gradient(#4fbfd4,#4fc1d0,#4fc0d2,#51c3cb,#51c3cb,#51c4ca,#50c3cc,#55c7c2,#52c5c7,#56c8bf,#56c7c2,#58c9b9,#59c9b6,#5bcab1,#5dcbaf,#60cca6,#66cd9d,#72ce8c,#89ce70,#7ccf7f,#90ce68,#abca4d,#a4cb54,#a6cb52,#8ace6e,#68cd99)"></i><i style="background:linear-gradient(#53c5c7,#55c7c2,#53c6c6,#56c8c0,#54c6c4,#55c7c2,#57c8bc,#58c9ba,#58c9ba,#59c9b7,#5acab4,#5ecbab,#5ecbab,#5dcbae,#60cca6,#67cd9b,#6bce95,#6ace97,#77cf86,#73ce8a,#71ce8d,#75cf87,#8ace6f,#70ce8e,#63cca2,#61cca5)"></i><i style="background:linear-gradient(#4fbed5,#4fbdd6,#4fbfd3,#4fbed4,#4fbfd3,#50c1cf,#50c1cf,#50c3cc,#53c5c6,#51c3cb,#54c6c4,#57c8bc,#56c8bf,#57c9bb,#5bcab2,#5acab5,#63cca2,#61cca4,#66cd9c,#7ccf7f,#65cd9e,#71ce8d,#69ce98,#79cf83,#61cca5,#5ecbab)"></i><i style="background:linear-gradient(#50b5e1,#4fb9dc,#4fb8dd,#4fb9dc,#4fbbd9,#4fbbda,#4fbdd6,#4fbdd6,#4fbed5,#4fc0d2,#50c2cd,#52c4c9,#52c5c8,#57c8bd,#59c9b7,#5acab3,#5fcca8,#68cd9a,#72ce8c,#97cd60,#99cd5e,#bbc740,#d0c236,#cbc337,#95cd63,#6ece91)"></i><i style="background:linear-gradient(#55abe9,#54ade7,#53afe6,#54aee7,#52b1e4,#52b2e3,#50b6df,#50b6df,#4fb9dc,#4fbada,#4fbbda,#4fbfd3,#4fc0d1,#50c1cf,#53c5c7,#55c7c3,#52c4c9,#5fcca8,#60cca8,#60cca7,#6bce95,#79cf83,#6bce95,#74cf89,#64cda0,#56c8c0)"></i><i style="background:linear-gradient(#53afe6,#54ade8,#52b0e5,#51b4e1,#50b5e1,#4fb8dd,#4fbadb,#4fbadb,#4fb9dc,#4fbcd8,#4fbcd8,#51c3cc,#51c4ca,#53c6c6,#55c7c2,#57c8be,#63cca2,#5fcba9,#7acf81,#6ece91,#77cf85,#78cf84,#7acf81,#8dce6c,#63cca2,#58c9b8)"></i><i style="background:linear-gradient(#57a7eb,#56a9ea,#55abe9,#56aaea,#54aee7,#54ade8,#52b0e5,#52b1e4,#50b5e0,#4fb7de,#4fb9db,#4fbcd7,#4fbed4,#4fc1d0,#51c3cc,#55c7c2,#56c8be,#5bcab2,#5fcba9,#70ce8e,#99cd5e,#84ce76,#9bcc5d,#abca4d,#7bcf80,#5ecbab)"></i><i style="background:linear-gradient(#57a9eb,#57a7ec,#57a8eb,#55abe9,#55ace9,#53afe6,#54aee7,#51b4e2,#51b3e2,#4fb8dd,#4fb8dd,#4fbbd9,#4fbfd3,#51c3cc,#50c2cd,#53c6c6,#59c9b6,#61cca4,#72ce8b,#7acf82,#93cd65,#9acd5d,#b1c948,#9ecc5a,#6bce95,#57c9bb)"></i><i style="background:linear-gradient(#59a4ed,#57a8eb,#58a6ec,#56aaea,#55ace8,#55abe9,#53afe6,#53b0e5,#51b2e3,#50b5e0,#4fb8dc,#4fbcd8,#4fbcd8,#50c2ce,#50c2cd,#52c5c8,#55c7c3,#5ecbad,#67cd9c,#7ecf7d,#81cf79,#8bce6d,#b4c845,#87ce72,#7ccf7f,#65cd9e)"></i><i style="background:linear-gradient(#5aa1ef,#5aa2ee,#58a5ed,#57a9eb,#57a7eb,#56a9ea,#55abe9,#54ade8,#52b1e4,#51b3e3,#50b5e0,#4fbada,#4fbdd7,#4fbed5,#50c2ce,#51c3cb,#58c9ba,#5acab3,#62cca4,#68cd9a,#65cd9f,#78cf85,#6dce92,#61cca4,#60cca7,#60cca7)"></i><i style="background:linear-gradient(#58a6ec,#59a5ed,#57a8eb,#58a7ec,#55ace9,#55abe9,#54ade8,#52b0e5,#52b2e3,#50b5e0,#50b5e1,#4fb8dd,#4fbcd7,#4fc0d2,#50c2ce,#53c5c7,#57c9bb,#5acab4,#64cd9f,#7bcf80,#78cf84,#95cd63,#8fce69,#81cf79,#72ce8c,#56c7c0)"></i><i style="background:linear-gradient(#53b0e5,#53b0e5,#53b0e5,#53b0e5,#51b3e3,#50b5e0,#4fb8dd,#4fbadb,#4fb9dc,#4fbcd8,#4fbbda,#4fc1cf,#4fc1cf,#52c5c8,#53c5c7,#57c8bc,#5ecbab,#62cca4,#70ce8e,#7fcf7b,#acca4d,#c0c63c,#bcc63f,#bfc63d,#8dce6c,#63cda1)"></i><i style="background:linear-gradient(#53b0e5,#51b2e3,#52b2e3,#50b5e1,#51b4e1,#50b5e0,#50b6df,#4fb9dc,#4fb9db,#4fbbd9,#4fc0d1,#4fc1cf,#51c4ca,#52c5c8,#56c8bf,#57c8bc,#5ecbac,#62cca3,#73ce8a,#b2c947,#c7c438,#d7c135,#ccc336,#dac035,#b1c947,#67cd9c)"></i><i style="background:linear-gradient(#50b7de,#4fb7de,#50b6df,#4fbada,#4fbada,#4fbada,#4fbcd7,#4fbcd8,#4fc1d0,#4fc1d0,#51c4ca,#52c5c8,#53c5c6,#56c8bf,#58c9b9,#5bcab2,#5ecbab,#69ce97,#68cd99,#94cd64,#a0cc57,#bbc740,#c3c53a,#d2c235,#aec94b,#64cda0)"></i><i style="background:linear-gradient(#52b2e4,#52b0e5,#51b3e3,#51b3e3,#50b6df,#50b5e0,#50b6df,#4fbbd9,#4fbada,#4fbfd4,#4fc0d2,#4fbfd3,#50c3cc,#53c5c7,#56c8bf,#56c7c2,#57c9bb,#69ce97,#6ece91,#6cce94,#a3cb55,#82cf78,#89ce70,#96cd62,#6dce92,#57c9bb)"></i><i style="background:linear-gradient(#54ace8,#54ade7,#52b1e4,#52b1e5,#52b2e3,#52b2e3,#50b5e0,#50b6df,#4fbadb,#4fbdd7,#4fbcd7,#4fbed5,#50c2cd,#51c3cb,#53c5c7,#55c7c3,#5acab4,#64cda0,#63cda1,#74cf89,#7fcf7b,#7bcf80,#87ce72,#8cce6d,#63cda1,#5bcab1)"></i><i style="background:linear-gradient(#53afe6,#53afe6,#52b1e4,#52b2e3,#53afe6,#51b4e1,#4fb9dc,#50b7de,#4fbada,#4fbdd6,#4fbed5,#50c2ce,#50c3cd,#52c5c8,#52c5c7,#56c7c1,#60cca7,#5ccbaf,#67cd9b,#68cd99,#71ce8d,#86ce73,#78cf84,#73ce8a,#7dcf7d,#56c8bf)"></i><i style="background:linear-gradient(#4fb9dc,#51b4e1,#4fb9db,#4fbcd8,#4fbcd7,#4fbdd6,#4fbdd6,#4fbfd4,#4fc1d0,#51c3cb,#50c2ce,#54c6c5,#56c8c0,#58c9b9,#59c9b7,#58c9b8,#58c9b9,#61cca5,#61cca6,#75cf87,#6bce95,#6cce94,#75cf87,#6dce92,#68cd9a,#59cab6)"></i><i style="background:linear-gradient(#50b5e1,#51b3e2,#51b4e1,#50b6df,#4fb8dd,#4fb8dd,#4fbdd7,#4fbada,#4fbdd6,#4fc0d2,#4fc1d0,#51c4ca,#51c4ca,#53c5c7,#55c7c2,#58c9b8,#59c9b6,#5fcbaa,#6cce94,#73ce8a,#7ecf7d,#9ccc5c,#80cf7a,#88ce71,#80cf7a,#61cca6)"></i><i style="background:linear-gradient(#54aee7,#52b2e4,#51b3e3,#51b4e2,#52b1e4,#51b4e1,#50b6df,#4fb9dc,#4fb8dd,#4fbbda,#4fbed5,#4fbfd3,#52c5c8,#52c4c8,#56c8c0,#56c8bf,#58c9b8,#64cd9f,#6ece91,#70ce8f,#94cd64,#9acd5e,#a9ca50,#a3cb55,#74cf89,#61cca5)"></i><i style="background:linear-gradient(#4fb9dc,#4fb9db,#4fbada,#50b7de,#4fbbd9,#4fbdd6,#4fbdd6,#4fbdd6,#4fc0d2,#50c2cd,#51c3cc,#52c5c8,#56c8bf,#56c8be,#59c9b7,#5acab3,#68cd9a,#69ce98,#70ce8f,#92cd66,#abca4d,#a5cb53,#9ecc5a,#b3c846,#7acf81,#63cca2)"></i><i style="background:linear-gradient(#52b0e5,#51b4e2,#51b4e2,#50b6df,#51b4e1,#4fb9db,#4fb8dd,#4fbbda,#4fbcd8,#4fbed5,#4fbdd6,#51c4ca,#50c2cd,#55c7c3,#54c6c5,#56c7c1,#59c9b6,#5fcba9,#5fcba8,#68cd9a,#79cf82,#70ce8f,#78cf84,#7ccf7f,#6ece91,#55c7c3)"></i><i style="background:linear-gradient(#5f99f2,#6098f2,#5c9ef0,#5e9bf1,#5c9ff0,#5c9ef0,#58a6ec,#57a7ec,#55abe9,#55ace8,#53afe6,#52b2e3,#4fb8dd,#4fb8dd,#4fc0d2,#4fc1d0,#53c6c6,#55c7c4,#5bcab3,#64cd9f,#87ce72,#8ece6a,#6cce94,#8ece6a,#61cca6,#59cab5)"></i><i style="background:linear-gradient(#5d9df1,#5d9df1,#5c9ff0,#5ba0ef,#5aa3ee,#59a3ee,#57a8eb,#57a8eb,#56abe9,#52b2e4,#52b2e4,#50b7de,#4fb8dd,#4fbbd9,#4fc0d1,#4fc0d1,#52c4c9,#5fcbaa,#5ecbac,#72ce8c,#7ecf7d,#8fce6a,#a9ca4f,#b7c843,#80cf7a,#57c9bb)"></i><i style="background:linear-gradient(#6195f3,#6097f2,#6097f2,#5f99f2,#5d9df0,#5c9ef0,#5aa2ee,#59a4ee,#57a7eb,#55ace9,#53afe6,#52b2e4,#51b4e1,#4fbadb,#4fbed5,#4fc0d2,#52c4c9,#56c8c0,#5acab3,#60cca7,#72ce8b,#67cd9b,#67cd9b,#7bcf81,#5ecbab,#56c7c1)"></i><i style="background:linear-gradient(#658df3,#658cf3,#6391f3,#6294f3,#6195f3,#5f9af2,#5f99f2,#5ca0f0,#5ba0ef,#59a5ed,#57a7ec,#54ade8,#51b3e3,#4fb8dd,#4fbbd9,#4fbed4,#4fc1d0,#57c8bd,#5fcbaa,#76cf86,#94cd64,#90ce68,#93cd65,#99cd5f,#7acf81,#5fcbaa)"></i><i style="background:linear-gradient(#668af3,#6390f3,#6292f3,#6096f2,#6097f2,#6096f2,#5e9bf1,#5c9ef0,#5ba1ef,#58a6ec,#55abe9,#53aee7,#51b3e2,#4fb7de,#4fb8dc,#4fbed5,#52c4c9,#58c9ba,#67cd9b,#60cca6,#79cf83,#a3cb55,#a3cb55,#97cd61,#75cf88,#5dcbae)"></i><i style="background:linear-gradient(#4fbbda,#4fb8dd,#4fbadb,#4fbbd9,#4fbcd7,#4fbcd7,#4fbed5,#50c2ce,#4fc1d0,#4fc1cf,#51c4ca,#53c5c7,#56c7c1,#56c8bf,#58c9ba,#59c9b7,#5acab3,#5fcbaa,#6bce95,#75cf88,#79cf83,#71ce8d,#a3cb54,#83cf77,#61cca6,#59cab5)"></i><i style="background:linear-gradient(#4fb9dc,#51b4e2,#4fb8dd,#4fb8dd,#4fbada,#4fbadb,#4fbcd8,#4fbcd7,#4fbed5,#4fc0d1,#4fc1d0,#50c2ce,#54c6c5,#55c7c3,#56c7c1,#59c9b6,#5dcbae,#68cd99,#76cf87,#82cf78,#aec94a,#a0cc57,#b1c948,#a7cb51,#89ce6f,#65cd9f)"></i><i style="background:linear-gradient(#52b1e4,#51b2e3,#51b2e3,#50b6e0,#4fb8dd,#50b5e0,#4fbada,#4fbcd8,#4fbbd9,#4fbcd7,#4fbed5,#4fbed5,#50c3cc,#51c4ca,#54c6c4,#57c8bc,#57c8bc,#65cd9f,#6fce90,#8bce6d,#99cd5f,#a5cb53,#aaca4e,#b4c845,#91ce67,#66cd9d)"></i><i style="background:linear-gradient(#54aee7,#53afe6,#52b0e5,#51b3e3,#50b5e1,#52b2e3,#50b6df,#50b6df,#4fb9dc,#4fbbda,#4fbcd8,#4fbfd3,#4fc1d0,#53c6c6,#54c6c4,#56c8bf,#5bcab1,#5ccab0,#6ace97,#76cf87,#71ce8d,#80cf7b,#72ce8c,#6fce8f,#6dce92,#61cca5)"></i><i style="background:linear-gradient(#50b6e0,#4fb7de,#50b7de,#4fb8dd,#4fb9db,#4fbada,#4fbdd6,#4fbed5,#4fbfd3,#4fc0d1,#50c3cd,#52c4c9,#56c7c0,#56c7c2,#58c9ba,#59c9b6,#58c9b9,#63cca2,#5dcbad,#7ecf7d,#71ce8d,#76cf86,#6ece90,#72ce8c,#5ecbab,#58c9b9)"></i><i style="background:linear-gradient(#4fbada,#4fb9dc,#4fb9db,#4fbdd6,#4fbcd8,#4fbed5,#4fbed5,#4fc1d0,#50c2ce,#51c4ca,#52c4c9,#53c6c5,#56c7c1,#56c8be,#5acab4,#5bcab2,#59cab5,#5acab3,#64cd9f,#65cd9e,#79cf83,#79cf83,#74cf89,#6bce94,#63cda1,#59cab5)"></i><i style="background:linear-gradient(#4fb8de,#4fbbd9,#4fb8dd,#4fb9db,#4fbcd7,#4fb9db,#4fbdd7,#4fbfd3,#4fc0d1,#4fc1cf,#50c3cc,#54c6c4,#53c6c5,#57c8bd,#59c9b8,#59cab6,#60cca7,#5acab4,#6bce96,#6dce92,#70ce8e,#84ce76,#77cf86,#76cf86,#66cd9d,#53c5c6)"></i><i style="background:linear-gradient(#4fbfd2,#4fc1d0,#4fc0d2,#4fc0d2,#50c3cc,#51c3cc,#50c2cd,#55c7c3,#52c5c8,#56c8bf,#56c7c1,#58c9ba,#5acab4,#59c9b7,#5bcab2,#5ecbac,#5acab3,#69ce98,#70ce8e,#7acf82,#66cd9d,#6dce92,#6fce8f,#6dce92,#67cd9a,#63cda1)"></i><i style="background:linear-gradient(#4fbed5,#4fc1cf,#4fbed5,#4fbdd6,#4fbed5,#4fc1d0,#50c1cf,#51c4c9,#51c4cb,#54c6c5,#55c7c4,#56c8c0,#59c9b8,#58c9b9,#59cab5,#5acab4,#61cca5,#68cd99,#75cf88,#72ce8c,#7acf81,#85ce74,#89ce70,#74ce8a,#76cf87,#5bcab1)"></i><i style="background:linear-gradient(#51c3cb,#50c2ce,#51c3cc,#51c4cb,#52c5c8,#54c6c5,#54c6c5,#54c6c5,#55c7c4,#57c8bc,#56c8be,#59cab5,#5ccab0,#5fcbaa,#64cda0,#60cca7,#6dce93,#6ace96,#75cf89,#83ce76,#b9c741,#b8c742,#bec63e,#c6c439,#b6c844,#63cca2)"></i><i style="background:linear-gradient(#55c7c3,#56c7c1,#56c7c1,#58c9ba,#58c9ba,#58c9b8,#5acab5,#5bcab2,#5acab3,#5acab4,#5ecbab,#63cca2,#61cca5,#63cca2,#6ace97,#6ace96,#6fce90,#7acf82,#89ce70,#9acd5e,#d0c236,#cfc236,#e4bf37,#c1c53c,#a9ca4f,#6ace96)"></i><i style="background:linear-gradient(#4fc0d1,#4fbed5,#4fc0d2,#4fc0d1,#4fc1d0,#50c3cd,#50c3cc,#51c4ca,#51c4ca,#55c7c3,#56c8c0,#57c8be,#5acab5,#5acab4,#5acab3,#61cca6,#6ece91,#6cce94,#79cf83,#98cd5f,#c4c43a,#c0c53c,#cfc236,#b8c742,#9dcc5a,#63cca2)"></i><i style="background:linear-gradient(#58c9b8,#58c9ba,#59cab6,#5acab3,#59cab5,#5bcab2,#60cca7,#5bcab1,#5ecbac,#5fcba9,#61cca6,#65cd9e,#63cda1,#63cca2,#6dce93,#68cd99,#76cf87,#6fce90,#8fce69,#89ce70,#9bcd5d,#a5cb53,#a3cb55,#a1cc56,#82cf78,#62cca3)"></i><i style="background:linear-gradient(#61cca5,#5fcba9,#62cca3,#60cca7,#63cda1,#63cda1,#6ace96,#67cd9b,#66cd9c,#6cce93,#68cd9a,#6cce94,#6cce94,#6cce94,#75cf88,#78cf84,#95cd63,#83cf77,#93cd65,#a0cc58,#c2c53b,#bfc63d,#c9c337,#d7c135,#a3cb54,#7acf82)"></i><i style="background:linear-gradient(#53c5c7,#55c7c3,#55c7c2,#55c7c3,#54c6c4,#58c9ba,#57c8bd,#57c8bd,#59c9b6,#58c9b8,#59c9b7,#5dcbae,#5ecbab,#64cd9f,#63cca2,#65cd9e,#6ace96,#73ce8b,#89ce70,#afc94a,#adca4b,#d1c236,#c9c337,#c9c337,#aaca4e,#71ce8d)"></i><i style="background:linear-gradient(#52c4c9,#54c6c5,#55c7c3,#56c7c2,#59c9b7,#57c8bc,#58c9ba,#57c8bc,#59c9b7,#59cab5,#5acab5,#5ecbac,#5dcbae,#5fcba9,#6cce93,#64cda0,#74ce89,#80cf7a,#89ce6f,#9acd5d,#b1c947,#b9c741,#d9c035,#acca4c,#9fcc59,#6dce92)"></i><i style="background:linear-gradient(#51c4ca,#53c6c6,#52c4c9,#55c7c3,#53c5c7,#56c7c1,#56c8bf,#57c8bc,#59c9b7,#58c9ba,#5dcbae,#5dcbae,#5ecbac,#5fcbaa,#61cca5,#62cca4,#68cd9a,#63cda1,#66cd9c,#6ace96,#73ce8b,#7dcf7e,#74ce89,#7bcf80,#63cda1,#5bcab2)"></i><i style="background:linear-gradient(#53c6c6,#57c8be,#58c9ba,#56c8c0,#57c8bd,#57c9bb,#59c9b6,#59c9b7,#59c9b7,#5bcab2,#5ccaaf,#5fcbaa,#61cca5,#63cca2,#67cd9b,#67cd9c,#68cd99,#73ce8b,#73ce8a,#71ce8d,#7bcf80,#84ce75,#8ece6b,#7acf82,#78cf84,#62cca3)"></i><i style="background:linear-gradient(#4fb9dc,#4fbdd6,#4fbbd9,#4fbbd9,#4fc0d2,#4fbed5,#4fc1d0,#4fc0d1,#50c1cf,#50c2ce,#51c4ca,#54c6c4,#56c7c1,#5bcab2,#59c9b7,#5dcbae,#59c9b7,#72ce8c,#8ece6a,#85ce75,#9bcd5d,#d0c236,#cac337,#abca4d,#9dcc5b,#63cda1)"></i><i style="background:linear-gradient(#55abe9,#55abe9,#53afe6,#53afe6,#51b3e2,#51b3e2,#51b3e3,#50b6df,#50b7de,#4fbadb,#4fb9db,#4fbed5,#4fc0d2,#50c2ce,#53c5c7,#56c8bf,#62cca2,#64cda0,#69ce98,#76cf86,#8bce6d,#b9c742,#a6cb52,#99cd5f,#74cf89,#59c9b6)"></i><i style="background:linear-gradient(#51b3e2,#50b5e0,#50b6df,#50b6df,#50b7de,#50b7de,#4fb9dc,#4fbcd7,#4fc0d2,#4fc0d2,#4fc1d0,#4fc1d0,#52c5c8,#55c7c3,#56c7c2,#58c9b9,#60cca7,#6ace96,#6bce95,#81cf79,#89ce70,#9fcc59,#b9c741,#9ecc5a,#8ace6f,#63cca2)"></i><i style="background:linear-gradient(#54aee7,#52b0e5,#53afe6,#50b5e1,#51b4e1,#51b4e2,#50b7de,#4fbadb,#4fbed4,#4fbada,#4fbed4,#4fc0d1,#4fc0d1,#52c4c9,#54c6c5,#56c8be,#58c9b9,#5ccab0,#66cd9c,#73ce8a,#6ace96,#69ce98,#80cf7a,#76cf87,#5ecbab,#56c7c1)"></i><i style="background:linear-gradient(#4fbada,#4fbadb,#4fbcd8,#4fbdd6,#4fc0d1,#4fbdd6,#4fbfd3,#4fc0d2,#4fc1cf,#51c4ca,#54c6c5,#55c7c2,#56c8c0,#57c8bd,#58c9b9,#5ccbaf,#5dcbae,#63cca2,#63cca2,#74cf89,#7fcf7b,#95cd63,#74ce89,#86ce73,#6ace97,#61cca4)"></i><i style="background:linear-gradient(#4fbbda,#4fbbd9,#4fbbd9,#4fbfd4,#4fbed5,#4fbed4,#4fbfd3,#4fc1d0,#51c3cc,#52c5c7,#51c4ca,#56c8c0,#56c8be,#57c9ba,#5acab4,#5ccab0,#61cca5,#6ace97,#5dcbad,#78cf84,#7ccf7f,#8fce6a,#7ecf7d,#86ce73,#77cf85,#5ecbac)"></i><i style="background:linear-gradient(#4fbfd4,#4fc0d2,#4fc0d1,#4fc0d2,#52c4c9,#51c3cb,#52c4c9,#52c4c9,#54c6c5,#54c6c5,#55c7c2,#57c9bb,#5acab4,#5ccab0,#5dcbae,#5fcca8,#65cd9d,#68cd99,#6ace96,#6fce8f,#7acf82,#85ce74,#88ce71,#89ce6f,#6ece91,#59cab5)"></i><i style="background:linear-gradient(#51c3cc,#52c5c8,#52c5c8,#53c5c7,#52c5c8,#54c6c4,#52c5c7,#54c6c5,#56c7c1,#57c9bb,#57c9bb,#57c9bb,#59cab5,#60cca7,#5fcba9,#60cca7,#63cca2,#7dcf7e,#7ecf7c,#8ece6a,#9ccc5c,#9fcc59,#99cd5f,#91ce67,#89ce6f,#61cca5)"></i><i style="background:linear-gradient(#4fb9dc,#4fbbd9,#4fbbd9,#4fbed5,#4fbfd3,#4fbdd6,#4fc1d0,#50c2ce,#51c3cb,#53c6c6,#54c6c4,#54c6c4,#53c6c5,#57c8bc,#5acab4,#5acab4,#5fcbaa,#73ce8a,#89ce70,#89ce70,#adca4b,#cdc236,#c7c438,#b9c741,#a1cc57,#6bce96)"></i><i style="background:linear-gradient(#55ace9,#53b0e5,#52b0e5,#51b4e1,#51b3e3,#50b5e1,#50b7de,#50b7de,#4fbcd7,#4fbada,#4fbed5,#4fc0d1,#4fc0d1,#53c6c6,#54c6c4,#56c7c2,#5ecbad,#6ace96,#7ccf7f,#85ce74,#b3c846,#dbc035,#c0c53c,#adca4c,#b3c846,#5fcca8)"></i><i style="background:linear-gradient(#55ace9,#54ade7,#53afe6,#52b2e4,#52b2e4,#51b3e2,#4fb9dc,#4fbadb,#4fbbd9,#4fbcd8,#4fbdd6,#4fbfd3,#50c2cf,#51c3cb,#52c5c8,#56c8c0,#60cca7,#5acab4,#63cca2,#7acf81,#9ccc5c,#9bcd5d,#9acd5e,#82cf78,#7dcf7e,#5bcab3)"></i><i style="background:linear-gradient(#58a5ed,#58a5ed,#57a7ec,#57a9eb,#56a9ea,#54ade8,#54aee7,#52b0e5,#51b4e2,#51b4e2,#50b7df,#4fbada,#4fbed5,#50c3cc,#4fc1cf,#53c5c7,#56c8be,#5dcbad,#5acab5,#64cda0,#73ce8a,#6cce93,#78cf84,#76cf87,#63cda1,#5ecbab)"></i><i style="background:linear-gradient(#54aee7,#54ade7,#54ade8,#51b4e2,#53afe6,#51b3e2,#51b4e1,#4fb8dd,#4fb7de,#4fbdd6,#4fbada,#4fbfd3,#50c2ce,#50c2ce,#53c5c7,#56c7c1,#55c7c3,#5fcbaa,#5acab4,#6ece91,#69ce97,#6ece91,#6ece91,#6ace96,#5acab4,#56c7c1)"></i><i style="background:linear-gradient(#52b2e4,#51b3e2,#50b6df,#50b6df,#4fb9dc,#4fbada,#4fbcd8,#4fbcd8,#4fbed5,#4fbed5,#4fc0d1,#4fc0d1,#53c6c6,#54c6c4,#57c8bd,#58c9b9,#62cca3,#67cd9a,#6bce95,#84ce76,#8fce69,#a6cb52,#a8cb50,#94cd64,#7acf82,#57c9ba)"></i><i style="background:linear-gradient(#54aee7,#54ade7,#51b3e3,#52b2e3,#51b3e2,#50b5e0,#4fb8dd,#4fb9dc,#4fbada,#4fbdd7,#4fbdd6,#4fbfd4,#50c1cf,#53c5c7,#55c7c2,#56c8be,#54c6c4,#5ecbad,#6bce95,#60cca7,#66cd9c,#75cf88,#62cca4,#75cf87,#5ccab1,#57c9bb)"></i><i style="background:linear-gradient(#52b2e4,#51b2e3,#51b3e2,#50b5e1,#50b7de,#4fb8dd,#50b6e0,#4fbadb,#4fbcd8,#4fbfd2,#4fc0d1,#51c4ca,#50c3cc,#53c6c6,#56c7c1,#56c8be,#5ccbaf,#5ecbab,#65cd9e,#69ce98,#60cca7,#7ecf7d,#6fce90,#70ce8f,#65cd9f,#58c9ba)"></i><i style="background:linear-gradient(#4fbadb,#4fb9db,#4fbdd7,#4fbcd8,#4fbbd9,#4fbdd6,#4fbdd6,#50c1cf,#50c2cd,#50c3cc,#52c4c9,#54c6c5,#57c8bd,#57c8bc,#58c9b8,#5bcab1,#5fcba8,#62cca4,#65cd9e,#71ce8d,#75cf87,#86ce73,#7ccf7f,#83ce76,#6ace97,#5bcab2)"></i><i style="background:linear-gradient(#52c4c9,#50c3cc,#52c4c9,#52c4c9,#54c6c4,#53c6c6,#53c5c6,#55c7c3,#56c7c1,#57c8bd,#57c9bb,#5bcab1,#5bcab2,#60cca8,#60cca8,#62cca3,#65cd9f,#67cd9b,#85ce74,#8fce69,#b1c948,#cdc236,#acca4c,#bfc63d,#9ccc5c,#6ace96)"></i><i style="background:linear-gradient(#4fbed5,#4fbfd3,#4fbfd3,#4fc1d0,#50c2cd,#4fc0d1,#4fc1d0,#51c3cc,#52c4c9,#52c5c8,#54c6c5,#57c8bd,#57c9bb,#5acab4,#5bcab2,#5fcba9,#62cca3,#62cca4,#72ce8c,#89ce6f,#97cd61,#a1cc57,#b4c845,#b3c846,#96cd61,#62cca3)"></i><i style="background:linear-gradient(#4fbcd8,#4fb9dc,#4fbcd8,#4fbdd6,#4fbfd3,#4fbdd6,#4fc0d2,#50c1cf,#51c4ca,#52c4c9,#53c5c7,#54c6c4,#56c8c0,#58c9ba,#58c9b8,#5acab3,#5fcbaa,#5ecbab,#64cda0,#71ce8d,#86ce73,#86ce73,#83cf77,#76cf86,#67cd9b,#5ecbab)"></i><i style="background:linear-gradient(#4fb9dc,#4fbadb,#4fbbd9,#4fbdd6,#4fbdd7,#4fbed5,#4fbfd3,#4fc0d2,#4fc1d0,#4fc1d0,#51c4ca,#53c5c7,#54c6c5,#57c9bc,#59c9b6,#59c9b7,#61cca5,#6fce90,#6bce95,#74ce8a,#72ce8c,#79cf83,#76cf87,#93cd65,#64cd9f,#5fcba9)"></i><i style="background:linear-gradient(#52c4c9,#52c4c9,#52c5c8,#51c3cb,#53c5c6,#52c5c8,#52c5c8,#56c7c1,#56c8c0,#56c8be,#58c9b9,#59c9b6,#5bcab1,#5ecbaa,#5ecbab,#5fcba9,#6ace96,#6ace96,#6ace97,#65cd9e,#79cf82,#7ecf7d,#8cce6d,#72ce8b,#69ce98,#63cca2)"></i><i style="background:linear-gradient(#53c5c7,#53c6c6,#53c5c7,#53c6c6,#56c8be,#56c8be,#55c7c3,#58c9b9,#56c8be,#57c8bd,#5acab4,#5acab3,#5ecbac,#62cca3,#5fcba9,#61cca5,#68cd99,#64cd9f,#61cca4,#63cda1,#6fce90,#79cf82,#80cf7b,#85ce74,#68cd9a,#63cca2)"></i><i style="background:linear-gradient(#50c2ce,#4fc1cf,#50c2ce,#50c2ce,#52c5c8,#51c4ca,#52c5c8,#56c8c0,#56c7c1,#54c6c4,#57c8bd,#57c8bc,#58c9b8,#5dcbae,#5bcab2,#60cca8,#6bce95,#66cd9d,#71ce8d,#8fce69,#84ce76,#7acf82,#95cd62,#95cd62,#7bcf80,#61cca4)"></i><i style="background:linear-gradient(#50b7de,#50b6df,#4fb8dd,#4fb8dd,#4fb8dd,#4fbcd7,#4fbed5,#4fbed5,#4fbed5,#4fc0d2,#4fc1d0,#51c4cb,#53c5c6,#56c8bf,#57c8bc,#59cab6,#62cca3,#65cd9e,#73ce8a,#81cf79,#aaca4e,#cac337,#b0c948,#ccc336,#9ecc5a,#6ace96)"></i><i style="background:linear-gradient(#51b4e2,#50b6e0,#50b5e0,#50b6df,#4fb9db,#4fb9dc,#4fbcd8,#4fbed4,#4fbfd3,#4fc0d2,#4fc1d0,#52c4c9,#53c5c7,#55c7c3,#57c8bc,#5acab3,#60cca8,#6dce93,#79cf82,#78cf85,#b2c947,#b1c947,#cdc236,#b7c843,#7ccf7f,#62cca3)"></i><i style="background:linear-gradient(#51b4e2,#4fb8de,#50b6df,#50b6df,#4fb9dc,#4fb8dd,#4fbcd8,#4fbed4,#4fbdd6,#4fbfd3,#50c1cf,#51c3cb,#55c7c3,#54c6c5,#57c8bd,#5acab4,#6bce95,#65cd9e,#7bcf81,#8ece6a,#83cf77,#adca4b,#b7c843,#9fcc59,#85ce74,#65cd9f)"></i><i style="background:linear-gradient(#51b3e2,#51b2e3,#51b4e1,#50b6df,#50b7de,#4fb8dd,#4fbadb,#4fbbd9,#4fbfd4,#4fc0d1,#4fbdd6,#50c2ce,#51c4ca,#53c5c6,#56c7c1,#57c8bd,#60cca6,#5bcab2,#63cca2,#7acf82,#66cd9d,#71ce8e,#77cf86,#72ce8b,#71ce8d,#5dcbae)"></i><i style="background:linear-gradient(#53b0e6,#52b2e3,#50b5e1,#52b2e4,#4fb9db,#50b7de,#4fb9dc,#4fbbda,#4fbcd8,#4fbdd6,#4fc0d2,#4fc1d0,#50c2cd,#55c7c2,#54c6c5,#55c7c2,#57c8bc,#5fcbaa,#64cda0,#67cd9b,#7dcf7d,#6ace96,#80cf7a,#64cda0,#6ece92,#5dcbae)"></i><i style="background:linear-gradient(#54ade8,#55ace8,#54ace8,#53afe6,#53b0e5,#51b2e3,#50b5e1,#50b5e1,#50b7df,#4fbcd8,#4fbbd9,#4fbfd3,#51c3cc,#50c2ce,#51c4cb,#52c5c8,#56c7c2,#5ccab1,#61cca5,#6ace97,#60cca8,#78cf84,#76cf86,#6fce90,#5ecbac,#60cca6)"></i><i style="background:linear-gradient(#54ade8,#53b0e6,#52b1e4,#53b0e5,#53b0e5,#51b3e2,#50b5e0,#4fb8dd,#4fb8dd,#4fbbda,#4fbcd8,#4fbfd3,#4fc0d1,#51c4ca,#54c6c4,#56c7c2,#6bce94,#5fcba9,#67cd9b,#74ce8a,#95cd62,#b1c948,#92ce66,#95cd63,#87ce72,#56c7c1)"></i><i style="background:linear-gradient(#50b7de,#4fbadb,#4fbbda,#4fbcd8,#4fbbd9,#4fbdd7,#4fbfd4,#4fbfd4,#50c1cf,#50c1cf,#52c5c8,#50c3cc,#52c5c8,#56c8c0,#58c9ba,#59cab5,#60cca7,#61cca5,#65cd9e,#81cf79,#94cd63,#bdc63f,#aaca4e,#9dcc5b,#7ecf7c,#5ccab0)"></i><i style="background:linear-gradient(#50b7de,#50b7df,#4fb9db,#4fbcd7,#4fbed5,#4fbfd3,#4fbfd4,#4fc0d1,#4fc1cf,#51c3cc,#54c6c5,#53c5c7,#55c7c2,#56c8bf,#57c8bd,#5dcbae,#5ecbad,#62cca4,#71ce8c,#6ece92,#74ce8a,#7acf81,#84ce76,#6bce95,#5fcba9,#59c9b7)"></i><i style="background:linear-gradient(#4fb7de,#50b6df,#4fb8de,#4fb8dd,#4fbada,#4fbdd6,#4fbdd7,#4fbfd3,#4fbfd3,#50c1cf,#4fc1cf,#52c4c9,#55c7c2,#56c8be,#58c9ba,#58c9b9,#5fcbaa,#66cd9d,#72ce8c,#80cf7a,#98cd5f,#b4c845,#9acd5d,#b5c844,#88ce71,#5ecbad)"></i></div>
<svg width="685" height="403" viewBox="0 0 685 403"><defs><linearGradient id="cb" x1="0" y1="0" x2="0" y2="1"><stop offset="0.0000" stop-color="#f9fb15"/><stop offset="0.0500" stop-color="#f5e825"/><stop offset="0.1000" stop-color="#fad42e"/><stop offset="0.1500" stop-color="#fec13a"/><stop offset="0.2000" stop-color="#eaba31"/><stop offset="0.2500" stop-color="#c8c129"/><stop offset="0.3000" stop-color="#9fc942"/><stop offset="0.3500" stop-color="#71cd64"/><stop offset="0.4000" stop-color="#48cb86"/><stop offset="0.4500" stop-color="#2fc5a2"/><stop offset="0.5000" stop-color="#12beb9"/><stop offset="0.5500" stop-color="#05b6ce"/><stop offset="0.6000" stop-color="#1caadf"/><stop offset="0.6500" stop-color="#259ce7"/><stop offset="0.7000" stop-color="#2d8cf3"/><stop offset="0.7500" stop-color="#347afd"/><stop offset="0.8000" stop-color="#4367fd"/><stop offset="0.8500" stop-color="#4755f6"/><stop offset="0.9000" stop-color="#4743e7"/><stop offset="0.9500" stop-color="#4433cc"/><stop offset="1.0000" stop-color="#3e26a8"/></linearGradient></defs><rect x="128.35" y="107.92" width="7.17" height="58.27" fill="#1b00ff" stroke="#0a0a50" stroke-width="0.5"/>
<rect x="137.42" y="165.09" width="7.17" height="1.11" fill="#1b00ff" stroke="#0a0a50" stroke-width="0.5"/>
<rect x="146.48" y="166.01" width="7.17" height="0.18" fill="#1b00ff" stroke="#0a0a50" stroke-width="0.5"/>
<rect x="155.55" y="165.64" width="7.17" height="0.55" fill="#1b00ff" stroke="#0a0a50" stroke-width="0.5"/>
<rect x="164.62" y="165.83" width="7.17" height="0.37" fill="#1b00ff" stroke="#0a0a50" stroke-width="0.5"/>
<rect x="173.69" y="165.83" width="7.17" height="0.37" fill="#1b00ff" stroke="#0a0a50" stroke-width="0.5"/>
<rect x="182.75" y="165.64" width="7.17" height="0.55" fill="#1b00ff" stroke="#0a0a50" stroke-width="0.5"/>
<rect x="191.82" y="165.09" width="7.17" height="1.11" fill="#1b00ff" stroke="#0a0a50" stroke-width="0.5"/>
<rect x="200.89" y="158.61" width="7.17" height="7.58" fill="#1b00ff" stroke="#0a0a50" stroke-width="0.5"/>
<rect x="209.95" y="164.16" width="7.17" height="2.04" fill="#1b00ff" stroke="#0a0a50" stroke-width="0.5"/>
<rect x="219.02" y="147.70" width="7.17" height="18.50" fill="#1b00ff" stroke="#0a0a50" stroke-width="0.5"/>
<rect x="228.09" y="120.87" width="7.17" height="45.33" fill="#1b00ff" stroke="#0a0a50" stroke-width="0.5"/>
<rect x="237.15" y="160.09" width="7.17" height="6.10" fill="#1b00ff" stroke="#0a0a50" stroke-width="0.5"/>
<rect x="246.22" y="162.50" width="7.17" height="3.70" fill="#1b00ff" stroke="#0a0a50" stroke-width="0.5"/>
<rect x="255.29" y="165.46" width="7.17" height="0.74" fill="#1b00ff" stroke="#0a0a50" stroke-width="0.5"/>
<rect x="264.35" y="165.64" width="7.17" height="0.55" fill="#1b00ff" stroke="#0a0a50" stroke-width="0.5"/>
<rect x="309.69" y="165.27" width="7.17" height="0.93" fill="#1b00ff" stroke="#0a0a50" stroke-width="0.5"/>
<rect x="318.76" y="129.20" width="7.17" height="37.00" fill="#1b00ff" stroke="#0a0a50" stroke-width="0.5"/>
<rect x="327.82" y="73.33" width="7.17" height="92.87" fill="#1b00ff" stroke="#0a0a50" stroke-width="0.5"/>
<rect x="336.89" y="50.94" width="7.17" height="115.25" fill="#1b00ff" stroke="#0a0a50" stroke-width="0.5"/>
<rect x="345.96" y="60.38" width="7.17" height="105.82" fill="#1b00ff" stroke="#0a0a50" stroke-width="0.5"/>
<rect x="364.09" y="165.09" width="7.17" height="1.11" fill="#1b00ff" stroke="#0a0a50" stroke-width="0.5"/>
<rect x="373.16" y="165.64" width="7.17" height="0.55" fill="#1b00ff" stroke="#0a0a50" stroke-width="0.5"/>
<rect x="382.23" y="165.83" width="7.17" height="0.37" fill="#1b00ff" stroke="#0a0a50" stroke-width="0.5"/>
<rect x="391.29" y="165.83" width="7.17" height="0.37" fill="#1b00ff" stroke="#0a0a50" stroke-width="0.5"/>
<rect x="400.36" y="165.64" width="7.17" height="0.55" fill="#1b00ff" stroke="#0a0a50" stroke-width="0.5"/>
<rect x="409.43" y="157.69" width="7.17" height="8.51" fill="#1b00ff" stroke="#0a0a50" stroke-width="0.5"/>
<rect x="418.49" y="150.29" width="7.17" height="15.91" fill="#1b00ff" stroke="#0a0a50" stroke-width="0.5"/>
<rect x="427.56" y="128.83" width="7.17" height="37.37" fill="#1b00ff" stroke="#0a0a50" stroke-width="0.5"/>
<rect x="436.63" y="59.27" width="7.17" height="106.93" fill="#1b00ff" stroke="#0a0a50" stroke-width="0.5"/>
<rect x="445.69" y="147.88" width="7.17" height="18.32" fill="#1b00ff" stroke="#0a0a50" stroke-width="0.5"/>
<rect x="454.76" y="119.76" width="7.17" height="46.44" fill="#1b00ff" stroke="#0a0a50" stroke-width="0.5"/>
<rect x="463.83" y="148.25" width="7.17" height="17.95" fill="#1b00ff" stroke="#0a0a50" stroke-width="0.5"/>
<rect x="472.90" y="165.46" width="7.17" height="0.74" fill="#1b00ff" stroke="#0a0a50" stroke-width="0.5"/>
<rect x="481.96" y="165.83" width="7.17" height="0.37" fill="#1b00ff" stroke="#0a0a50" stroke-width="0.5"/>
<rect x="500.10" y="165.83" width="7.17" height="0.37" fill="#1b00ff" stroke="#0a0a50" stroke-width="0.5"/>
<rect x="509.16" y="165.64" width="7.17" height="0.55" fill="#1b00ff" stroke="#0a0a50" stroke-width="0.5"/>
<rect x="518.23" y="164.16" width="7.17" height="2.04" fill="#1b00ff" stroke="#0a0a50" stroke-width="0.5"/>
<rect x="527.30" y="164.16" width="7.17" height="2.04" fill="#1b00ff" stroke="#0a0a50" stroke-width="0.5"/>
<rect x="536.37" y="119.02" width="7.17" height="47.17" fill="#1b00ff" stroke="#0a0a50" stroke-width="0.5"/>
<rect x="545.43" y="115.51" width="7.17" height="50.69" fill="#1b00ff" stroke="#0a0a50" stroke-width="0.5"/>
<rect x="554.50" y="145.11" width="7.17" height="21.09" fill="#1b00ff" stroke="#0a0a50" stroke-width="0.5"/>
<rect x="563.57" y="161.57" width="7.17" height="4.62" fill="#1b00ff" stroke="#0a0a50" stroke-width="0.5"/>
<rect x="572.63" y="165.64" width="7.17" height="0.55" fill="#1b00ff" stroke="#0a0a50" stroke-width="0.5"/>
<rect x="581.70" y="165.64" width="7.17" height="0.55" fill="#1b00ff" stroke="#0a0a50" stroke-width="0.5"/>
<rect x="599.83" y="165.83" width="7.17" height="0.37" fill="#1b00ff" stroke="#0a0a50" stroke-width="0.5"/>
<line x1="236.20" y1="5.50" x2="236.20" y2="166.20" stroke="#333" stroke-width="0.9" stroke-dasharray="1.5 1.5"/>
<line x1="345.01" y1="5.50" x2="345.01" y2="166.20" stroke="#333" stroke-width="0.9" stroke-dasharray="1.5 1.5"/>
<line x1="453.81" y1="5.50" x2="453.81" y2="166.20" stroke="#333" stroke-width="0.9" stroke-dasharray="1.5 1.5"/>
<line x1="562.62" y1="5.50" x2="562.62" y2="166.20" stroke="#333" stroke-width="0.9" stroke-dasharray="1.5 1.5"/>
<path d="M127.40 5.50H605.80V166.20H127.40Z" fill="none" stroke="#6e6e6e" stroke-width="0.9"/>
<path d="M127.40 5.50v-4.4M127.40 166.20v4.6M136.47 5.50v-4.4M136.47 166.20v4.6M145.53 5.50v-4.4M145.53 166.20v4.6M154.60 5.50v-4.4M154.60 166.20v4.6M163.67 5.50v-4.4M163.67 166.20v4.6M172.74 5.50v-4.4M172.74 166.20v4.6M181.80 5.50v-4.4M181.80 166.20v4.6M190.87 5.50v-4.4M190.87 166.20v4.6M199.94 5.50v-4.4M199.94 166.20v4.6M209.00 5.50v-4.4M209.00 166.20v4.6M218.07 5.50v-4.4M218.07 166.20v4.6M227.14 5.50v-4.4M227.14 166.20v4.6M236.20 5.50v-4.4M236.20 166.20v4.6M245.27 5.50v-4.4M245.27 166.20v4.6M254.34 5.50v-4.4M254.34 166.20v4.6M263.40 5.50v-4.4M263.40 166.20v4.6M272.47 5.50v-4.4M272.47 166.20v4.6M281.54 5.50v-4.4M281.54 166.20v4.6M290.61 5.50v-4.4M290.61 166.20v4.6M299.67 5.50v-4.4M299.67 166.20v4.6M308.74 5.50v-4.4M308.74 166.20v4.6M317.81 5.50v-4.4M317.81 166.20v4.6M326.87 5.50v-4.4M326.87 166.20v4.6M335.94 5.50v-4.4M335.94 166.20v4.6M345.01 5.50v-4.4M345.01 166.20v4.6M354.08 5.50v-4.4M354.08 166.20v4.6M363.14 5.50v-4.4M363.14 166.20v4.6M372.21 5.50v-4.4M372.21 166.20v4.6M381.28 5.50v-4.4M381.28 166.20v4.6M390.34 5.50v-4.4M390.34 166.20v4.6M399.41 5.50v-4.4M399.41 166.20v4.6M408.48 5.50v-4.4M408.48 166.20v4.6M417.54 5.50v-4.4M417.54 166.20v4.6M426.61 5.50v-4.4M426.61 166.20v4.6M435.68 5.50v-4.4M435.68 166.20v4.6M444.75 5.50v-4.4M444.75 166.20v4.6M453.81 5.50v-4.4M453.81 166.20v4.6M462.88 5.50v-4.4M462.88 166.20v4.6M471.95 5.50v-4.4M471.95 166.20v4.6M481.01 5.50v-4.4M481.01 166.20v4.6M490.08 5.50v-4.4M490.08 166.20v4.6M499.15 5.50v-4.4M499.15 166.20v4.6M508.21 5.50v-4.4M508.21 166.20v4.6M517.28 5.50v-4.4M517.28 166.20v4.6M526.35 5.50v-4.4M526.35 166.20v4.6M535.41 5.50v-4.4M535.41 166.20v4.6M544.48 5.50v-4.4M544.48 166.20v4.6M553.55 5.50v-4.4M553.55 166.20v4.6M562.62 5.50v-4.4M562.62 166.20v4.6M571.68 5.50v-4.4M571.68 166.20v4.6M580.75 5.50v-4.4M580.75 166.20v4.6M589.82 5.50v-4.4M589.82 166.20v4.6M598.88 5.50v-4.4M598.88 166.20v4.6M127.40 166.20h-5.1M605.80 166.20h4.9M127.40 129.20h-5.1M605.80 129.20h4.9M127.40 92.20h-5.1M605.80 92.20h4.9M127.40 55.20h-5.1M605.80 55.20h4.9M127.40 18.20h-5.1M605.80 18.20h4.9" fill="none" stroke="#6e6e6e" stroke-width="0.9"/>
<text x="118.0" y="170.40" text-anchor="end" font-size="11.8" fill="#4a4a4a">0</text>
<text x="118.0" y="133.40" text-anchor="end" font-size="11.8" fill="#4a4a4a">200</text>
<text x="118.0" y="96.40" text-anchor="end" font-size="11.8" fill="#4a4a4a">400</text>
<text x="118.0" y="59.40" text-anchor="end" font-size="11.8" fill="#4a4a4a">600</text>
<text x="118.0" y="22.40" text-anchor="end" font-size="11.8" fill="#4a4a4a">800</text>
<text transform="translate(132.60 176.3) rotate(-90)" text-anchor="end" font-size="11.8" fill="#4a4a4a">Jan</text>
<text transform="translate(150.73 176.3) rotate(-90)" text-anchor="end" font-size="11.8" fill="#4a4a4a">Mar</text>
<text transform="translate(168.87 176.3) rotate(-90)" text-anchor="end" font-size="11.8" fill="#4a4a4a">May</text>
<text transform="translate(187.00 176.3) rotate(-90)" text-anchor="end" font-size="11.8" fill="#4a4a4a">Jul</text>
<text transform="translate(205.14 176.3) rotate(-90)" text-anchor="end" font-size="11.8" fill="#4a4a4a">Sep</text>
<text transform="translate(223.27 176.3) rotate(-90)" text-anchor="end" font-size="11.8" fill="#4a4a4a">Nov</text>
<text transform="translate(241.40 176.3) rotate(-90)" text-anchor="end" font-size="11.8" fill="#4a4a4a">Jan</text>
<text transform="translate(259.54 176.3) rotate(-90)" text-anchor="end" font-size="11.8" fill="#4a4a4a">Mar</text>
<text transform="translate(277.67 176.3) rotate(-90)" text-anchor="end" font-size="11.8" fill="#4a4a4a">May</text>
<text transform="translate(295.81 176.3) rotate(-90)" text-anchor="end" font-size="11.8" fill="#4a4a4a">Jul</text>
<text transform="translate(313.94 176.3) rotate(-90)" text-anchor="end" font-size="11.8" fill="#4a4a4a">Sep</text>
<text transform="translate(332.07 176.3) rotate(-90)" text-anchor="end" font-size="11.8" fill="#4a4a4a">Nov</text>
<text transform="translate(350.21 176.3) rotate(-90)" text-anchor="end" font-size="11.8" fill="#4a4a4a">Jan</text>
<text transform="translate(368.34 176.3) rotate(-90)" text-anchor="end" font-size="11.8" fill="#4a4a4a">Mar</text>
<text transform="translate(386.48 176.3) rotate(-90)" text-anchor="end" font-size="11.8" fill="#4a4a4a">May</text>
<text transform="translate(404.61 176.3) rotate(-90)" text-anchor="end" font-size="11.8" fill="#4a4a4a">Jul</text>
<text transform="translate(422.74 176.3) rotate(-90)" text-anchor="end" font-size="11.8" fill="#4a4a4a">Sep</text>
<text transform="translate(440.88 176.3) rotate(-90)" text-anchor="end" font-size="11.8" fill="#4a4a4a">Nov</text>
<text transform="translate(459.01 176.3) rotate(-90)" text-anchor="end" font-size="11.8" fill="#4a4a4a">Jan</text>
<text transform="translate(477.15 176.3) rotate(-90)" text-anchor="end" font-size="11.8" fill="#4a4a4a">Mar</text>
<text transform="translate(495.28 176.3) rotate(-90)" text-anchor="end" font-size="11.8" fill="#4a4a4a">May</text>
<text transform="translate(513.41 176.3) rotate(-90)" text-anchor="end" font-size="11.8" fill="#4a4a4a">Jul</text>
<text transform="translate(531.55 176.3) rotate(-90)" text-anchor="end" font-size="11.8" fill="#4a4a4a">Sep</text>
<text transform="translate(549.68 176.3) rotate(-90)" text-anchor="end" font-size="11.8" fill="#4a4a4a">Nov</text>
<text transform="translate(567.82 176.3) rotate(-90)" text-anchor="end" font-size="11.8" fill="#4a4a4a">Jan</text>
<text transform="translate(585.95 176.3) rotate(-90)" text-anchor="end" font-size="11.8" fill="#4a4a4a">Mar</text>
<text transform="translate(91.9 85.7) rotate(-90)" text-anchor="middle" font-size="12.55" fill="#4a4a4a">average calls/day</text>
<text x="183.8" y="24.2" text-anchor="middle" font-size="14.3" font-weight="bold" fill="#111">2018</text>
<text x="290.5" y="24.2" text-anchor="middle" font-size="14.3" font-weight="bold" fill="#111">2019</text>
<text x="397.7" y="24.2" text-anchor="middle" font-size="14.3" font-weight="bold" fill="#111">2020</text>
<text x="507.0" y="24.2" text-anchor="middle" font-size="14.3" font-weight="bold" fill="#111">2021</text>
<text x="584.3" y="24.2" text-anchor="middle" font-size="14.3" font-weight="bold" fill="#111">2022</text>
<text x="0.3" y="24.1" font-family="Liberation Serif,serif" font-size="23.8" fill="#111">a)</text>
<text x="0.3" y="222.6" font-family="Liberation Serif,serif" font-size="23.8" fill="#111">b)</text>
<rect x="54.80" y="224.30" width="258.00" height="166.80" fill="none" stroke="#161616" stroke-width="0.8"/>
<path d="M54.80 374.42h2.4M312.80 374.42h-2.4M54.80 357.74h2.4M312.80 357.74h-2.4M54.80 341.06h2.4M312.80 341.06h-2.4M54.80 324.38h2.4M312.80 324.38h-2.4M54.80 307.70h2.4M312.80 307.70h-2.4M54.80 291.02h2.4M312.80 291.02h-2.4M54.80 274.34h2.4M312.80 274.34h-2.4M54.80 257.66h2.4M312.80 257.66h-2.4M54.80 240.98h2.4M312.80 240.98h-2.4M76.60 391.10v-2.4M76.60 224.30v2.4M135.40 391.10v-2.4M135.40 224.30v2.4M194.20 391.10v-2.4M194.20 224.30v2.4M253.30 391.10v-2.4M253.30 224.30v2.4" fill="none" stroke="#161616" stroke-width="0.7"/>
<text class="s" x="52.50" y="394.20" text-anchor="end" font-size="7.2" fill="#161616">0</text>
<text class="s" x="52.50" y="377.52" text-anchor="end" font-size="7.2" fill="#161616">50</text>
<text class="s" x="52.50" y="360.84" text-anchor="end" font-size="7.2" fill="#161616">100</text>
<text class="s" x="52.50" y="344.16" text-anchor="end" font-size="7.2" fill="#161616">150</text>
<text class="s" x="52.50" y="327.48" text-anchor="end" font-size="7.2" fill="#161616">200</text>
<text class="s" x="52.50" y="310.80" text-anchor="end" font-size="7.2" fill="#161616">250</text>
<text class="s" x="52.50" y="294.12" text-anchor="end" font-size="7.2" fill="#161616">300</text>
<text class="s" x="52.50" y="277.44" text-anchor="end" font-size="7.2" fill="#161616">350</text>
<text class="s" x="52.50" y="260.76" text-anchor="end" font-size="7.2" fill="#161616">400</text>
<text class="s" x="52.50" y="244.08" text-anchor="end" font-size="7.2" fill="#161616">450</text>
<text class="s" x="52.50" y="227.40" text-anchor="end" font-size="7.2" fill="#161616">500</text>
<text class="s" x="76.60" y="400.8" text-anchor="middle" font-size="7.3" fill="#161616">May/03/20</text>
<text class="s" x="135.40" y="400.8" text-anchor="middle" font-size="7.3" fill="#161616">May/10</text>
<text class="s" x="194.20" y="400.8" text-anchor="middle" font-size="7.3" fill="#161616">May/17</text>
<text class="s" x="253.30" y="400.8" text-anchor="middle" font-size="7.3" fill="#161616">May/24</text>
<text class="s" x="312.30" y="400.8" text-anchor="middle" font-size="7.3" fill="#161616">May/31</text>
<text class="s" transform="translate(37.80 307.70) rotate(-90)" text-anchor="middle" font-size="7.6" fill="#161616">Frequency (Hz)</text>
<rect x="315.10" y="224.30" width="3.80" height="166.80" fill="url(#cb)" stroke="#8a8a8a" stroke-width="0.55"/>
<path d="M318.90 367.27h-1.3M318.90 343.44h-1.3M318.90 319.61h-1.3M318.90 295.79h-1.3M318.90 271.96h-1.3M318.90 248.13h-1.3" fill="none" stroke="#161616" stroke-width="0.5"/>
<text class="s" x="321.20" y="393.70" font-size="5.9" fill="#161616">40</text>
<text class="s" x="321.20" y="369.87" font-size="5.9" fill="#161616">50</text>
<text class="s" x="321.20" y="346.04" font-size="5.9" fill="#161616">60</text>
<text class="s" x="321.20" y="322.21" font-size="5.9" fill="#161616">70</text>
<text class="s" x="321.20" y="298.39" font-size="5.9" fill="#161616">80</text>
<text class="s" x="321.20" y="274.56" font-size="5.9" fill="#161616">90</text>
<text class="s" x="321.20" y="250.73" font-size="5.9" fill="#161616">100</text>
<text class="s" x="321.20" y="226.90" font-size="5.9" fill="#161616">110</text>
<text class="s" transform="translate(340.50 307.70) rotate(-90)" text-anchor="middle" font-size="6.3" fill="#161616">dB re 1 uPa<tspan font-size="4.4" dy="-2.2">2</tspan><tspan dy="2.2">/Hz</tspan></text>
<rect x="313.3" y="224.30" width="1.6" height="166.80" fill="#b4b4b4"/>
<line x1="182" y1="374.4" x2="246" y2="374.4" stroke="#f6e04a" stroke-width="1" stroke-dasharray="2.2 0.8 1 0.7 3 1" opacity="0.45"/>
<line x1="183" y1="374.4" x2="201" y2="374.4" stroke="#fdf26a" stroke-width="0.9" opacity="0.35"/>
<line x1="182" y1="238.4" x2="222" y2="238.4" stroke="#d8cc45" stroke-width="0.9" stroke-dasharray="1.6 0.9 0.8 0.8" opacity="0.7"/>
<rect x="73.6" y="244.6" width="1.2" height="4.2" fill="#d9cf3f" opacity="0.80"/>
<rect x="99.8" y="261.0" width="1.6" height="2.2" fill="#8fdc8a" opacity="0.70"/>
<rect x="145.6" y="276.0" width="1.2" height="3.0" fill="#8fdc8a" opacity="0.60"/>
<rect x="141.0" y="295.5" width="1.2" height="3.2" fill="#b6d95a" opacity="0.70"/>
<rect x="82.3" y="318.2" width="3.0" height="2.2" fill="#86dc8c" opacity="0.80"/>
<rect x="143.0" y="319.2" width="3.0" height="2.2" fill="#86dc8c" opacity="0.80"/>
<rect x="264.4" y="240.5" width="1.4" height="1.6" fill="#b9dc5c" opacity="0.60"/>
<rect x="504.0" y="242.5" width="1.3" height="4.0" fill="#e6d83c" opacity="0.85"/>
<rect x="490.0" y="257.5" width="1.6" height="2.6" fill="#c6dc4c" opacity="0.75"/>
<rect x="480.5" y="244.0" width="1.2" height="2.0" fill="#9fdc7c" opacity="0.60"/>
<rect x="476.5" y="247.0" width="1.2" height="2.0" fill="#9fdc7c" opacity="0.60"/>
<rect x="525.6" y="253.5" width="2.0" height="2.4" fill="#b9dc5c" opacity="0.80"/>
<rect x="543.6" y="287.0" width="1.3" height="2.6" fill="#b9dc5c" opacity="0.60"/>
<rect x="578.4" y="334.3" width="1.4" height="1.6" fill="#c6c050" opacity="0.60"/>
<rect x="558.4" y="355.5" width="1.6" height="1.8" fill="#f0a040" opacity="0.70"/>
<rect x="389.90" y="224.30" width="252.50" height="166.80" fill="none" stroke="#161616" stroke-width="0.8"/>
<path d="M389.90 374.42h2.4M642.40 374.42h-2.4M389.90 357.74h2.4M642.40 357.74h-2.4M389.90 341.06h2.4M642.40 341.06h-2.4M389.90 324.38h2.4M642.40 324.38h-2.4M389.90 307.70h2.4M642.40 307.70h-2.4M389.90 291.02h2.4M642.40 291.02h-2.4M389.90 274.34h2.4M642.40 274.34h-2.4M389.90 257.66h2.4M642.40 257.66h-2.4M389.90 240.98h2.4M642.40 240.98h-2.4M402.40 391.10v-2.4M402.40 224.30v2.4M462.00 391.10v-2.4M462.00 224.30v2.4M521.40 391.10v-2.4M521.40 224.30v2.4M581.30 391.10v-2.4M581.30 224.30v2.4M641.30 391.10v-2.4M641.30 224.30v2.4" fill="none" stroke="#161616" stroke-width="0.7"/>
<text class="s" x="387.60" y="394.20" text-anchor="end" font-size="7.2" fill="#161616">0</text>
<text class="s" x="387.60" y="377.52" text-anchor="end" font-size="7.2" fill="#161616">50</text>
<text class="s" x="387.60" y="360.84" text-anchor="end" font-size="7.2" fill="#161616">100</text>
<text class="s" x="387.60" y="344.16" text-anchor="end" font-size="7.2" fill="#161616">150</text>
<text class="s" x="387.60" y="327.48" text-anchor="end" font-size="7.2" fill="#161616">200</text>
<text class="s" x="387.60" y="310.80" text-anchor="end" font-size="7.2" fill="#161616">250</text>
<text class="s" x="387.60" y="294.12" text-anchor="end" font-size="7.2" fill="#161616">300</text>
<text class="s" x="387.60" y="277.44" text-anchor="end" font-size="7.2" fill="#161616">350</text>
<text class="s" x="387.60" y="260.76" text-anchor="end" font-size="7.2" fill="#161616">400</text>
<text class="s" x="387.60" y="244.08" text-anchor="end" font-size="7.2" fill="#161616">450</text>
<text class="s" x="387.60" y="227.40" text-anchor="end" font-size="7.2" fill="#161616">500</text>
<text class="s" x="402.40" y="400.8" text-anchor="middle" font-size="7.3" fill="#161616">Aug/02/20</text>
<text class="s" x="462.00" y="400.8" text-anchor="middle" font-size="7.3" fill="#161616">Aug/09</text>
<text class="s" x="521.40" y="400.8" text-anchor="middle" font-size="7.3" fill="#161616">Aug/16</text>
<text class="s" x="581.30" y="400.8" text-anchor="middle" font-size="7.3" fill="#161616">Aug/23</text>
<text class="s" x="641.30" y="400.8" text-anchor="middle" font-size="7.3" fill="#161616">Aug/30</text>
<text class="s" transform="translate(372.90 307.70) rotate(-90)" text-anchor="middle" font-size="7.6" fill="#161616">Frequency (Hz)</text>
<rect x="656.20" y="224.30" width="5.60" height="166.80" fill="url(#cb)" stroke="#8a8a8a" stroke-width="0.55"/>
<path d="M661.80 367.27h-1.3M661.80 343.44h-1.3M661.80 319.61h-1.3M661.80 295.79h-1.3M661.80 271.96h-1.3M661.80 248.13h-1.3" fill="none" stroke="#161616" stroke-width="0.5"/>
<text class="s" x="664.10" y="393.70" font-size="5.9" fill="#161616">40</text>
<text class="s" x="664.10" y="369.87" font-size="5.9" fill="#161616">50</text>
<text class="s" x="664.10" y="346.04" font-size="5.9" fill="#161616">60</text>
<text class="s" x="664.10" y="322.21" font-size="5.9" fill="#161616">70</text>
<text class="s" x="664.10" y="298.39" font-size="5.9" fill="#161616">80</text>
<text class="s" x="664.10" y="274.56" font-size="5.9" fill="#161616">90</text>
<text class="s" x="664.10" y="250.73" font-size="5.9" fill="#161616">100</text>
<text class="s" x="664.10" y="226.90" font-size="5.9" fill="#161616">110</text>
<text class="s" transform="translate(683.40 307.70) rotate(-90)" text-anchor="middle" font-size="6.3" fill="#161616">dB re 1 uPa<tspan font-size="4.4" dy="-2.2">2</tspan><tspan dy="2.2">/Hz</tspan></text></svg>
</div></body></html>
